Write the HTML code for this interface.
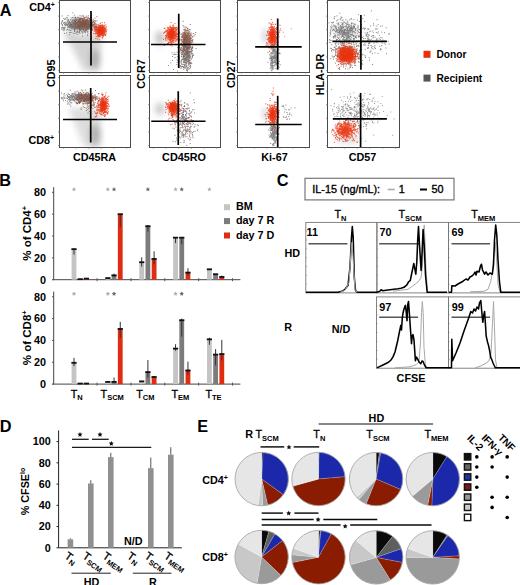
<!DOCTYPE html>
<html><head><meta charset="utf-8"><style>
html,body{margin:0;padding:0;background:#fff;width:520px;height:585px;overflow:hidden}
svg{display:block;font-family:"Liberation Sans", sans-serif}
</style></head><body>
<svg width="520" height="585" viewBox="0 0 520 585" font-family='"Liberation Sans", sans-serif'>
<defs>
<filter id="b1" x="-50%" y="-50%" width="200%" height="200%"><feGaussianBlur stdDeviation="1"/></filter>
<filter id="b2" x="-50%" y="-50%" width="200%" height="200%"><feGaussianBlur stdDeviation="2"/></filter>
<filter id="b3" x="-50%" y="-50%" width="200%" height="200%"><feGaussianBlur stdDeviation="3"/></filter>
<filter id="b4" x="-50%" y="-50%" width="200%" height="200%"><feGaussianBlur stdDeviation="4"/></filter>
<filter id="b5" x="-50%" y="-50%" width="200%" height="200%"><feGaussianBlur stdDeviation="5"/></filter>
</defs>
<rect width="520" height="585" fill="#fff"/>
<text x="-0.3" y="16.0" font-size="16.3" font-weight="bold" text-anchor="start" fill="#000">A</text>
<text x="-0.8" y="186.3" font-size="16.3" font-weight="bold" text-anchor="start" fill="#000">B</text>
<text x="276.7" y="185.7" font-size="16.3" font-weight="bold" text-anchor="start" fill="#000">C</text>
<text x="-0.2" y="431.6" font-size="16.3" font-weight="bold" text-anchor="start" fill="#000">D</text>
<text x="197.2" y="432.0" font-size="16.3" font-weight="bold" text-anchor="start" fill="#000">E</text>
<polygon points="65,34 102,34 99,71 84,71" fill="#a0a0a0" opacity="0.45" filter="url(#b3)"/>
<ellipse cx="95" cy="59" rx="4.5" ry="10" fill="#707070" opacity="0.4" filter="url(#b3)"/>
<ellipse cx="70" cy="34" rx="6" ry="6" fill="#b0b0b0" opacity="0.3" filter="url(#b3)"/>
<ellipse cx="80" cy="24" rx="12" ry="5.5" fill="#888" opacity="0.5" filter="url(#b2)"/>
<ellipse cx="85" cy="24" rx="7" ry="4.5" fill="#8a5040" opacity="0.6" filter="url(#b2)"/>
<path d="M73.2 26.2h1M73.4 23.4h1M68.5 23.8h1M82.8 25.9h1M82.3 25.3h1M77.8 25.1h1M63.3 27.4h1M78.5 26.2h1M63.2 18.6h1M68.8 22.9h1M77.1 24.3h1M78.6 22.3h1M77.2 25.8h1M70.4 30.3h1M78.9 28.6h1M70.7 22.0h1M72.6 24.1h1M79.4 25.3h1M71.9 21.2h1M71.4 28.7h1M69.3 25.3h1M78.0 19.4h1M75.3 28.9h1M60.9 23.4h1M74.3 21.7h1M78.5 24.3h1M64.7 27.3h1M79.7 27.7h1M85.1 25.7h1M75.8 20.1h1M79.3 22.4h1M71.8 20.2h1M68.2 22.7h1M84.0 17.6h1M64.8 25.3h1M85.1 26.5h1M61.7 15.9h1M77.5 22.0h1M67.2 27.8h1M82.7 25.0h1M76.7 26.0h1M86.2 26.6h1M78.6 26.4h1M64.0 28.9h1M81.7 26.3h1M61.2 22.3h1M80.9 18.3h1M73.7 28.0h1M65.8 30.0h1M78.9 24.0h1M77.3 26.7h1M75.8 28.4h1M70.4 23.1h1M82.3 24.6h1M68.8 27.7h1M85.3 23.0h1M65.3 24.0h1M74.0 23.5h1M84.8 21.0h1M83.8 20.2h1M69.5 26.6h1M82.9 27.4h1M77.4 25.0h1M76.1 26.5h1M73.8 25.4h1M79.0 24.5h1M80.3 26.4h1M89.1 25.6h1M72.0 23.2h1M74.9 27.6h1M72.6 25.8h1M87.9 15.8h1M67.1 25.3h1M77.8 25.3h1M72.0 26.7h1M77.0 22.7h1M92.0 25.7h1M71.1 24.2h1M73.4 24.3h1M82.1 20.5h1M74.5 27.7h1M81.0 29.6h1M63.1 23.3h1M72.6 26.6h1M82.6 15.4h1M82.6 19.6h1M79.8 19.4h1M76.2 28.6h1M74.0 25.1h1M80.6 25.0h1M74.4 29.7h1M82.3 23.5h1M94.2 20.6h1M81.4 23.6h1M75.9 26.9h1M76.6 26.7h1M64.3 19.4h1M79.3 21.2h1M67.8 19.5h1M83.9 27.0h1M85.3 21.3h1M75.0 20.6h1M80.4 29.9h1M68.8 29.8h1M81.9 23.9h1M61.2 29.3h1M74.3 22.5h1M77.8 25.9h1M85.5 21.0h1M83.0 29.6h1M85.2 23.9h1M69.8 28.0h1M75.8 24.9h1M85.0 23.6h1M62.0 27.3h1M77.2 22.4h1M74.9 27.3h1M75.6 29.0h1M74.6 28.0h1M85.4 30.0h1M70.3 27.5h1M61.9 20.8h1M61.3 28.1h1M66.4 24.5h1M73.7 24.4h1M70.9 25.3h1M87.5 24.7h1M78.7 27.9h1M73.6 20.2h1M71.1 28.2h1M63.5 22.5h1M82.1 27.2h1M75.1 27.2h1M76.2 20.5h1M64.1 22.3h1M81.5 22.6h1M68.7 21.9h1M64.3 24.1h1M66.7 25.7h1M70.5 17.9h1M80.1 23.6h1M77.0 22.9h1M80.5 27.0h1M79.7 25.6h1M84.3 26.7h1M78.2 17.4h1M81.3 29.0h1M72.9 22.9h1M88.6 18.5h1M78.3 32.7h1M68.5 26.8h1M88.2 24.1h1M78.9 27.6h1M68.7 24.2h1M77.0 27.3h1M74.8 23.8h1M67.9 23.3h1M81.2 24.8h1M69.0 21.6h1M93.7 28.4h1M79.5 15.7h1M79.4 26.1h1M86.8 26.0h1M74.5 26.3h1M61.4 28.0h1M77.3 22.1h1M84.3 30.7h1M65.2 22.2h1M77.0 25.1h1M72.2 21.2h1M89.8 28.0h1M66.6 19.9h1M86.9 27.9h1M87.7 27.3h1M68.9 25.4h1M74.6 26.3h1M69.9 24.1h1M78.2 25.8h1M79.5 25.2h1M72.7 27.2h1M75.3 21.7h1M70.6 24.5h1M74.2 25.0h1M75.0 25.1h1M74.1 20.2h1M77.9 28.1h1M78.0 23.9h1M78.1 21.2h1M61.7 24.7h1M68.5 27.0h1M67.4 15.6h1M67.7 29.9h1M72.3 19.8h1M69.7 26.3h1M78.5 25.1h1M85.4 26.9h1M74.9 26.5h1M86.6 27.8h1M82.2 20.8h1M74.0 27.0h1M72.9 28.1h1M79.2 27.6h1M73.5 33.2h1M83.7 23.8h1M75.6 33.3h1M72.6 27.5h1M81.9 24.5h1M66.8 25.1h1M77.5 28.3h1M80.5 24.6h1M81.0 26.3h1M76.4 24.7h1M73.3 26.8h1M67.6 22.4h1M75.0 19.5h1M71.9 17.7h1M70.2 26.4h1M79.0 24.3h1M73.4 19.7h1M87.8 26.3h1M82.7 21.5h1M73.7 18.3h1M80.5 27.7h1M61.7 24.3h1M79.4 18.5h1M62.2 20.9h1M70.6 19.7h1M75.2 25.3h1M79.4 26.9h1M85.5 28.5h1M65.8 22.8h1M67.6 20.8h1M74.4 24.5h1M78.4 19.1h1M66.3 24.4h1M73.6 23.4h1M74.6 21.9h1M79.9 25.7h1M74.4 22.2h1M73.8 15.2h1M68.1 24.6h1M64.5 25.2h1M76.0 19.8h1M73.2 23.4h1M78.2 26.6h1M74.7 21.6h1M74.0 24.3h1M80.1 25.5h1M69.9 19.9h1M72.4 22.0h1M67.2 24.1h1M71.6 24.9h1M78.7 23.1h1M91.3 23.4h1M82.7 24.9h1M82.8 16.4h1M69.7 25.3h1M79.2 32.4h1M77.3 28.9h1M80.4 27.7h1M78.6 24.0h1M78.6 20.8h1M83.3 21.0h1M76.7 31.7h1M73.4 24.6h1M83.1 24.6h1M69.3 25.4h1M79.1 26.9h1M69.6 30.5h1M86.7 24.6h1M76.9 23.0h1M84.9 22.1h1M79.7 22.9h1M70.1 26.9h1M84.3 24.5h1M70.3 27.3h1M74.7 25.6h1M85.7 28.3h1M71.4 32.3h1M75.0 27.2h1M70.5 24.3h1M62.8 30.6h1M84.6 20.4h1M64.5 19.0h1M83.2 22.9h1M74.6 23.4h1M74.2 20.8h1M75.2 19.6h1M74.5 25.5h1M78.3 23.7h1M68.7 25.0h1M71.6 29.8h1M80.4 24.1h1M71.7 22.1h1M68.4 23.3h1M77.1 26.3h1M79.0 31.6h1M70.1 24.5h1M94.6 18.2h1M71.3 25.1h1M76.1 25.9h1M73.3 25.7h1M75.4 27.1h1M61.8 21.5h1M75.0 21.0h1M67.7 26.6h1M70.5 26.7h1M80.2 25.5h1M78.6 24.1h1M65.1 24.4h1M78.2 22.7h1M74.3 27.0h1M68.9 26.7h1M88.0 22.6h1M76.0 24.0h1M85.8 25.6h1M81.3 22.2h1M74.9 24.5h1M62.6 29.4h1M81.3 18.6h1M80.2 24.1h1M78.1 25.7h1M64.5 23.8h1M85.4 22.5h1M67.8 19.9h1M66.5 25.6h1M86.8 26.0h1M76.7 32.1h1M71.4 22.2h1M78.7 26.4h1M67.9 20.5h1M77.0 25.3h1M65.9 23.8h1M71.2 26.1h1M74.2 24.2h1M72.5 28.1h1M84.7 23.3h1M80.9 21.9h1M75.5 27.0h1M85.6 23.2h1M74.5 25.2h1M64.5 24.6h1M70.3 25.8h1M67.1 17.8h1M75.3 25.4h1M71.2 27.5h1M73.1 22.4h1M78.3 19.2h1M70.3 24.4h1M80.9 23.9h1M77.2 22.3h1M77.1 30.2h1M70.2 32.5h1M70.5 24.6h1M76.2 28.0h1M66.3 17.4h1M79.2 27.2h1M79.4 33.4h1M76.4 25.4h1M81.5 25.8h1M86.6 20.3h1M72.4 12.8h1M80.7 23.2h1M81.5 31.8h1M75.0 23.6h1M71.5 21.7h1M70.6 26.7h1M75.3 24.7h1M73.8 27.6h1M78.5 24.0h1M79.7 24.0h1M66.9 29.4h1M78.3 21.2h1M82.6 25.7h1M64.0 30.0h1M77.3 27.5h1M76.4 24.0h1M64.2 27.8h1M75.2 23.5h1M77.5 24.8h1M79.7 23.2h1M74.7 17.2h1M72.0 26.8h1M84.4 23.3h1M74.2 29.9h1M72.7 27.0h1M86.7 24.6h1M83.6 22.1h1M76.5 24.2h1M75.8 28.3h1M91.7 22.2h1M71.0 26.2h1M67.6 26.2h1M79.0 23.6h1M78.7 19.2h1M80.3 19.2h1M70.1 22.6h1M72.2 27.4h1M75.6 23.1h1M78.8 29.9h1M75.0 25.7h1M83.7 25.4h1M66.0 33.0h1M90.5 17.8h1M74.7 25.9h1M81.8 26.8h1M73.1 20.9h1M75.7 28.0h1M67.4 21.0h1M74.8 17.9h1M73.2 23.0h1M78.2 22.1h1M68.8 23.2h1M74.7 22.2h1M75.1 27.1h1M83.3 30.3h1M69.5 23.1h1M69.9 24.4h1M78.7 19.9h1M78.2 24.4h1M62.2 25.5h1M83.4 18.1h1M80.7 25.2h1M78.3 26.0h1M84.1 23.7h1M81.1 23.1h1M80.1 21.7h1M74.2 30.4h1M78.1 24.0h1M67.0 21.8h1M76.4 27.7h1M78.0 26.3h1M74.7 29.1h1M72.3 22.6h1M81.2 24.7h1M73.1 22.5h1M73.2 26.6h1M77.5 20.4h1M78.0 25.1h1M68.0 27.1h1M73.0 23.4h1M80.6 29.0h1M70.2 26.0h1M68.9 32.4h1M71.5 28.6h1M70.5 27.3h1M90.5 15.9h1M72.0 26.2h1M74.3 22.2h1M90.1 24.8h1M63.5 27.4h1M62.9 28.4h1M71.0 25.0h1M83.8 24.9h1M65.3 18.7h1M83.3 27.0h1M69.3 27.4h1M78.5 26.7h1M81.3 27.0h1M81.2 16.1h1M76.2 26.2h1M92.9 21.3h1M72.7 24.6h1M81.2 23.0h1M83.0 21.8h1M76.9 22.7h1M76.1 22.2h1M63.8 28.2h1M77.1 22.6h1M76.4 27.9h1M68.2 24.1h1M78.8 26.3h1M72.7 17.3h1" stroke="#6e6e6e" stroke-width="1" opacity="0.85"/>
<path d="M91.8 25.5h1M85.1 23.7h1M86.4 23.2h1M79.4 22.3h1M81.7 22.7h1M78.6 26.4h1M77.8 26.5h1M79.4 25.6h1M92.6 25.1h1M81.0 24.6h1M85.8 19.3h1M81.7 25.0h1M82.4 24.7h1M89.0 26.8h1M90.0 26.3h1M83.4 24.4h1M83.5 23.6h1M84.0 19.3h1M83.2 24.4h1M79.6 24.4h1M87.8 24.0h1M96.4 16.7h1M83.9 19.0h1M90.4 32.5h1M71.2 24.9h1M87.9 23.6h1M88.0 17.8h1M89.7 25.6h1M85.1 22.7h1M88.5 23.0h1M86.2 23.0h1M72.6 24.4h1M86.1 26.8h1M80.2 24.4h1M88.4 24.9h1M91.8 30.5h1M80.0 18.7h1M89.7 29.1h1M90.1 26.9h1M81.6 22.4h1M89.9 21.8h1M75.0 21.5h1M98.7 30.3h1M81.2 22.3h1M86.3 22.3h1M92.2 24.3h1M79.0 28.4h1M81.8 25.2h1M84.9 23.6h1M86.8 22.4h1M74.9 17.9h1M78.0 22.2h1M84.9 24.7h1M88.1 24.9h1M80.6 22.4h1M73.3 24.0h1M87.7 26.1h1M84.3 24.0h1M90.1 24.5h1M89.1 26.2h1M86.2 28.4h1M81.9 23.4h1M80.6 22.1h1M93.6 29.8h1M85.1 26.2h1M91.5 26.9h1M91.6 20.7h1M81.5 25.9h1M92.9 24.8h1M80.3 23.4h1M81.4 21.9h1M93.3 22.6h1M85.1 31.0h1M91.5 25.5h1M81.6 25.7h1M93.9 26.4h1M91.9 24.8h1M87.8 23.9h1M87.3 28.4h1M77.1 24.3h1M86.3 22.8h1M83.3 26.9h1M96.0 26.4h1M86.8 19.8h1M95.6 24.7h1M84.8 21.1h1M84.7 21.2h1M85.4 25.9h1M85.2 25.3h1M80.3 28.8h1M81.4 19.0h1M84.0 22.2h1M79.4 23.4h1M86.6 21.0h1M84.2 28.8h1M88.8 24.0h1M85.7 24.1h1M84.7 26.7h1M84.5 17.3h1M84.9 21.8h1M88.6 22.7h1M85.8 31.0h1M79.2 21.1h1M77.2 17.3h1M74.7 25.6h1M81.5 18.9h1M76.8 26.4h1M80.7 23.4h1M86.8 28.6h1M95.7 27.6h1M85.8 25.1h1M94.9 28.8h1M83.3 25.9h1M86.6 24.7h1M82.2 20.5h1M82.1 19.9h1M91.7 26.1h1M78.4 28.7h1M89.9 18.8h1M95.1 26.9h1M96.4 20.8h1M87.9 25.8h1M86.1 25.0h1M90.8 20.0h1M78.2 20.3h1M81.9 22.7h1M87.0 25.3h1M85.2 22.5h1M82.6 27.4h1M89.2 24.8h1M83.2 29.2h1M81.7 26.4h1M91.3 23.7h1M89.5 21.2h1M90.6 25.1h1M76.3 26.5h1M80.1 28.3h1M81.3 24.0h1M86.6 23.5h1M86.4 22.8h1M88.7 24.5h1M86.2 16.2h1M91.4 24.6h1M75.2 24.8h1M87.6 27.7h1M79.0 29.1h1M84.1 31.7h1M84.2 26.5h1M83.0 21.2h1M91.0 27.2h1M93.5 27.1h1M81.8 19.5h1M81.4 22.5h1M80.5 26.2h1M86.8 23.7h1M85.9 24.1h1M86.2 26.8h1M90.3 22.4h1M76.7 28.8h1M85.6 27.8h1M76.0 23.5h1M85.1 20.2h1M82.2 26.7h1M90.9 29.3h1M80.3 20.3h1M87.9 27.3h1M86.1 20.6h1M89.3 26.9h1M88.0 23.0h1M86.7 26.9h1M81.9 19.0h1M86.8 25.9h1M85.1 27.2h1M81.8 24.3h1M83.3 26.2h1M93.8 23.7h1M96.3 29.1h1M89.3 26.3h1M94.7 24.0h1M84.4 21.3h1M87.6 28.5h1M87.9 25.8h1M83.9 25.0h1M77.2 27.6h1M82.7 21.2h1M80.9 22.0h1M89.7 27.7h1M77.5 27.3h1M89.9 22.8h1M76.8 22.3h1M81.5 25.5h1M83.0 18.4h1M86.3 19.9h1M90.0 20.9h1M81.2 21.9h1M82.0 28.4h1M89.7 26.3h1M86.8 19.9h1M82.1 22.8h1M79.6 26.0h1M80.9 22.4h1M79.3 18.3h1M88.3 28.5h1M86.0 21.6h1M70.1 25.0h1M91.7 25.4h1M90.1 28.9h1M91.2 23.2h1M90.8 26.8h1M76.5 23.3h1M77.2 24.2h1M88.2 21.3h1M73.7 28.4h1M87.1 28.9h1M77.7 27.7h1M96.4 30.5h1M83.8 25.3h1M84.2 27.5h1M90.7 24.8h1M77.5 26.7h1M82.4 26.4h1M86.4 29.4h1M91.3 23.1h1M86.9 29.8h1M82.0 25.8h1M91.5 28.3h1M87.9 20.5h1M78.1 25.2h1M87.1 32.1h1M80.3 27.9h1M89.2 19.5h1M80.5 25.0h1M82.3 24.0h1M87.6 22.1h1M87.6 22.6h1M82.0 26.1h1M81.8 25.4h1M93.8 24.6h1M84.2 26.7h1M83.0 27.7h1M77.9 26.4h1M82.2 22.1h1M94.7 21.9h1M94.7 26.5h1M93.0 21.6h1M91.6 28.9h1M84.4 24.1h1M98.5 25.0h1M82.7 22.6h1M87.5 25.5h1M86.0 29.7h1M83.2 25.9h1M93.0 21.5h1M90.7 30.0h1M77.5 21.2h1M79.3 19.0h1M87.5 18.9h1M87.7 28.9h1M76.1 23.6h1M74.5 26.8h1M80.9 23.7h1M85.3 26.1h1M83.1 24.5h1M82.0 24.8h1M78.6 24.7h1M74.4 23.0h1M95.5 24.7h1M78.1 25.3h1M79.7 19.5h1M80.9 26.7h1M87.1 24.2h1M79.9 21.3h1M92.4 25.2h1M79.8 18.2h1M77.5 31.9h1M78.7 24.3h1M86.2 24.0h1M83.5 20.4h1M79.2 29.6h1M80.8 27.0h1M75.7 23.7h1M86.4 27.6h1M78.8 26.3h1M87.1 22.3h1M87.6 21.8h1M80.6 24.4h1M70.1 24.2h1M79.5 20.1h1M82.7 26.8h1M82.8 28.3h1M78.6 20.6h1M93.5 25.7h1M90.2 22.0h1M89.4 25.3h1M88.6 24.6h1M91.6 22.6h1M79.7 20.1h1M91.4 22.3h1M79.3 21.7h1M82.6 20.7h1M83.4 22.6h1M82.0 21.6h1M85.2 23.1h1M85.6 25.2h1M86.9 17.9h1M82.1 22.1h1M89.3 19.8h1M81.1 23.6h1M83.2 27.5h1M82.6 27.4h1M76.9 19.1h1M91.7 25.8h1M87.7 24.9h1M87.7 20.9h1M90.2 22.9h1M90.4 24.8h1M74.1 20.6h1M91.2 24.1h1M82.8 25.2h1M82.7 22.9h1M85.6 24.9h1M93.3 24.6h1M95.3 29.9h1M94.4 27.7h1M85.7 24.9h1M84.2 22.3h1M84.6 22.6h1M94.0 26.1h1M82.5 18.8h1M84.7 23.3h1M79.0 21.1h1M72.6 26.2h1M84.6 32.2h1M84.8 24.1h1M92.9 24.9h1M85.9 23.4h1M81.7 29.0h1M90.5 29.6h1M83.1 24.6h1M80.2 27.4h1M77.3 26.2h1M91.0 28.7h1M79.8 27.8h1M81.1 22.2h1M77.7 28.0h1M94.1 22.7h1M80.8 23.5h1M98.8 27.5h1M82.0 19.1h1M81.3 28.1h1M95.3 23.7h1M81.2 23.0h1M74.6 27.2h1M79.0 27.7h1M75.6 20.7h1M86.6 22.2h1M89.3 24.5h1M78.5 26.4h1M89.6 18.8h1M95.0 26.0h1M89.2 18.9h1M81.0 23.5h1M90.9 20.1h1M80.1 18.4h1M83.7 25.5h1M75.7 22.7h1M87.8 29.3h1M88.7 23.6h1M78.5 21.7h1M81.3 24.9h1M84.7 29.5h1M86.6 21.3h1M93.5 27.3h1M85.6 22.3h1M74.7 21.4h1M90.0 22.1h1M77.7 25.1h1M86.3 26.3h1M88.6 28.7h1M80.4 27.4h1M79.6 26.6h1M86.0 25.2h1M90.3 24.4h1M91.1 27.1h1M85.7 22.8h1M80.9 22.9h1M83.9 24.4h1M101.4 26.4h1M89.2 21.9h1M81.1 23.5h1M86.1 21.4h1M93.9 22.8h1M90.9 17.5h1M85.0 25.3h1M86.1 26.3h1M86.5 25.0h1M74.6 22.4h1M72.1 26.4h1M86.7 23.9h1M80.5 22.8h1M95.2 29.7h1M84.7 28.4h1M76.3 18.7h1M82.3 21.9h1M81.9 25.1h1M101.6 22.5h1M85.3 25.3h1M84.8 27.3h1M94.8 20.8h1M85.9 23.7h1M87.0 19.9h1M75.3 17.6h1M87.9 25.1h1M85.4 17.4h1M82.9 22.2h1M77.2 21.8h1M88.8 26.1h1M84.9 26.0h1M81.7 24.7h1M85.2 26.2h1M84.6 24.1h1M84.3 22.6h1M97.3 26.0h1M87.4 31.4h1M92.7 19.8h1M88.8 27.0h1M95.4 28.4h1M89.2 21.0h1M80.2 25.3h1M87.8 21.4h1M82.9 23.3h1M85.3 25.5h1M83.4 20.8h1M91.8 29.3h1M84.4 27.6h1M87.4 26.5h1M87.6 22.2h1M88.2 27.5h1M80.1 30.4h1M96.5 30.0h1M95.9 26.7h1M83.1 22.7h1M80.5 24.8h1M84.8 26.5h1M73.9 31.4h1M97.5 24.4h1M88.7 25.9h1M86.5 23.9h1M84.3 22.0h1M86.0 24.4h1" stroke="#85503f" stroke-width="1" opacity="0.85"/>
<path d="M84.2 26.5h1M82.3 29.7h1M86.2 25.8h1M84.9 32.9h1M86.2 28.2h1M78.6 28.7h1M87.1 34.9h1M80.9 27.3h1M84.6 30.2h1M75.6 26.9h1M81.3 31.9h1M73.6 25.9h1M85.5 25.2h1M82.8 30.7h1M81.2 25.9h1M81.6 28.3h1M84.4 26.6h1M89.6 23.6h1M80.8 29.5h1M88.7 27.4h1M85.8 27.5h1M87.2 35.6h1M79.2 31.1h1M75.5 32.9h1M90.5 29.6h1M74.1 30.9h1M90.0 33.3h1M87.7 23.1h1M77.2 34.5h1M73.4 33.5h1M95.2 32.2h1M89.8 28.3h1M73.4 29.1h1M80.6 29.3h1M86.9 29.0h1M83.3 31.0h1M82.0 36.0h1M85.1 29.8h1M80.5 27.3h1M91.4 30.0h1M74.4 27.5h1M81.0 27.9h1M89.6 25.4h1M85.4 30.0h1M73.8 29.7h1M81.3 31.3h1M78.8 30.6h1M70.3 25.7h1M87.5 33.1h1M81.9 27.4h1M89.6 22.2h1M76.4 31.9h1M86.6 25.9h1M68.8 34.6h1M83.1 26.4h1M82.4 32.7h1M63.9 33.4h1M87.2 22.2h1M87.4 23.3h1M90.0 30.9h1M97.8 27.4h1M82.0 33.2h1M77.5 27.0h1M79.4 29.2h1M74.4 31.2h1M85.8 29.8h1M93.9 28.4h1M91.1 27.6h1M87.3 22.7h1M83.4 28.9h1" stroke="#6e6e6e" stroke-width="1" opacity="0.85"/>
<ellipse cx="100.5" cy="30.5" rx="4" ry="4.3" fill="#e8300c" opacity="0.85" filter="url(#b1)"/>
<path d="M99.2 29.2h1M99.6 28.8h1M94.6 29.2h1M99.0 29.4h1M97.6 30.6h1M102.6 30.2h1M99.2 35.1h1M103.1 33.8h1M103.6 30.0h1M100.2 34.3h1M99.0 30.6h1M101.5 32.1h1M99.8 34.0h1M100.0 33.2h1M103.4 33.0h1M102.5 27.5h1M97.0 29.1h1M101.8 35.5h1M97.2 31.9h1M98.2 28.8h1M99.8 33.1h1M101.1 34.5h1M97.8 33.7h1M103.0 31.2h1M101.8 29.3h1M97.6 29.8h1M98.8 39.7h1M99.2 36.0h1M101.0 31.9h1M102.5 28.7h1M103.0 32.1h1M96.4 32.8h1M102.0 32.4h1M104.8 29.8h1M101.9 33.2h1M98.1 34.6h1M96.6 27.1h1M101.9 27.7h1M100.2 26.1h1M100.7 27.6h1M101.4 26.4h1M101.7 30.2h1M100.7 30.8h1M100.9 27.0h1M93.6 31.1h1M98.0 29.6h1M101.7 25.0h1M98.4 29.2h1M97.6 32.0h1M100.1 28.5h1M97.8 33.4h1M98.7 32.8h1M101.7 25.3h1M97.6 31.0h1M101.4 33.3h1M102.7 34.1h1M99.5 30.4h1M102.6 29.7h1M103.4 26.2h1M102.3 30.5h1M95.2 33.9h1M101.3 31.1h1M97.6 29.6h1M104.6 28.5h1M91.1 28.4h1M97.3 30.6h1M99.4 28.3h1M98.2 34.1h1M96.6 36.9h1M99.0 27.7h1M102.6 32.7h1M97.7 33.2h1M95.5 28.2h1M103.5 30.2h1M97.0 32.5h1M103.0 30.9h1M95.6 30.0h1M101.6 33.3h1M105.5 30.2h1M99.2 30.9h1M103.8 28.2h1M104.0 22.8h1M102.7 29.0h1M101.7 33.1h1M97.3 30.7h1M101.1 32.8h1M98.0 28.0h1M95.3 38.6h1M100.0 30.3h1M96.5 33.8h1M99.1 35.3h1M102.8 31.1h1M102.5 27.7h1M99.6 29.3h1M97.1 31.1h1M100.1 35.3h1M91.4 29.0h1M98.0 29.6h1M101.6 32.2h1M100.6 29.6h1M101.8 32.1h1M95.5 30.2h1M96.8 27.5h1M100.9 31.2h1M100.8 28.4h1M100.0 28.3h1M101.5 33.1h1M105.2 34.8h1M98.3 29.6h1M98.0 31.9h1M105.8 33.1h1M94.6 27.2h1M97.0 32.5h1M100.5 31.9h1M105.3 28.5h1M98.2 36.9h1M101.4 28.7h1M95.0 26.4h1M93.9 31.2h1M100.6 34.0h1M100.1 28.9h1M98.5 36.7h1M95.7 31.5h1M100.6 32.9h1M99.4 32.5h1M102.7 30.6h1M99.3 30.4h1M97.9 30.4h1M99.7 31.6h1M104.1 34.9h1M99.3 32.8h1M101.3 33.3h1M100.6 31.8h1M99.2 28.6h1M102.9 34.9h1M102.3 32.3h1M101.2 29.6h1M95.7 33.0h1M101.0 29.3h1M97.9 34.8h1M95.6 36.3h1M102.2 38.1h1M98.6 30.9h1M99.1 31.5h1M99.9 28.8h1M103.4 28.6h1M99.1 32.7h1M99.0 29.7h1M101.5 29.9h1M97.1 30.7h1M99.9 36.1h1M97.5 33.9h1M98.4 29.9h1M99.6 31.8h1M102.8 36.2h1M98.8 35.0h1M103.2 33.4h1M98.4 33.7h1M100.2 32.1h1M99.8 33.0h1M103.5 34.4h1M99.9 34.0h1M104.4 28.2h1M104.5 27.0h1M102.0 32.8h1M104.5 31.8h1M99.2 28.6h1M97.1 33.3h1M99.9 28.8h1M101.9 28.7h1M99.3 29.6h1M105.0 35.4h1M100.1 26.3h1M101.2 31.2h1M101.4 32.7h1M99.6 33.8h1M102.8 31.6h1M99.4 29.6h1M102.4 27.7h1M100.1 28.8h1M96.7 32.8h1M100.4 31.1h1M102.9 26.5h1M100.3 31.9h1M102.7 27.7h1M102.4 31.7h1M104.2 34.4h1M102.0 37.4h1M100.5 29.7h1M99.6 28.2h1M100.4 25.4h1M100.3 32.3h1M103.2 30.0h1M104.2 29.0h1M100.1 25.4h1M98.4 28.6h1M104.4 32.6h1M97.6 32.6h1M101.8 30.3h1M100.6 30.1h1M99.1 25.8h1M100.3 34.8h1M104.3 30.2h1M98.5 30.4h1M102.9 32.0h1M99.0 32.1h1M100.0 32.5h1M99.4 26.7h1M100.7 33.2h1M97.6 30.7h1M102.8 29.9h1M98.8 36.9h1M102.7 34.0h1M98.0 35.8h1M96.1 29.5h1M102.4 34.9h1M98.1 29.1h1M101.0 25.4h1M102.2 32.6h1M99.3 32.6h1M102.5 31.9h1M101.9 35.4h1M99.2 31.5h1M99.1 34.0h1M99.4 32.4h1M100.9 31.2h1M105.0 30.8h1M104.2 33.4h1M104.0 30.5h1M102.9 33.2h1M98.9 31.8h1M100.2 30.9h1M103.9 28.9h1M96.1 26.0h1M99.3 29.1h1M100.5 32.6h1M105.1 31.9h1M101.7 28.9h1M102.0 34.9h1M104.0 25.3h1M102.8 35.6h1M102.7 26.7h1M99.7 32.7h1M101.6 28.7h1M98.2 33.8h1M97.0 35.1h1M100.6 31.9h1M97.0 29.3h1M102.3 26.8h1M105.9 26.9h1M97.3 31.1h1M101.8 33.1h1M99.5 30.4h1M99.9 29.3h1M93.8 33.8h1M101.2 31.5h1M98.9 31.7h1M100.5 30.8h1M103.4 26.0h1M101.2 27.9h1M99.7 35.3h1M97.7 30.7h1M99.0 33.7h1M98.0 26.2h1M101.8 30.0h1M99.7 34.1h1M98.2 29.9h1M100.9 32.2h1M99.2 34.0h1M106.3 29.8h1M105.3 24.9h1M104.1 30.0h1M100.9 30.0h1M98.8 27.3h1M99.5 34.7h1M103.5 30.0h1M99.1 29.0h1M97.4 36.2h1M102.2 31.3h1M99.2 28.1h1M103.9 33.2h1M98.0 33.8h1M97.6 32.8h1M98.0 29.8h1M101.8 32.2h1M103.1 28.6h1M104.6 34.9h1M100.5 32.3h1M98.5 30.6h1M97.1 31.3h1M101.0 34.9h1M103.0 33.3h1M99.6 30.4h1M99.6 31.6h1M95.5 33.2h1M96.4 29.5h1M100.6 29.5h1M104.8 30.7h1M104.6 34.4h1M99.2 32.2h1M103.9 30.0h1M100.7 29.4h1M100.7 30.0h1M100.7 33.9h1M104.1 31.4h1M101.0 33.5h1M99.7 28.0h1M103.4 28.3h1M102.9 28.2h1M105.2 28.0h1M102.7 35.3h1M98.0 35.3h1M98.4 25.9h1M102.4 33.0h1M100.0 23.7h1M100.4 30.1h1M99.5 30.2h1M95.9 29.4h1M105.2 35.5h1M99.6 28.9h1M101.5 34.1h1M102.4 27.6h1M100.9 31.4h1M104.2 34.4h1M101.9 34.5h1M99.5 35.4h1M99.4 32.1h1M102.9 28.4h1M98.7 25.9h1M100.9 30.8h1M99.7 32.4h1M95.0 30.9h1M100.7 30.2h1M102.6 36.0h1M99.3 28.3h1M98.9 31.3h1M102.0 28.5h1M103.1 28.0h1M102.6 32.2h1M101.7 37.2h1M99.8 30.5h1M101.7 33.5h1M97.0 31.8h1M98.6 32.8h1M104.0 31.1h1M100.2 31.5h1M92.8 33.2h1M102.0 31.5h1M99.5 28.9h1M100.0 34.5h1M100.2 34.9h1M93.8 29.7h1M101.2 31.0h1M96.2 29.1h1M103.7 27.3h1M97.9 27.8h1M99.1 32.9h1M102.0 25.2h1M104.3 29.3h1M99.0 35.8h1M100.3 27.4h1M98.8 28.9h1M97.9 30.0h1M102.8 32.0h1M96.9 39.0h1M97.9 31.3h1M100.6 33.2h1M99.6 32.3h1M106.0 31.3h1M97.7 31.9h1M98.4 29.9h1M101.0 32.0h1M99.8 33.4h1M100.0 27.2h1M102.8 30.0h1M103.6 29.1h1M102.0 31.9h1M93.5 26.7h1M97.6 35.1h1M95.6 33.6h1M103.3 32.4h1M102.2 29.6h1M100.5 31.6h1M101.6 33.0h1M100.0 29.0h1M99.0 32.2h1M96.2 27.4h1M99.4 29.4h1M99.8 23.3h1M99.6 30.3h1M102.5 25.3h1M99.7 32.4h1M101.8 34.4h1M103.2 28.0h1M102.2 30.0h1M98.4 35.4h1M98.9 28.5h1M99.4 28.5h1M103.1 32.1h1M104.1 32.2h1" stroke="#e8300c" stroke-width="1" opacity="0.85"/>
<line x1="91" y1="11" x2="91" y2="65.5" stroke="#000" stroke-width="1.7"/>
<line x1="63" y1="42" x2="117" y2="42" stroke="#000" stroke-width="1.7"/>
<rect x="59.5" y="0.5" width="71.0" height="72.0" fill="none" stroke="#4a4a4a" stroke-width="1"/>
<g stroke="#777" stroke-width="0.7"><line x1="58.0" y1="70.5" x2="59.5" y2="70.5"/><line x1="63.5" y1="72.5" x2="63.5" y2="73.7"/><line x1="58.0" y1="56.9" x2="59.5" y2="56.9"/><line x1="76.1" y1="72.5" x2="76.1" y2="73.7"/><line x1="58.0" y1="43.3" x2="59.5" y2="43.3"/><line x1="88.7" y1="72.5" x2="88.7" y2="73.7"/><line x1="58.0" y1="29.7" x2="59.5" y2="29.7"/><line x1="101.3" y1="72.5" x2="101.3" y2="73.7"/><line x1="58.0" y1="16.1" x2="59.5" y2="16.1"/><line x1="113.9" y1="72.5" x2="113.9" y2="73.7"/><line x1="58.0" y1="2.5" x2="59.5" y2="2.5"/><line x1="126.5" y1="72.5" x2="126.5" y2="73.7"/></g>
<polygon points="68,108 101,108 101,147 84,147" fill="#a8a8a8" opacity="0.38" filter="url(#b3)"/>
<ellipse cx="95" cy="135" rx="5" ry="11" fill="#707070" opacity="0.42" filter="url(#b3)"/>
<ellipse cx="82" cy="97" rx="10" ry="3.5" fill="#8a6a60" opacity="0.45" filter="url(#b2)"/>
<path d="M73.3 100.3h1M73.0 96.3h1M76.7 97.6h1M87.2 95.9h1M80.7 97.4h1M68.3 94.6h1M76.3 98.6h1M80.5 98.8h1M78.4 96.3h1M81.3 94.8h1M67.7 96.6h1M67.0 96.1h1M72.2 96.0h1M77.7 95.3h1M74.7 92.9h1M79.1 95.1h1M81.1 89.9h1M71.8 98.2h1M78.7 97.8h1M66.5 98.1h1M79.1 94.9h1M83.7 97.4h1M78.1 96.3h1M82.2 97.8h1M86.8 98.7h1M73.2 96.9h1M85.1 96.5h1M81.0 98.9h1M76.6 91.2h1M79.0 98.1h1M79.0 95.4h1M87.3 97.1h1M73.2 95.6h1M80.8 94.5h1M70.3 102.9h1M88.1 100.4h1M88.6 99.1h1M65.0 100.7h1M87.6 98.8h1M62.9 100.9h1M88.6 96.2h1M79.0 99.6h1M77.3 100.5h1M78.6 99.4h1M78.7 93.5h1M70.3 106.1h1M80.2 101.1h1M86.8 102.2h1M82.3 95.9h1M78.1 92.3h1M76.5 100.0h1M61.2 98.0h1M84.4 101.1h1M70.8 95.7h1M63.4 94.7h1M82.1 103.1h1M69.1 101.2h1M81.3 96.2h1M95.0 90.6h1M77.5 98.1h1M94.5 102.4h1M95.6 97.9h1M85.6 101.2h1M82.0 98.5h1M76.6 96.4h1M68.4 102.8h1M74.5 91.8h1M80.1 97.4h1M79.4 102.4h1M77.2 96.8h1M72.2 97.4h1M74.6 98.1h1M102.3 98.6h1M71.3 102.8h1M84.7 99.7h1M83.6 99.7h1M83.3 101.3h1M85.8 101.2h1M74.1 97.5h1M72.3 100.1h1M84.5 96.2h1M82.6 104.7h1M87.6 94.5h1M77.3 99.2h1M77.7 98.6h1M87.2 98.4h1M69.5 99.4h1M77.2 97.8h1M73.6 93.7h1M68.3 96.5h1M69.7 90.1h1M86.9 94.3h1M72.4 98.9h1M72.0 99.3h1M74.2 98.3h1M78.8 97.5h1M63.8 93.5h1M77.7 101.3h1M73.7 99.0h1M79.3 98.8h1M85.7 93.4h1M80.1 97.0h1M75.6 95.2h1M71.9 94.7h1M69.4 104.3h1M91.2 97.5h1M83.8 94.8h1M79.1 101.4h1M77.7 94.8h1M76.1 94.8h1M67.1 96.9h1M74.9 95.3h1M71.1 95.0h1M79.8 101.3h1M76.4 103.6h1M65.4 98.2h1M69.0 97.1h1M78.8 99.0h1M86.8 96.0h1M68.3 97.0h1M80.3 95.6h1M85.0 102.1h1M66.9 98.5h1M85.9 92.3h1M79.6 96.9h1M66.9 101.1h1M79.7 96.2h1M81.5 99.3h1M84.0 99.1h1M81.2 94.3h1M74.7 97.9h1M75.0 94.6h1M63.8 98.2h1M78.3 95.9h1M74.8 95.1h1M72.2 97.2h1M73.0 99.4h1M76.9 97.9h1M81.2 101.0h1M82.7 98.1h1M76.7 95.3h1M75.3 99.4h1M79.8 96.4h1M67.6 93.3h1M80.5 100.3h1M80.9 93.8h1M76.3 98.1h1M70.8 98.4h1M76.4 95.2h1M68.3 99.7h1M80.8 95.1h1M70.1 99.9h1M82.6 96.7h1M90.4 96.7h1M69.8 100.5h1M76.5 98.4h1M78.3 94.8h1M68.7 97.0h1M89.0 94.8h1M88.6 98.1h1M69.3 98.2h1M82.4 95.0h1M61.4 98.5h1M69.4 98.7h1M63.1 97.1h1M71.7 93.5h1M76.1 98.0h1M73.7 94.3h1M79.7 92.7h1M82.2 98.8h1M91.1 99.9h1M80.8 98.2h1M78.2 93.9h1M89.4 98.9h1M75.8 94.4h1M89.5 98.9h1M68.8 99.3h1M92.7 97.4h1M81.1 96.4h1M73.1 100.4h1M101.9 97.8h1M77.0 99.7h1M75.6 99.5h1M84.4 94.7h1M69.7 97.3h1M84.5 98.3h1M87.6 93.8h1M81.8 95.8h1M78.8 98.4h1M70.5 96.9h1M69.0 98.2h1M71.4 96.2h1M79.7 95.7h1M86.9 95.8h1M84.6 98.3h1M70.0 96.9h1M71.5 96.5h1M75.9 102.4h1M74.7 101.8h1M81.5 94.0h1M62.6 99.4h1M86.0 98.6h1M76.4 96.8h1M80.0 96.7h1M73.9 96.5h1M87.1 95.8h1M80.9 94.4h1M72.5 93.8h1M76.5 99.4h1M80.4 96.2h1M82.7 96.6h1M80.9 98.2h1M82.2 90.8h1M67.9 99.6h1M77.2 103.6h1M76.2 96.0h1M89.6 99.0h1M92.7 98.9h1M76.4 99.5h1M71.9 96.3h1M73.7 96.9h1M84.0 96.2h1M80.5 96.2h1M84.8 90.0h1M76.4 98.0h1M69.7 100.2h1M79.7 101.0h1M85.4 99.2h1M76.8 94.6h1M76.3 96.3h1M79.9 96.2h1M101.6 93.2h1M87.1 96.2h1M76.1 100.0h1M78.0 94.2h1M81.2 97.0h1M62.1 98.0h1M69.8 95.5h1M81.7 98.3h1M75.8 103.4h1M81.2 95.8h1M79.8 97.2h1M61.0 93.2h1M67.3 103.1h1M76.6 96.8h1M73.6 100.2h1M78.2 102.1h1M84.1 101.9h1M77.1 98.5h1M74.7 97.0h1M64.6 95.9h1M70.7 95.7h1M87.4 98.2h1M87.5 99.8h1M85.1 100.2h1M73.3 99.7h1M75.5 96.1h1M87.2 103.3h1M70.5 102.2h1M84.4 95.2h1M80.1 98.5h1M80.9 96.5h1M68.1 97.6h1M84.6 99.6h1M83.1 100.5h1M70.4 97.4h1M80.6 100.2h1M79.2 98.9h1M79.0 103.2h1M61.2 97.4h1M97.1 98.1h1M63.9 97.9h1M67.0 95.7h1M79.7 102.1h1M81.6 99.3h1M85.8 98.0h1M71.4 97.2h1M80.6 96.8h1M72.9 96.5h1M66.4 94.7h1M77.3 96.5h1M78.3 101.3h1M80.3 97.4h1M69.0 94.6h1M80.9 95.1h1M81.3 94.6h1M79.0 97.3h1M85.7 96.4h1M75.1 98.2h1M78.4 102.1h1M76.0 96.1h1M75.5 98.8h1M79.8 99.4h1M67.3 104.2h1M92.2 97.4h1" stroke="#6e6e6e" stroke-width="1" opacity="0.85"/>
<path d="M80.2 98.9h1M88.0 93.1h1M86.1 94.9h1M88.2 101.8h1M91.0 94.9h1M92.6 100.7h1M84.3 99.7h1M93.3 97.7h1M85.9 97.2h1M91.6 93.3h1M92.8 96.2h1M90.5 94.6h1M81.5 97.1h1M90.0 94.6h1M88.9 97.0h1M92.0 97.8h1M88.3 98.1h1M94.6 97.6h1M85.9 103.3h1M86.4 100.2h1M82.5 99.0h1M75.1 98.8h1M82.9 94.9h1M79.2 101.2h1M88.1 94.9h1M94.7 96.8h1M84.2 99.1h1M80.5 94.6h1M82.4 101.3h1M90.6 94.7h1M91.8 98.6h1M88.4 98.6h1M88.0 96.1h1M81.6 96.8h1M84.2 100.0h1M80.1 102.3h1M83.0 97.1h1M89.4 99.5h1M84.4 95.9h1M81.2 94.7h1M91.5 101.1h1M95.0 99.7h1M87.6 100.3h1M90.6 97.9h1M87.7 103.7h1M77.8 95.1h1M81.4 100.3h1M91.7 97.7h1M89.2 98.4h1M87.4 97.2h1M85.9 98.5h1M91.4 103.9h1M77.3 99.8h1M86.0 100.8h1M91.1 100.4h1M89.9 96.2h1M77.8 102.5h1M91.8 96.2h1M92.2 100.1h1M74.2 100.7h1M81.2 101.3h1M82.7 96.7h1M78.6 98.0h1M90.9 96.9h1M77.0 103.7h1M94.9 100.2h1M83.4 95.6h1M78.1 99.8h1M92.3 95.9h1M86.0 97.8h1M84.8 99.7h1M96.1 97.0h1M90.1 101.1h1M84.6 98.1h1M79.5 101.1h1M83.4 96.9h1M86.3 96.4h1M81.0 97.8h1M93.2 98.0h1M88.5 95.0h1M76.6 102.9h1M84.1 94.8h1M85.5 100.0h1M77.7 96.4h1M87.3 96.3h1M89.8 100.8h1M88.1 97.5h1M85.8 97.0h1M85.4 99.3h1M84.6 100.8h1M98.5 97.2h1M87.7 100.5h1M89.1 97.9h1M83.7 100.9h1M89.0 99.7h1M82.1 100.0h1M89.8 98.1h1M89.1 103.7h1M76.9 100.0h1M80.3 95.2h1M84.9 99.8h1M86.3 95.7h1M79.1 97.2h1M86.1 96.5h1M78.7 102.7h1M81.9 98.1h1M83.3 97.1h1M86.2 97.8h1M89.0 95.6h1M78.8 103.2h1M85.6 100.4h1M91.7 99.8h1M86.2 94.7h1M78.3 100.9h1M89.3 99.9h1M78.0 93.3h1M80.9 95.6h1M86.8 96.0h1M93.7 97.0h1M83.3 100.6h1M87.6 96.3h1M90.0 103.2h1M80.1 97.9h1M80.8 93.8h1M89.0 100.2h1M90.7 99.5h1M76.2 98.4h1M82.8 95.6h1M80.6 100.4h1M84.6 103.3h1M88.3 93.9h1M90.3 101.5h1M86.2 95.6h1M94.6 95.3h1M85.6 93.9h1M79.9 94.4h1M91.3 101.4h1M84.0 95.2h1M85.7 99.4h1M78.6 95.7h1M85.5 100.2h1M86.4 99.6h1M79.9 92.4h1M87.5 96.3h1M85.4 97.6h1M88.3 96.6h1M93.0 98.6h1M88.6 100.0h1M91.1 99.5h1M77.5 97.0h1M95.1 99.7h1M88.7 99.6h1M82.9 96.8h1M82.8 101.3h1M87.8 102.9h1M88.4 103.1h1M88.2 95.6h1M94.5 99.3h1M91.8 99.0h1M84.4 98.9h1M80.5 95.6h1M81.6 97.2h1M79.4 98.2h1M87.5 103.5h1M95.0 98.4h1M90.3 98.0h1M87.9 98.4h1M83.3 98.7h1M78.7 99.6h1M84.6 95.8h1M84.2 99.9h1M82.7 99.7h1M88.8 102.3h1M80.7 98.2h1M88.5 102.2h1M87.3 100.4h1M78.8 97.1h1M94.2 97.8h1M96.6 96.7h1M84.6 94.6h1M89.1 99.2h1M95.9 98.9h1M84.8 95.0h1M85.6 100.8h1M89.7 101.5h1M90.3 98.4h1M89.0 98.9h1M79.4 102.7h1M87.8 95.9h1M87.9 99.2h1M90.9 102.1h1M71.0 99.9h1M93.6 96.2h1M76.8 99.2h1M87.7 99.4h1M80.5 97.3h1M87.0 100.3h1M96.8 99.2h1M83.0 92.7h1M91.3 98.2h1M85.5 96.1h1M89.6 94.1h1M86.5 98.8h1M87.5 101.7h1M85.5 98.7h1M90.2 94.7h1M84.6 98.7h1M90.7 96.5h1M90.0 99.5h1M78.6 94.8h1M78.9 98.8h1M87.0 100.3h1M90.1 97.1h1M91.3 100.5h1M88.3 99.7h1M79.6 99.4h1M80.9 95.5h1M84.3 98.8h1M85.7 97.7h1M81.0 99.0h1M82.3 95.0h1M86.5 102.1h1M84.0 95.9h1M92.9 102.8h1M84.5 98.0h1M87.1 105.8h1M86.7 101.0h1M88.2 94.0h1M80.5 95.4h1M88.2 98.8h1M94.9 97.8h1M87.5 98.7h1M86.7 104.3h1M87.4 102.2h1M92.5 97.0h1M89.4 97.6h1M86.5 98.9h1M86.1 97.3h1M93.8 97.8h1M89.5 102.7h1M89.1 101.1h1M92.9 101.2h1M94.6 94.9h1M95.8 98.6h1M77.3 96.9h1M79.0 98.4h1M78.6 96.0h1M87.5 98.9h1M82.0 97.9h1M85.5 98.7h1M86.0 97.9h1M90.4 94.5h1M83.5 98.8h1M84.0 97.1h1M83.8 99.0h1M92.2 98.0h1M84.7 99.4h1M84.8 93.7h1M87.3 97.6h1M83.1 100.1h1" stroke="#85503f" stroke-width="1" opacity="0.85"/>
<path d="M90.2 102.2h1M79.1 97.6h1M90.1 104.0h1M92.2 105.4h1M87.6 99.4h1M84.5 103.9h1M84.3 107.5h1M83.4 97.3h1M89.0 97.4h1M98.1 100.5h1M89.7 103.5h1M85.9 97.4h1M80.7 108.0h1M95.1 113.2h1M82.7 106.7h1M89.9 107.9h1M87.4 107.4h1M94.5 106.9h1M97.2 103.8h1M97.7 101.7h1M98.3 93.5h1M90.1 101.3h1M90.0 108.6h1M93.6 104.9h1M98.5 98.6h1M85.9 110.5h1M91.6 96.2h1M91.7 99.8h1M97.4 109.1h1M87.3 109.7h1M85.8 108.2h1M92.9 104.0h1M82.9 103.4h1M78.6 102.2h1M80.7 109.4h1M85.2 94.8h1M92.9 106.0h1M87.5 113.0h1M93.9 104.8h1M86.8 92.7h1M92.4 108.3h1M87.0 98.8h1M89.8 97.8h1M90.0 107.6h1M97.5 105.6h1M91.0 107.5h1M97.0 103.2h1M83.9 101.3h1M83.7 100.9h1M89.4 105.9h1M90.8 104.8h1M88.2 106.2h1M94.4 107.5h1M97.5 103.3h1M88.7 111.3h1M91.0 106.2h1M88.3 108.4h1M88.0 100.5h1M89.7 102.7h1M94.2 103.0h1" stroke="#85503f" stroke-width="1" opacity="0.85"/>
<ellipse cx="103.2" cy="105" rx="2.8" ry="5.5" fill="#e8300c" opacity="0.85" filter="url(#b1)"/>
<path d="M103.5 104.5h1M103.9 102.7h1M105.6 99.2h1M102.4 102.4h1M104.6 105.7h1M104.3 104.0h1M101.6 100.6h1M102.5 103.1h1M103.8 107.1h1M105.3 105.0h1M101.6 100.8h1M103.3 107.1h1M107.5 106.3h1M107.1 113.7h1M100.9 110.8h1M105.7 111.4h1M103.2 109.7h1M102.1 105.2h1M103.2 113.3h1M102.7 109.7h1M103.3 102.4h1M103.7 108.4h1M101.6 108.3h1M101.6 101.6h1M103.7 104.5h1M101.0 98.3h1M103.3 106.6h1M102.2 106.3h1M99.8 107.2h1M104.1 106.7h1M101.9 105.8h1M103.5 110.2h1M103.8 106.6h1M101.6 109.3h1M105.8 103.3h1M104.6 106.9h1M103.1 99.8h1M107.1 97.3h1M103.9 103.8h1M105.7 103.6h1M103.3 108.2h1M104.2 103.2h1M104.7 107.2h1M105.4 103.3h1M103.1 103.8h1M101.4 106.6h1M104.1 111.7h1M102.5 107.2h1M105.7 105.0h1M103.3 106.1h1M101.7 101.2h1M105.7 106.3h1M103.0 100.0h1M103.5 110.6h1M100.7 101.6h1M105.6 111.8h1M106.6 103.1h1M104.5 102.2h1M104.3 103.9h1M103.6 111.4h1M103.9 104.4h1M103.3 106.7h1M102.1 106.4h1M104.5 112.3h1M98.7 100.3h1M100.5 109.3h1M108.5 106.3h1M103.5 110.5h1M97.9 104.7h1M96.4 106.2h1M102.1 103.4h1M103.9 102.9h1M105.6 105.5h1M104.0 116.6h1M102.2 109.5h1M101.4 111.0h1M105.3 106.1h1M105.4 112.5h1M106.2 105.5h1M103.1 110.3h1M100.0 102.9h1M104.3 108.0h1M107.3 113.2h1M103.9 107.4h1M100.3 104.7h1M103.8 104.5h1M103.3 108.2h1M101.1 103.0h1M99.3 110.5h1M100.9 98.1h1M104.9 104.6h1M105.3 103.9h1M107.8 108.6h1M103.5 106.0h1M102.8 109.0h1M107.6 103.7h1M100.8 108.1h1M105.5 99.0h1M101.7 101.2h1M104.4 107.7h1M101.6 100.6h1M104.7 96.6h1M104.6 104.8h1M107.4 109.8h1M101.9 104.3h1M102.6 102.3h1M103.4 109.7h1M99.9 104.5h1M106.4 108.7h1M101.4 102.0h1M101.3 98.5h1M105.7 105.8h1M101.7 99.3h1M102.4 103.3h1M106.9 103.5h1M103.5 110.1h1M104.6 104.7h1M98.5 111.6h1M104.5 103.6h1M103.0 101.4h1M101.3 99.1h1M104.3 107.7h1M103.6 108.9h1M104.4 106.0h1M101.3 108.1h1M105.8 108.2h1M105.9 103.5h1M101.1 110.9h1M101.9 106.6h1M102.8 105.6h1M102.6 103.2h1M99.3 113.7h1M103.6 97.2h1M101.2 100.6h1M101.6 94.5h1M104.4 112.6h1M102.7 108.7h1M104.5 100.1h1M105.8 98.2h1M102.0 104.0h1M105.9 106.0h1M102.9 102.0h1M103.4 105.7h1M104.8 111.5h1M104.8 105.6h1M102.9 112.4h1M103.6 105.4h1M107.1 112.3h1M104.4 105.0h1M101.8 110.1h1M102.2 109.6h1M101.5 106.0h1M104.1 106.1h1M103.7 107.1h1M100.8 100.7h1M102.9 113.3h1M102.9 101.5h1M101.8 105.6h1M105.7 103.1h1M104.4 106.3h1M102.4 101.4h1M102.9 102.4h1M104.4 97.9h1M105.6 108.8h1M104.4 111.9h1M104.5 98.2h1M103.3 107.4h1M101.7 100.6h1M104.1 107.7h1M102.3 104.5h1M102.1 103.1h1M103.1 110.1h1M99.7 104.0h1M106.7 106.9h1M103.5 109.1h1M101.0 100.3h1M99.6 99.2h1M103.7 109.1h1M102.3 102.6h1M104.1 108.1h1M103.8 97.3h1M102.0 94.6h1M103.7 101.9h1M101.8 111.9h1M106.0 107.6h1M103.8 106.2h1M101.9 105.3h1M107.3 101.7h1M101.8 106.2h1M105.1 109.1h1M101.1 104.9h1M102.6 100.2h1M103.4 103.4h1M105.2 107.4h1M101.5 105.8h1M102.4 102.8h1M102.2 110.1h1M102.3 98.2h1M101.5 109.0h1M107.8 101.0h1M102.4 104.1h1M100.2 107.2h1M103.1 106.7h1M108.0 104.4h1M104.9 109.1h1M101.8 103.0h1M106.5 108.6h1M103.5 100.8h1M105.1 107.8h1M107.9 111.8h1M104.9 106.6h1M103.3 103.1h1M103.9 106.5h1M104.6 110.1h1M103.9 103.2h1M104.9 112.1h1M101.4 107.3h1M104.4 107.8h1M104.3 105.1h1M103.0 112.7h1M106.9 99.5h1M97.8 107.4h1M101.8 103.3h1M99.8 107.0h1M103.1 103.2h1M105.1 115.9h1M106.4 110.5h1M102.3 108.3h1M103.1 110.4h1M104.4 105.4h1M104.4 102.4h1M104.9 111.9h1M102.4 107.9h1M99.6 109.5h1M105.1 101.1h1M106.9 106.0h1M99.5 99.6h1M105.1 104.3h1M105.6 98.9h1M103.0 109.7h1M101.8 108.4h1M102.4 107.0h1M103.9 115.0h1M100.6 108.8h1M106.0 100.7h1M103.4 115.4h1M105.4 92.8h1M102.7 98.2h1M103.8 102.4h1M102.0 101.9h1M103.8 103.5h1M101.3 104.5h1M104.1 101.8h1M105.6 98.4h1M104.1 103.8h1M106.6 102.8h1M101.8 99.8h1M107.4 108.1h1M100.9 104.1h1M101.2 112.0h1M104.1 96.8h1M103.6 109.4h1M103.2 107.5h1M103.0 106.4h1M103.7 102.5h1M103.9 106.2h1M103.1 102.6h1M101.0 106.6h1M105.0 95.2h1M102.1 111.3h1M105.2 102.5h1M106.1 101.3h1M101.5 113.8h1M102.3 104.6h1M99.7 101.2h1M100.7 104.9h1M99.3 110.0h1M102.4 102.9h1M101.8 108.7h1M106.5 103.8h1M106.7 112.4h1M106.1 106.8h1M100.0 108.4h1M102.3 106.3h1M99.2 104.3h1M103.7 101.5h1M103.8 112.7h1M103.7 102.6h1M108.3 96.3h1M101.2 107.2h1M101.9 95.7h1M103.8 109.1h1M101.5 111.8h1M104.3 110.6h1M99.9 105.5h1M106.6 114.1h1M106.0 105.5h1M103.6 102.8h1M105.6 102.5h1M103.5 96.7h1M100.0 113.1h1M103.3 106.4h1M98.5 105.4h1M107.6 99.1h1M98.1 104.8h1M102.1 104.6h1M100.5 99.7h1M100.5 108.3h1M103.1 109.0h1M100.9 108.0h1M102.3 105.9h1M105.2 105.6h1M102.4 98.3h1M103.3 108.9h1M101.8 105.2h1M99.4 99.8h1M104.1 111.1h1M102.5 98.3h1M102.4 98.8h1M102.6 113.8h1M103.8 104.8h1M105.4 103.9h1M103.9 106.4h1M104.2 99.2h1M104.7 109.3h1M98.3 93.8h1M101.3 111.9h1M103.2 108.4h1M104.4 109.3h1M101.8 103.0h1M104.0 108.1h1M104.4 107.0h1M102.2 110.3h1M104.2 110.1h1M97.7 109.9h1M97.9 106.4h1M101.8 106.0h1M102.2 104.2h1M103.6 107.0h1M101.5 94.5h1M101.5 107.8h1M101.4 107.4h1M102.4 101.4h1M105.7 112.7h1M103.0 105.3h1M105.3 99.7h1M101.3 110.4h1M105.2 103.4h1M101.5 107.0h1M100.1 103.3h1M102.7 94.8h1M104.5 108.8h1M105.5 99.2h1M100.4 102.0h1M100.4 114.4h1M101.1 104.1h1M103.6 107.5h1M106.4 100.8h1M105.1 106.2h1M100.6 106.2h1" stroke="#e8300c" stroke-width="1" opacity="0.85"/>
<path d="M94.8 116.5h1M96.8 113.5h1M102.9 105.4h1M96.3 109.1h1M95.9 113.0h1M99.5 104.7h1M97.0 112.1h1M94.7 116.9h1M96.7 107.5h1M96.2 116.6h1M101.5 115.0h1M100.9 108.9h1M104.1 111.8h1M100.3 111.4h1M101.2 109.9h1M98.5 100.6h1M105.1 102.0h1M92.6 105.0h1M104.8 114.6h1M97.2 109.8h1M98.9 98.6h1M98.0 110.0h1M102.5 102.5h1M92.3 100.6h1M100.0 108.9h1M99.4 109.2h1M97.9 101.7h1M100.4 110.4h1M100.7 114.7h1M95.3 96.8h1M93.7 119.2h1M96.3 110.5h1M99.0 112.1h1M108.6 105.9h1M98.5 105.5h1M99.7 111.1h1M96.1 115.1h1M102.4 110.7h1M98.7 107.3h1M94.1 111.8h1M96.1 106.0h1M102.0 103.9h1M97.4 112.8h1M104.6 105.0h1M102.3 105.2h1M100.2 110.9h1M95.6 113.6h1M104.4 108.8h1M99.8 102.6h1M104.4 108.8h1" stroke="#e8300c" stroke-width="1" opacity="0.85"/>
<line x1="90.7" y1="88" x2="90.7" y2="142.5" stroke="#000" stroke-width="1.7"/>
<line x1="63" y1="119.5" x2="117" y2="119.5" stroke="#000" stroke-width="1.7"/>
<rect x="59.5" y="75.5" width="71.0" height="72.0" fill="none" stroke="#4a4a4a" stroke-width="1"/>
<g stroke="#777" stroke-width="0.7"><line x1="58.0" y1="145.5" x2="59.5" y2="145.5"/><line x1="63.5" y1="147.5" x2="63.5" y2="148.7"/><line x1="58.0" y1="131.9" x2="59.5" y2="131.9"/><line x1="76.1" y1="147.5" x2="76.1" y2="148.7"/><line x1="58.0" y1="118.3" x2="59.5" y2="118.3"/><line x1="88.7" y1="147.5" x2="88.7" y2="148.7"/><line x1="58.0" y1="104.7" x2="59.5" y2="104.7"/><line x1="101.3" y1="147.5" x2="101.3" y2="148.7"/><line x1="58.0" y1="91.1" x2="59.5" y2="91.1"/><line x1="113.9" y1="147.5" x2="113.9" y2="148.7"/><line x1="58.0" y1="77.5" x2="59.5" y2="77.5"/><line x1="126.5" y1="147.5" x2="126.5" y2="148.7"/></g>
<ellipse cx="160" cy="38" rx="5" ry="7" fill="#8a8a8a" opacity="0.5" filter="url(#b3)"/>
<ellipse cx="186" cy="40" rx="3.5" ry="8" fill="#7a5a50" opacity="0.6" filter="url(#b2)"/>
<path d="M182.4 45.5h1M181.9 36.0h1M180.0 49.4h1M192.2 36.4h1M184.2 36.7h1M184.4 44.1h1M190.1 34.0h1M187.2 28.8h1M190.3 39.9h1M184.0 50.5h1M185.7 49.4h1M189.0 51.3h1M183.8 40.9h1M187.0 39.2h1M190.3 35.9h1M188.8 49.4h1M180.5 34.2h1M183.5 37.0h1M187.1 39.4h1M186.2 37.5h1M185.8 43.6h1M188.1 35.4h1M185.7 35.5h1M185.5 31.2h1M188.7 44.9h1M185.7 36.1h1M184.7 36.2h1M181.7 51.1h1M195.2 32.5h1M182.7 44.3h1M187.7 30.3h1M180.6 44.0h1M180.4 49.8h1M184.6 41.1h1M186.0 36.9h1M185.6 38.6h1M189.5 39.9h1M185.9 37.1h1M184.2 35.7h1M186.0 52.4h1M189.1 42.0h1M190.7 47.1h1M186.6 39.4h1M182.9 42.1h1M185.1 30.2h1M182.4 53.1h1M186.6 43.7h1M186.6 37.5h1M187.3 47.5h1M185.1 43.8h1M188.9 37.4h1M186.5 35.7h1M187.7 38.1h1M189.2 35.5h1M190.7 38.5h1M183.6 34.6h1M187.9 34.9h1M191.1 48.8h1M187.5 31.3h1M185.9 35.8h1M180.9 43.3h1M192.2 37.0h1M188.3 48.8h1M183.3 38.3h1M186.8 43.6h1M182.8 41.9h1M185.7 46.7h1M181.5 36.8h1M184.6 38.4h1M188.0 36.4h1M193.7 35.9h1M188.4 47.1h1M188.7 39.2h1M183.7 38.8h1M187.9 41.3h1M187.6 44.2h1M183.5 34.4h1M190.0 37.3h1M181.6 52.6h1M183.7 34.4h1M188.7 33.1h1M183.6 47.3h1M183.7 56.8h1M186.3 57.9h1M186.4 40.9h1M184.2 39.1h1M184.6 40.3h1M188.2 32.2h1M183.4 26.9h1M190.2 40.0h1M186.0 40.1h1M188.8 42.6h1M188.4 39.4h1M185.7 40.1h1M180.8 47.6h1M181.6 34.0h1M187.9 40.9h1M188.3 51.6h1M191.2 49.5h1M185.4 53.8h1M183.5 39.9h1M188.8 39.1h1M185.7 38.2h1M189.8 24.5h1M189.6 47.4h1M185.8 44.1h1M183.3 47.7h1M194.6 34.5h1M189.9 40.1h1M185.1 37.3h1M185.5 32.4h1M182.2 51.3h1M186.0 44.1h1M186.9 43.6h1M181.7 34.3h1M187.8 47.0h1M182.8 36.7h1M183.0 44.7h1M187.0 40.7h1M184.2 42.7h1M186.1 35.7h1M186.9 36.2h1M188.7 44.6h1M184.1 44.3h1M186.2 35.9h1M183.4 29.7h1M182.8 42.8h1M189.4 36.4h1M186.4 42.7h1M188.2 43.4h1M189.4 45.5h1M183.9 43.1h1M179.4 39.3h1M186.1 44.3h1M185.2 45.9h1M189.7 35.0h1M184.5 42.2h1M187.4 41.4h1M188.3 32.8h1M188.2 48.1h1M189.1 43.3h1M185.3 43.1h1M185.8 30.2h1M184.3 40.2h1M184.6 34.4h1M185.4 38.1h1M186.2 40.2h1M186.5 47.0h1M186.4 43.1h1M182.6 21.3h1M184.9 44.9h1M185.1 36.4h1M182.5 46.3h1M184.5 42.1h1M189.2 44.0h1M192.3 39.6h1M188.7 45.0h1M184.2 40.8h1M184.4 33.8h1M186.8 35.5h1M190.7 35.7h1M184.5 41.1h1M184.5 40.8h1M184.3 31.3h1M179.2 32.1h1M190.3 43.4h1M186.4 37.5h1M185.6 42.4h1M182.1 35.3h1M183.5 48.7h1M183.0 48.1h1M184.7 58.2h1M185.8 40.7h1M189.8 46.2h1M188.6 33.6h1M189.2 51.4h1M185.7 37.4h1M182.9 47.1h1M186.8 40.5h1M182.5 51.0h1M188.5 40.4h1M190.1 34.3h1M188.5 34.0h1M190.0 38.7h1M189.4 37.8h1M187.1 47.9h1M183.5 41.1h1M183.7 46.0h1M184.3 38.1h1M185.4 48.1h1M183.1 40.3h1M185.1 36.9h1M183.8 39.5h1M186.5 30.4h1M186.7 32.8h1M186.0 55.3h1M183.3 40.1h1M185.3 46.9h1M184.7 28.9h1M181.5 41.7h1M186.7 47.4h1M184.5 44.8h1M183.0 48.9h1M185.8 36.1h1M186.5 51.8h1M183.6 32.4h1M183.2 33.0h1M185.9 42.8h1M185.5 41.8h1M189.3 38.6h1M182.5 25.6h1M186.7 36.1h1M185.3 43.2h1M187.3 30.3h1M183.3 41.0h1M185.6 48.0h1M184.6 27.1h1M189.3 29.9h1M183.3 43.0h1M183.0 56.7h1M186.7 44.0h1M184.8 54.9h1M187.5 35.8h1M189.5 29.5h1M184.4 42.4h1M186.4 34.3h1M190.4 50.1h1M183.4 42.9h1M184.2 37.7h1M188.8 41.3h1M185.7 41.2h1M182.7 48.4h1M183.9 49.0h1M184.7 37.5h1M190.2 41.7h1M184.2 37.0h1M187.7 52.7h1M187.7 37.9h1M182.9 36.1h1M185.7 42.1h1M184.2 48.8h1M183.3 35.9h1M187.4 43.6h1M184.9 46.8h1M182.1 51.1h1M192.1 53.2h1M186.3 53.3h1M186.2 49.1h1M185.4 41.8h1M187.5 29.1h1M185.4 51.7h1M177.8 43.0h1M188.6 42.6h1M186.5 49.5h1M186.9 28.2h1M183.4 38.6h1M186.4 37.6h1M185.7 51.3h1M177.8 48.0h1M188.6 44.4h1M186.0 40.9h1M187.0 42.1h1M184.0 45.6h1M183.7 40.2h1M185.0 33.0h1M187.7 40.0h1M182.7 40.0h1M182.1 49.8h1M187.4 53.4h1M184.4 45.1h1M183.3 35.0h1M185.8 43.2h1M188.6 38.8h1M189.1 46.8h1M183.6 39.3h1M183.4 51.6h1M184.5 46.2h1M188.6 38.9h1M184.6 42.7h1M183.8 32.3h1M183.3 42.7h1M186.5 51.9h1M180.9 43.8h1M182.8 48.0h1M187.9 41.3h1M190.1 38.1h1M184.5 33.7h1M184.2 41.2h1M187.9 48.8h1M185.3 35.8h1M185.1 37.7h1M184.7 37.9h1M183.6 40.2h1M184.6 39.4h1M182.1 41.4h1M187.6 44.7h1M184.5 33.1h1M182.4 32.9h1M184.2 38.5h1M181.1 44.8h1M181.7 36.1h1M184.0 45.8h1M191.1 38.2h1M185.2 38.0h1M185.4 39.4h1M192.9 33.5h1M185.7 35.4h1M187.0 37.2h1M187.6 33.5h1M191.9 41.9h1M181.1 45.0h1M184.7 33.1h1M187.2 37.2h1M188.0 37.0h1M188.5 41.5h1M187.0 41.5h1M185.0 38.2h1M187.3 45.1h1M184.9 54.9h1M190.7 33.1h1M189.0 40.1h1M186.6 35.4h1M190.6 35.2h1M185.8 35.9h1M191.3 48.5h1M182.4 37.6h1M187.0 37.7h1M185.0 33.6h1M186.7 33.5h1M188.3 55.9h1M185.1 51.0h1M187.0 36.2h1M185.0 34.4h1M186.3 45.0h1M188.6 38.7h1M182.7 40.0h1M190.6 42.3h1M185.8 27.2h1M184.8 44.0h1M183.4 49.1h1M184.4 34.9h1M184.4 39.9h1M188.8 36.9h1M181.1 40.0h1M187.4 50.4h1M182.9 50.0h1M187.9 43.4h1M183.9 34.9h1M183.4 46.5h1M186.6 47.3h1M191.0 40.6h1M185.9 52.7h1M182.4 37.7h1M185.0 38.1h1M186.4 35.2h1M189.2 31.8h1M183.8 29.8h1M182.1 44.3h1M187.7 39.3h1M188.3 44.5h1M184.4 40.3h1M187.0 53.3h1M184.8 42.9h1M187.5 48.3h1M187.2 47.4h1M183.1 38.9h1M180.7 40.2h1M192.4 42.1h1M186.2 42.2h1M186.4 32.1h1M184.1 39.4h1M186.5 35.0h1M185.7 35.9h1M182.4 36.3h1M183.8 45.9h1M189.7 44.2h1M185.4 37.0h1M181.7 37.2h1M190.3 47.9h1M186.6 39.0h1M186.0 43.2h1M186.0 43.3h1M183.9 40.8h1M185.0 47.4h1M182.6 48.8h1M185.8 37.3h1M186.1 41.3h1M185.4 43.2h1M184.4 29.8h1M187.9 40.4h1M190.6 43.0h1M180.5 48.4h1M184.1 44.0h1M192.1 47.5h1M183.0 40.0h1M181.6 44.8h1M187.5 34.0h1M187.2 46.5h1M188.2 36.3h1M184.1 33.4h1M182.4 42.5h1M186.1 48.8h1M186.8 38.5h1M182.1 50.3h1M186.5 40.4h1M183.2 33.9h1M187.7 34.4h1M187.6 44.5h1M185.0 30.3h1M187.1 49.4h1M183.7 32.6h1M189.0 41.5h1M184.3 48.3h1M185.2 43.4h1M184.9 35.8h1M186.6 35.1h1M181.1 37.1h1M189.4 47.5h1M192.0 46.8h1M190.4 42.1h1" stroke="#85503f" stroke-width="1" opacity="0.85"/>
<path d="M184.7 60.0h1M183.2 61.9h1M184.7 58.5h1M183.5 55.6h1M188.9 55.0h1M184.0 58.6h1M188.6 55.2h1M182.6 45.2h1M182.1 64.3h1M185.7 60.1h1M189.2 58.6h1M187.4 52.9h1M181.3 61.1h1M185.7 60.8h1M182.9 55.5h1M191.9 50.5h1M186.3 66.1h1M185.3 57.5h1M179.7 62.2h1M184.7 65.9h1M185.7 53.9h1M187.3 54.8h1M184.5 67.8h1M188.9 57.4h1M188.4 62.6h1M187.7 56.9h1M186.2 59.5h1M187.7 59.2h1M184.4 56.0h1M187.3 49.5h1M186.0 62.1h1M186.5 54.5h1M185.9 53.1h1M188.9 53.9h1M181.1 47.9h1M186.9 58.1h1M184.6 47.1h1M185.6 50.5h1M184.1 56.6h1M183.7 58.8h1M183.8 53.3h1M185.3 67.1h1M190.6 63.4h1M183.8 56.6h1M188.7 62.4h1M181.2 56.2h1M183.8 62.0h1M187.9 52.8h1M192.3 54.6h1M193.2 55.4h1M185.8 70.2h1M184.5 53.2h1M190.3 56.3h1M187.4 47.6h1M191.3 63.7h1M187.0 61.7h1M184.5 53.2h1M181.4 59.3h1M189.6 62.8h1M188.7 61.7h1M183.3 47.3h1M187.9 57.8h1M188.9 54.6h1M183.4 59.8h1M184.4 44.9h1M184.2 50.3h1M182.7 52.7h1M191.1 53.7h1M189.4 56.1h1M187.2 51.8h1M185.8 44.6h1M191.3 51.2h1M187.7 52.4h1M186.8 48.2h1M184.9 63.1h1M187.7 42.7h1M188.5 47.3h1M186.8 60.3h1M184.1 54.4h1M185.3 59.5h1M188.7 66.3h1M187.0 70.9h1M183.2 69.3h1M185.2 62.1h1M185.6 57.2h1M183.3 59.4h1M191.9 57.7h1M185.9 56.7h1M188.1 55.2h1M186.0 58.2h1M189.8 63.4h1M182.9 52.1h1M186.1 62.7h1M188.8 55.1h1M192.2 55.5h1M190.1 66.8h1M190.7 58.1h1M187.7 45.7h1M180.8 52.3h1M188.1 64.2h1M185.7 64.0h1M187.7 67.5h1M181.3 50.7h1M183.2 49.2h1M190.8 50.0h1M183.6 53.8h1M188.6 53.3h1M188.2 60.5h1M184.1 39.8h1M183.3 47.7h1M190.8 51.5h1M182.9 59.3h1M186.2 50.0h1M189.2 63.1h1M186.8 51.2h1M183.4 42.0h1M187.1 59.4h1M183.3 56.8h1M195.6 48.6h1M181.0 61.0h1M184.7 53.1h1M187.8 55.7h1M188.9 60.3h1M189.4 57.5h1M179.7 66.3h1M181.0 64.0h1M186.7 46.7h1M186.2 62.9h1M183.0 56.9h1M183.8 49.4h1M184.2 65.7h1M188.0 56.4h1M185.8 57.5h1M186.8 57.9h1M180.9 63.1h1M183.5 38.0h1M188.1 48.0h1M185.6 55.9h1M184.3 60.4h1M185.2 54.6h1M183.2 54.6h1M182.9 56.9h1M189.9 63.8h1M187.3 46.9h1M189.0 63.2h1M192.1 40.5h1M186.0 54.2h1M189.2 48.8h1M188.9 42.4h1M186.1 66.3h1M184.2 60.8h1M186.3 46.1h1M184.2 64.7h1M189.5 52.3h1M189.3 51.5h1M186.7 56.4h1M182.3 58.9h1M184.9 37.0h1M183.6 50.5h1M183.5 49.6h1M184.0 39.0h1M188.6 57.1h1M186.8 54.7h1M186.2 54.7h1M182.8 45.7h1M186.2 63.8h1M186.7 68.1h1M182.0 54.7h1M184.2 65.4h1M191.0 52.8h1M188.2 54.8h1M183.1 55.8h1M182.9 67.6h1M187.7 65.0h1M187.1 39.1h1M188.4 57.2h1M179.0 57.3h1M189.0 68.8h1M183.0 62.2h1M187.0 55.3h1M185.2 60.3h1M187.7 61.3h1M184.8 47.1h1M189.9 65.8h1M184.3 56.3h1M188.4 43.9h1M186.8 51.5h1M192.0 56.6h1M186.6 53.5h1M186.5 43.7h1M182.2 45.9h1M188.7 55.9h1M189.4 41.9h1M184.2 67.0h1M183.7 43.1h1M183.8 54.0h1M186.0 65.9h1M189.9 67.7h1M187.7 52.9h1M184.5 45.9h1M189.8 65.5h1M186.3 50.1h1M188.0 60.0h1M186.5 48.2h1M186.7 52.4h1M188.2 60.8h1M187.3 53.4h1M190.5 62.1h1M189.7 62.5h1M188.0 59.3h1M182.8 43.4h1M183.2 60.9h1M188.7 57.8h1M186.3 69.7h1M184.8 43.7h1M181.4 54.2h1M188.1 61.8h1M185.3 62.4h1M185.9 51.3h1M184.9 61.9h1M188.8 48.4h1M183.1 57.4h1M192.3 48.1h1M182.3 59.5h1M187.5 52.1h1M185.9 60.0h1M180.9 56.3h1M187.8 63.1h1M189.4 56.0h1M181.8 66.2h1M188.3 51.9h1M189.0 64.0h1M185.6 39.5h1M184.6 51.1h1M183.5 55.9h1M182.8 59.3h1M191.6 48.0h1M189.1 52.7h1M187.6 55.6h1M189.8 51.4h1M188.2 50.9h1M186.7 56.4h1M189.2 45.2h1M182.0 66.5h1M187.1 68.7h1M183.0 58.0h1M187.8 69.2h1M185.8 53.3h1M188.1 55.8h1M183.8 62.0h1M180.4 49.2h1M190.0 52.9h1M185.1 59.2h1M189.3 60.3h1M183.2 52.4h1M189.1 55.6h1M184.1 62.8h1M182.8 51.4h1M184.0 59.1h1M184.6 64.5h1M178.1 63.4h1M184.1 54.5h1M187.7 58.0h1M183.0 67.3h1M187.7 53.0h1M186.6 48.5h1M182.4 54.3h1M187.1 57.2h1M183.7 46.5h1M181.1 68.0h1M187.1 50.7h1M189.5 60.4h1M184.8 52.1h1M189.3 58.9h1M190.8 59.1h1M184.3 52.2h1M183.9 58.3h1M186.7 60.9h1M187.3 48.9h1M185.4 49.7h1M187.4 47.0h1M184.3 50.3h1M184.2 54.7h1M190.4 54.7h1M181.8 54.3h1M188.2 60.5h1M186.7 70.8h1M189.2 57.2h1M189.6 46.9h1M185.5 50.3h1M186.5 68.1h1M184.6 68.0h1M183.0 66.8h1M181.1 50.4h1M188.9 55.8h1M186.4 56.4h1" stroke="#6a5a56" stroke-width="1" opacity="0.85"/>
<path d="M178.7 55.3h1M174.2 54.6h1M178.4 50.5h1M179.8 68.3h1M171.6 52.8h1M176.9 56.6h1M178.4 51.6h1M177.9 56.5h1M177.7 66.8h1M178.5 46.6h1M171.9 60.5h1M176.7 52.3h1M172.7 54.4h1M177.6 51.9h1M176.6 62.5h1M181.1 60.2h1M177.3 47.4h1M181.0 66.5h1M183.0 64.3h1M179.1 59.0h1M177.9 64.9h1M177.0 70.9h1M181.0 54.3h1M178.0 45.7h1M175.2 54.5h1M187.5 51.0h1M181.6 57.0h1M176.9 60.7h1M170.3 62.8h1M185.5 58.5h1M177.8 57.6h1M180.6 53.2h1M178.5 59.9h1M176.6 59.1h1M179.3 61.3h1M174.2 52.9h1M176.3 64.5h1M179.0 45.4h1M173.0 69.5h1M179.3 47.8h1M174.5 57.5h1M183.5 67.4h1M176.6 54.5h1M185.5 49.9h1M184.1 58.8h1M178.4 65.1h1M179.9 50.9h1M172.1 56.6h1M180.0 65.7h1M167.9 65.5h1" stroke="#6e6e6e" stroke-width="1" opacity="0.85"/>
<ellipse cx="171.5" cy="34" rx="4" ry="5.5" fill="#e8300c" opacity="0.85" filter="url(#b1)"/>
<path d="M173.3 40.6h1M173.8 35.4h1M172.8 36.1h1M169.7 34.0h1M171.9 32.7h1M167.2 28.7h1M173.0 36.6h1M171.8 29.8h1M174.0 32.9h1M165.5 40.8h1M167.2 43.6h1M173.1 32.7h1M164.7 31.7h1M175.8 40.0h1M172.3 27.6h1M170.4 33.4h1M172.8 34.0h1M172.5 27.9h1M169.6 40.3h1M167.3 38.2h1M178.2 37.1h1M167.5 39.5h1M166.1 35.9h1M170.3 39.5h1M174.9 35.3h1M176.7 38.5h1M170.1 30.5h1M178.7 32.9h1M172.7 34.0h1M170.1 28.0h1M171.1 34.0h1M174.4 32.4h1M166.9 30.2h1M171.4 35.5h1M173.6 33.0h1M173.1 35.1h1M176.4 34.3h1M171.9 36.8h1M175.1 30.8h1M170.1 33.4h1M165.3 39.8h1M174.6 34.6h1M181.3 39.6h1M177.4 40.8h1M174.1 28.8h1M176.0 36.2h1M168.0 34.7h1M173.7 38.5h1M172.0 32.4h1M173.7 31.4h1M171.3 37.6h1M167.3 36.0h1M165.8 30.7h1M167.9 34.1h1M173.6 34.3h1M174.2 34.9h1M170.9 36.5h1M170.8 35.0h1M174.5 32.2h1M174.9 30.0h1M170.9 27.5h1M170.0 40.9h1M172.5 39.6h1M167.2 30.4h1M172.9 37.9h1M173.9 27.7h1M173.0 34.2h1M171.9 36.4h1M170.7 27.6h1M168.4 28.6h1M167.7 34.0h1M175.3 31.6h1M169.3 29.8h1M166.5 34.8h1M170.1 33.5h1M168.7 36.5h1M168.0 36.7h1M169.6 37.7h1M168.9 36.3h1M172.8 34.2h1M176.3 35.2h1M168.9 37.3h1M169.1 32.3h1M171.5 35.2h1M176.5 27.4h1M170.7 39.1h1M171.0 35.8h1M176.0 29.5h1M171.6 37.7h1M169.8 27.4h1M168.6 35.3h1M172.1 42.0h1M175.4 28.2h1M174.5 38.2h1M176.2 33.9h1M169.9 35.1h1M176.0 37.0h1M176.5 37.7h1M169.8 30.4h1M176.9 28.4h1M170.5 33.2h1M168.8 32.2h1M171.5 44.2h1M171.3 32.4h1M171.9 38.3h1M169.1 32.9h1M166.4 37.4h1M173.5 40.6h1M168.0 43.3h1M174.1 33.4h1M170.4 33.2h1M168.0 37.6h1M169.7 31.6h1M173.0 35.0h1M169.8 33.5h1M170.1 40.0h1M174.4 31.5h1M171.4 40.1h1M170.7 41.7h1M172.8 37.2h1M165.4 38.0h1M172.5 36.9h1M172.9 36.6h1M170.0 38.2h1M171.7 30.2h1M168.5 35.2h1M172.5 25.5h1M165.5 38.8h1M171.5 46.1h1M167.0 33.5h1M169.7 36.8h1M175.6 41.1h1M168.5 39.5h1M167.9 35.8h1M172.0 37.0h1M169.2 39.9h1M171.3 34.4h1M170.7 30.2h1M173.6 35.9h1M172.8 42.1h1M169.0 33.3h1M171.5 38.0h1M171.0 38.3h1M172.8 27.3h1M169.5 26.2h1M170.7 32.8h1M173.2 35.2h1M171.3 39.6h1M173.2 29.5h1M169.5 35.8h1M176.5 33.7h1M171.0 35.6h1M173.8 34.1h1M172.4 32.8h1M169.9 31.3h1M173.4 32.2h1M173.1 36.2h1M174.4 23.6h1M168.7 29.5h1M171.0 37.8h1M178.9 40.8h1M175.5 36.1h1M170.4 36.7h1M165.1 38.3h1M171.5 37.0h1M168.5 30.0h1M169.6 34.3h1M172.5 33.1h1M172.5 37.3h1M168.1 34.1h1M166.9 32.3h1M174.2 31.6h1M177.0 36.6h1M174.1 34.9h1M174.0 39.0h1M171.8 32.3h1M169.9 42.4h1M171.0 32.6h1M169.4 27.6h1M170.0 35.8h1M170.1 31.4h1M172.7 36.4h1M170.2 35.8h1M168.6 38.0h1M168.6 33.1h1M171.9 32.8h1M168.1 43.1h1M175.9 27.4h1M171.9 29.3h1M172.4 29.2h1M173.2 36.7h1M176.5 39.4h1M170.2 38.4h1M170.2 34.0h1M170.0 27.3h1M173.3 26.2h1M170.8 36.6h1M171.8 28.1h1M169.6 37.3h1M174.7 41.0h1M166.2 36.4h1M170.1 37.6h1M166.6 33.9h1M173.6 31.9h1M170.4 30.5h1M174.8 29.1h1M168.8 33.1h1M170.6 43.1h1M172.3 31.1h1M173.2 35.9h1M172.3 34.2h1M172.9 29.7h1M168.0 32.8h1M168.3 37.4h1M177.2 39.6h1M172.8 35.9h1M169.5 29.2h1M173.1 28.5h1M172.4 33.9h1M173.7 34.7h1M171.8 32.1h1M166.5 33.1h1M173.5 38.8h1M175.5 30.4h1M168.8 37.4h1M170.2 45.0h1M172.4 28.3h1M169.9 40.9h1M166.2 35.1h1M167.4 41.0h1M170.2 30.3h1M166.5 31.6h1M164.0 32.6h1M177.9 34.9h1M170.7 29.8h1M172.5 32.6h1M169.0 40.2h1M172.8 30.9h1M175.8 34.3h1M173.0 35.1h1M175.0 37.0h1M170.5 37.4h1M170.4 35.0h1M176.3 30.2h1M168.5 32.9h1M170.0 39.8h1M166.8 43.9h1M176.1 32.7h1M172.0 33.0h1M173.5 37.2h1M173.7 37.6h1M177.2 33.8h1M173.6 33.7h1M171.6 35.4h1M171.3 35.9h1M169.0 33.9h1M169.7 29.7h1M169.4 32.5h1M171.1 28.1h1M170.7 29.9h1M169.1 35.3h1M174.8 35.7h1M170.1 32.7h1M175.4 27.8h1M174.8 28.4h1M169.6 34.7h1M170.9 41.3h1M173.0 34.3h1M174.3 34.7h1M169.1 39.1h1M175.9 39.7h1M168.1 42.3h1M170.3 37.6h1M175.0 44.2h1M166.8 30.3h1M175.0 36.5h1M170.6 22.5h1M172.8 33.7h1M163.8 45.5h1M164.2 32.2h1M171.5 35.5h1M173.7 33.4h1M168.9 33.0h1M165.3 29.9h1M177.3 31.7h1M171.3 42.3h1M174.6 35.0h1M173.7 33.4h1M168.8 38.6h1M171.9 41.1h1M170.7 33.0h1M172.5 33.7h1M170.6 30.8h1M172.2 35.8h1M176.9 34.4h1M166.3 36.4h1M178.2 32.7h1M169.1 33.8h1M163.1 33.1h1M170.9 28.3h1M173.2 30.9h1M166.1 31.5h1M173.4 42.4h1M175.2 35.3h1M170.0 33.4h1M174.3 32.4h1M172.7 38.5h1M168.8 32.1h1M172.8 34.5h1M171.1 32.3h1M171.3 42.1h1M175.5 27.9h1M171.6 34.9h1M171.6 28.8h1M171.1 35.1h1M169.5 35.8h1M164.3 28.3h1M171.8 36.1h1M171.0 32.6h1M172.0 39.0h1M174.1 34.2h1M170.1 38.9h1M173.1 38.1h1M170.7 31.0h1M172.1 31.9h1M174.9 38.0h1M165.1 37.2h1M175.4 38.8h1M170.1 31.0h1M174.4 38.7h1M171.7 29.8h1M167.0 35.6h1M169.1 31.7h1M172.8 38.8h1M165.4 31.7h1M175.3 34.3h1M170.5 37.1h1M168.1 29.5h1M171.6 40.9h1M174.5 34.5h1M174.5 32.8h1M168.0 27.6h1M172.3 38.2h1M172.6 34.3h1M170.3 39.0h1M171.4 28.6h1M175.5 31.8h1M172.7 34.5h1M174.6 35.5h1M175.1 35.4h1M170.1 32.4h1M173.4 31.1h1M174.2 33.5h1M168.8 30.9h1M171.1 41.8h1M173.8 34.6h1M168.8 42.3h1M170.7 34.5h1M170.3 40.0h1M172.0 32.6h1M172.0 30.4h1M168.4 33.8h1M163.0 39.3h1M177.4 29.9h1M171.1 28.0h1M172.0 35.4h1M173.7 29.0h1M169.7 31.8h1M170.8 43.9h1M170.9 34.3h1M170.0 37.8h1M179.1 39.3h1M176.0 30.1h1M174.6 34.6h1M175.2 38.9h1M173.4 27.6h1M171.9 32.4h1M172.8 34.7h1M174.6 27.9h1M169.3 34.2h1M172.4 32.8h1M171.4 34.7h1M174.6 34.0h1M172.2 27.0h1M163.8 28.5h1M172.6 25.0h1M172.7 34.1h1M171.5 31.5h1M170.3 37.9h1M172.6 34.4h1M170.1 35.4h1M175.0 34.4h1M170.4 29.6h1M171.8 30.7h1M167.3 38.1h1M169.7 26.1h1M169.4 42.1h1M171.2 29.0h1M168.2 37.5h1M172.7 35.4h1M170.9 36.5h1M176.0 36.5h1M171.0 28.7h1M172.8 41.0h1M173.4 29.3h1M172.0 39.9h1M169.6 36.5h1M175.1 41.3h1M166.8 27.3h1M172.6 37.4h1M170.5 34.4h1M170.3 39.5h1M165.0 35.6h1M167.7 31.7h1M167.0 30.7h1M171.4 34.6h1M176.8 33.6h1M172.5 36.0h1M172.3 40.6h1M171.9 35.1h1" stroke="#e8300c" stroke-width="1" opacity="0.85"/>
<line x1="178.75" y1="13.75" x2="178.75" y2="68" stroke="#000" stroke-width="1.7"/>
<line x1="151" y1="44.5" x2="205.5" y2="44.5" stroke="#000" stroke-width="1.7"/>
<rect x="149.5" y="0.5" width="71.0" height="72.0" fill="none" stroke="#4a4a4a" stroke-width="1"/>
<g stroke="#777" stroke-width="0.7"><line x1="148.0" y1="70.5" x2="149.5" y2="70.5"/><line x1="153.5" y1="72.5" x2="153.5" y2="73.7"/><line x1="148.0" y1="56.9" x2="149.5" y2="56.9"/><line x1="166.1" y1="72.5" x2="166.1" y2="73.7"/><line x1="148.0" y1="43.3" x2="149.5" y2="43.3"/><line x1="178.7" y1="72.5" x2="178.7" y2="73.7"/><line x1="148.0" y1="29.7" x2="149.5" y2="29.7"/><line x1="191.3" y1="72.5" x2="191.3" y2="73.7"/><line x1="148.0" y1="16.1" x2="149.5" y2="16.1"/><line x1="203.9" y1="72.5" x2="203.9" y2="73.7"/><line x1="148.0" y1="2.5" x2="149.5" y2="2.5"/><line x1="216.5" y1="72.5" x2="216.5" y2="73.7"/></g>
<ellipse cx="160" cy="109" rx="5" ry="6.5" fill="#8a8a8a" opacity="0.45" filter="url(#b3)"/>
<ellipse cx="173" cy="107" rx="4" ry="4.8" fill="#e8300c" opacity="0.85" filter="url(#b1)"/>
<path d="M172.7 107.5h1M172.8 111.0h1M173.1 107.7h1M172.9 110.2h1M171.6 110.8h1M171.3 110.0h1M178.7 108.3h1M172.7 103.3h1M175.2 107.5h1M175.7 105.2h1M174.5 113.9h1M174.2 106.3h1M169.1 107.5h1M174.9 109.6h1M169.7 103.9h1M170.1 103.9h1M172.2 108.4h1M178.7 108.2h1M177.3 101.6h1M177.6 110.3h1M174.3 110.4h1M174.8 114.3h1M175.4 101.3h1M167.8 113.2h1M172.8 112.2h1M172.0 105.2h1M172.0 108.6h1M173.6 105.3h1M174.6 109.7h1M170.3 103.5h1M167.2 106.4h1M173.0 105.0h1M171.2 107.0h1M173.1 109.5h1M175.5 109.1h1M176.3 104.1h1M174.8 108.8h1M169.9 105.1h1M174.3 107.8h1M169.3 105.5h1M177.5 110.5h1M173.2 112.3h1M170.3 106.9h1M175.8 106.3h1M169.7 109.6h1M177.7 98.5h1M173.5 103.1h1M172.1 102.5h1M180.7 105.1h1M173.1 105.0h1M170.1 105.9h1M173.6 113.7h1M173.9 113.1h1M169.8 107.8h1M171.7 101.9h1M184.1 106.6h1M173.7 104.8h1M171.3 103.8h1M176.0 106.1h1M172.6 108.1h1M169.4 108.3h1M172.5 109.1h1M171.9 107.6h1M174.5 110.9h1M171.0 111.0h1M170.1 106.8h1M173.4 108.0h1M165.6 104.0h1M172.5 110.8h1M170.9 112.9h1M167.7 107.8h1M174.6 107.6h1M173.8 110.8h1M170.6 109.6h1M176.2 106.7h1M166.1 103.3h1M170.5 103.7h1M174.3 104.6h1M180.4 109.5h1M169.1 106.5h1M177.5 109.9h1M170.0 111.2h1M171.6 115.4h1M171.4 109.6h1M174.7 105.9h1M172.5 111.6h1M174.5 107.3h1M174.3 113.7h1M175.8 109.2h1M174.0 101.9h1M173.4 105.8h1M175.2 105.3h1M174.3 103.8h1M175.7 104.9h1M172.9 109.6h1M172.0 107.5h1M176.1 113.8h1M167.6 104.3h1M175.0 110.8h1M171.6 107.8h1M172.4 115.6h1M172.4 103.3h1M168.4 103.0h1M176.9 106.1h1M178.8 109.8h1M174.1 109.8h1M175.3 110.8h1M170.1 105.5h1M171.4 107.9h1M172.3 103.1h1M170.9 113.9h1M179.3 104.5h1M174.1 107.4h1M170.5 110.0h1M172.8 113.4h1M174.4 106.4h1M165.2 107.1h1M175.5 105.0h1M175.6 109.9h1M167.8 106.8h1M174.0 110.2h1M173.5 107.4h1M172.0 106.5h1M173.0 103.7h1M174.9 106.3h1M174.5 105.7h1M174.2 108.0h1M175.6 109.1h1M175.8 106.9h1M172.8 106.6h1M169.3 107.1h1M176.2 110.2h1M170.5 108.6h1M175.2 102.7h1M174.0 108.7h1M175.2 108.4h1M167.8 100.3h1M178.9 106.1h1M176.8 112.0h1M173.3 103.4h1M177.1 107.4h1M174.5 109.2h1M175.8 111.1h1M168.8 102.5h1M173.4 107.5h1M175.3 107.0h1M172.5 114.7h1M177.1 111.6h1M176.1 104.7h1M172.7 107.3h1M169.8 104.4h1M173.5 103.2h1M174.6 109.2h1M172.3 106.3h1M174.8 109.2h1M174.1 103.2h1M168.2 114.8h1M171.1 106.2h1M167.6 104.7h1M170.8 110.3h1M165.2 102.5h1M171.8 105.8h1M170.7 105.9h1M168.3 108.4h1M176.5 108.0h1M171.4 112.0h1M174.4 103.9h1M171.3 105.3h1M172.9 111.8h1M170.9 107.0h1M173.3 103.3h1M171.6 109.7h1M176.4 100.9h1M175.1 106.5h1M176.8 109.7h1M178.8 108.6h1M171.8 104.6h1M168.8 109.5h1M174.5 110.4h1M174.0 102.2h1M171.8 106.6h1M173.5 110.2h1M177.2 108.5h1M166.9 103.9h1M166.7 104.8h1M169.4 108.3h1M172.3 111.4h1M176.2 105.9h1M175.8 107.5h1M174.4 112.3h1M169.6 107.3h1M177.6 104.8h1M173.6 108.0h1M171.8 102.9h1M171.0 104.0h1M176.2 108.4h1M175.1 103.3h1M174.5 108.0h1M176.1 105.0h1M175.4 112.3h1M178.3 104.2h1M169.7 102.3h1M175.9 109.6h1M174.0 104.4h1M176.7 113.2h1M172.9 107.1h1M176.5 109.3h1M177.0 106.1h1M174.0 106.3h1M171.3 106.5h1M172.2 109.3h1M172.1 107.7h1M170.6 103.2h1M177.2 104.0h1M178.4 110.8h1M166.2 105.2h1M171.8 107.6h1M172.5 105.4h1M176.7 107.1h1M175.9 105.1h1M171.0 112.2h1M172.2 103.6h1M172.5 111.2h1M172.5 105.0h1M174.9 111.0h1M172.4 106.4h1M171.9 117.0h1M172.4 113.7h1M172.6 108.9h1M167.0 108.1h1M173.2 106.4h1M171.8 102.7h1M168.6 108.1h1M171.1 107.2h1M172.5 105.7h1M170.8 114.0h1M169.7 105.7h1M172.1 103.4h1M170.2 110.5h1M175.8 108.0h1M182.6 110.4h1M176.7 104.6h1M176.2 113.4h1M171.9 113.9h1M170.6 103.5h1M172.9 104.7h1M174.9 103.6h1M173.3 100.6h1M172.9 111.2h1M172.2 108.6h1M176.2 103.6h1M169.2 107.8h1M173.8 106.6h1M170.1 111.8h1M169.6 106.6h1M172.9 110.1h1M171.7 104.6h1M179.0 104.5h1M175.4 107.0h1M171.6 107.3h1M172.3 108.6h1M165.5 107.4h1M173.2 104.1h1M171.9 115.7h1M178.5 109.8h1M173.7 106.4h1M177.1 105.9h1M170.6 109.9h1M170.1 104.7h1M177.3 101.9h1M172.8 107.9h1M173.8 102.4h1M172.3 106.3h1M178.7 111.0h1M170.8 110.6h1M174.9 107.1h1M172.3 106.5h1M168.4 105.3h1M175.8 112.6h1M178.5 106.2h1M174.8 99.0h1M172.2 103.1h1M175.4 101.7h1M169.9 103.6h1M174.2 110.4h1M170.3 113.8h1M173.5 104.6h1M174.0 107.5h1M175.5 108.7h1M179.5 111.6h1M171.1 110.3h1M175.3 104.0h1M170.8 104.7h1M165.7 109.7h1M172.4 111.8h1M171.4 107.8h1M175.2 110.9h1M174.0 103.8h1M179.5 110.6h1M177.0 113.2h1M177.2 109.0h1M174.4 109.7h1M168.6 110.4h1M170.1 109.0h1M170.0 110.0h1M171.6 116.2h1M173.6 109.3h1M170.3 106.5h1M172.8 106.5h1M171.7 104.4h1M175.3 106.2h1M170.6 108.8h1M170.6 106.9h1M171.5 104.3h1M172.4 104.6h1M169.3 108.7h1M172.1 102.4h1M171.9 108.2h1M174.3 108.8h1M173.8 109.6h1M171.6 104.7h1M174.8 106.1h1M173.1 109.8h1M175.8 111.8h1M171.0 106.2h1M174.7 102.5h1M169.3 109.6h1M171.2 104.3h1M175.4 109.4h1M175.7 106.3h1M172.2 106.3h1M173.9 100.4h1M171.0 110.0h1M170.7 107.3h1M173.4 109.3h1M171.6 103.5h1M180.4 105.0h1M178.1 101.3h1M173.4 106.8h1M178.6 114.6h1M175.9 104.0h1M170.7 104.9h1M171.5 108.4h1M170.7 106.6h1M177.4 112.5h1M167.5 104.2h1M171.9 112.0h1M172.1 114.2h1M174.1 112.5h1M170.5 106.4h1M176.0 109.5h1M167.5 106.5h1M173.6 109.7h1M171.2 113.6h1M173.5 112.6h1M174.2 107.8h1M172.1 103.4h1M175.6 110.2h1M175.8 106.2h1M170.1 106.2h1" stroke="#e8300c" stroke-width="1" opacity="0.85"/>
<path d="M171.1 115.5h1M174.9 112.0h1M170.6 118.2h1M174.7 124.1h1M173.6 112.2h1M169.0 112.4h1M172.2 116.5h1M171.8 113.1h1M171.5 115.2h1M173.8 115.8h1M169.6 111.0h1M176.4 115.2h1M171.5 115.4h1M175.4 114.3h1M172.6 114.6h1M173.7 111.6h1M172.6 119.5h1M175.5 117.9h1M172.9 121.6h1M174.1 120.9h1M168.5 111.3h1M174.4 114.5h1M170.8 111.8h1M176.4 110.9h1M172.3 110.1h1M171.5 124.2h1M179.2 113.6h1M169.1 121.8h1M169.5 108.6h1M173.1 111.3h1M167.8 119.9h1M169.9 111.4h1M172.5 114.8h1M175.3 115.9h1M176.7 119.9h1M177.3 119.9h1M172.3 117.6h1M172.1 109.5h1M168.6 118.4h1M165.1 112.3h1" stroke="#e8300c" stroke-width="1" opacity="0.85"/>
<path d="M177.2 122.9h1M178.5 125.9h1M183.0 119.0h1M179.5 102.0h1M184.5 111.0h1M182.5 127.1h1M189.7 130.3h1M192.0 109.8h1M187.7 138.7h1M186.2 112.8h1M186.2 118.5h1M180.6 133.8h1M183.1 112.7h1M180.4 142.5h1M179.5 130.1h1M185.0 134.8h1M182.6 114.4h1M180.6 113.6h1M198.0 125.4h1M182.4 135.7h1M187.6 121.8h1M187.4 126.2h1M190.1 139.5h1M182.4 123.2h1M183.1 135.4h1M186.2 131.1h1M188.9 117.4h1M184.8 136.9h1M189.1 131.4h1M182.6 120.0h1M179.5 120.9h1M183.7 109.7h1M190.3 116.1h1M185.4 129.3h1M181.1 106.0h1M189.3 127.5h1M182.7 134.5h1M188.9 114.3h1M183.7 106.5h1M182.7 137.2h1M179.6 131.5h1M176.0 120.7h1M189.2 140.1h1M186.5 130.8h1M193.3 99.9h1M174.9 141.8h1M197.3 129.3h1M184.4 126.0h1M184.2 117.6h1M184.0 122.3h1M187.7 130.1h1M189.4 129.2h1M178.9 137.0h1M169.8 124.7h1M185.9 118.4h1M194.1 113.0h1M177.8 118.6h1M186.3 131.2h1M184.7 130.0h1M180.3 117.7h1M184.8 110.5h1M185.1 119.7h1M187.8 113.7h1M181.3 118.1h1M182.1 113.9h1M182.7 110.5h1M187.0 130.0h1M184.0 121.7h1M179.3 114.2h1M182.9 114.8h1M177.8 125.1h1M184.0 119.6h1M179.7 123.0h1M180.4 119.4h1M185.1 130.5h1M188.1 117.7h1M190.5 112.3h1M183.2 136.1h1M196.8 124.8h1M182.2 119.9h1M177.6 122.1h1M181.8 116.2h1M190.5 116.0h1M193.1 131.6h1M187.5 117.8h1M181.4 104.2h1M185.5 120.9h1M186.2 117.0h1M186.7 109.1h1M172.4 128.1h1M189.8 93.1h1M190.9 120.2h1M183.2 108.7h1M178.8 130.4h1M180.2 123.2h1M183.3 142.7h1M188.8 110.8h1M181.5 112.4h1M176.7 116.9h1M189.9 124.0h1M187.7 122.2h1M181.8 124.3h1M183.7 142.1h1M193.6 127.2h1M187.3 104.3h1M179.8 131.4h1M190.6 119.7h1M182.9 119.1h1M188.3 123.7h1M192.1 135.0h1M182.4 117.6h1M182.8 115.0h1M181.8 122.8h1M188.8 108.2h1M176.6 116.0h1M182.5 127.9h1M179.9 138.1h1M181.3 121.4h1M184.4 134.8h1M185.7 123.8h1M181.2 125.2h1M186.2 120.1h1M184.0 105.7h1M181.3 135.0h1M191.6 122.8h1M172.6 141.3h1M181.9 133.2h1M180.8 136.8h1M190.2 113.2h1M182.9 111.8h1M185.5 119.6h1M176.1 113.4h1M185.4 108.8h1M189.8 127.9h1M183.1 137.1h1M179.2 130.2h1M176.9 120.4h1M187.5 118.3h1M183.5 129.8h1M192.1 136.1h1M186.5 121.0h1M176.4 140.2h1M194.0 102.6h1M188.7 123.1h1M187.8 126.6h1M183.0 123.5h1M183.9 134.8h1M182.7 118.2h1M187.5 129.8h1M186.4 126.3h1M191.9 134.3h1M185.2 121.5h1M187.6 105.4h1M181.3 116.6h1M185.0 119.8h1M197.1 130.7h1M186.2 145.4h1M184.0 120.4h1M190.6 131.6h1M189.0 135.3h1M182.1 117.1h1M180.2 124.5h1M189.4 113.3h1M181.2 110.5h1M194.6 131.3h1M185.2 111.7h1M178.6 117.2h1M184.2 111.2h1M182.9 135.4h1M184.1 124.5h1M173.0 120.9h1M183.3 116.8h1M176.7 122.8h1M178.6 118.2h1M175.6 122.6h1M188.9 115.3h1M185.8 108.7h1M187.1 128.8h1M182.0 132.1h1M179.4 124.0h1M193.0 123.3h1M178.1 134.7h1M186.9 120.8h1M174.4 105.2h1M176.0 138.0h1M185.6 115.2h1M190.1 137.8h1M179.6 128.2h1M175.4 127.1h1M193.6 109.7h1M184.4 117.3h1M183.6 124.4h1M185.5 132.2h1M186.8 133.7h1M189.4 134.2h1M180.5 127.5h1M182.1 115.3h1M194.4 126.4h1M184.3 103.0h1M182.8 131.0h1M183.0 118.2h1M191.8 120.5h1M182.3 122.5h1M182.8 133.8h1M187.1 122.8h1M182.1 121.3h1M193.0 120.5h1M187.5 108.1h1M185.7 130.2h1M190.8 126.6h1M187.1 126.7h1M189.7 143.5h1M185.1 115.5h1M187.2 122.4h1M187.4 131.1h1M184.9 119.2h1" stroke="#6a5a58" stroke-width="1" opacity="0.75"/>
<path d="M185.7 111.3h1M185.5 114.9h1M186.4 124.7h1M182.9 111.8h1M184.3 116.9h1M183.3 130.3h1M189.1 110.9h1M189.0 136.8h1M190.0 126.2h1M183.6 140.5h1M182.4 108.6h1M184.5 126.3h1M178.6 111.6h1M194.5 124.6h1M188.2 117.8h1M176.1 121.8h1M191.1 117.0h1M174.6 121.8h1M182.6 123.7h1M178.6 120.5h1M181.2 132.1h1M184.9 132.0h1M183.8 102.7h1M173.8 128.7h1M188.7 132.0h1M183.7 106.1h1M181.5 127.4h1M191.3 120.2h1M181.1 115.9h1M189.4 132.0h1M174.5 135.3h1M179.2 109.1h1M175.7 116.4h1M177.5 116.9h1M184.9 127.6h1M181.5 108.0h1M181.9 116.9h1M174.6 124.9h1M176.3 106.6h1M192.0 132.7h1M191.7 124.7h1M181.9 122.7h1M176.9 130.7h1M185.5 120.5h1M174.2 122.4h1M192.6 137.7h1M188.7 120.1h1M184.8 128.9h1M185.1 133.7h1M180.6 100.8h1M171.3 114.6h1M176.8 130.0h1M189.7 123.5h1M186.9 124.3h1M185.0 118.9h1M181.9 135.1h1M182.6 123.1h1M190.4 133.1h1M182.0 126.0h1M178.7 124.8h1M185.7 123.5h1M184.9 127.1h1M170.7 115.5h1M184.5 118.7h1M179.0 121.2h1M192.5 121.3h1M180.6 118.8h1M177.8 128.2h1M178.9 132.4h1M188.9 129.1h1M189.5 122.7h1M174.8 122.9h1M187.4 108.4h1M177.6 134.2h1M186.4 136.7h1M187.6 124.2h1M186.3 131.8h1M183.9 121.5h1M185.7 120.4h1" stroke="#85503f" stroke-width="1" opacity="0.8"/>
<path d="M191.3 111.8h1M176.2 109.2h1M186.1 113.5h1M182.7 114.5h1M183.1 108.4h1M182.4 112.7h1M186.2 118.5h1M177.2 110.8h1M184.2 121.3h1M185.0 114.8h1M186.3 104.0h1M180.0 110.7h1M178.1 118.3h1M183.1 116.9h1M181.5 118.5h1" stroke="#3050a0" stroke-width="1" opacity="0.7"/>
<line x1="178.25" y1="91.25" x2="178.25" y2="145" stroke="#000" stroke-width="1.7"/>
<line x1="151.25" y1="121.25" x2="205.5" y2="121.25" stroke="#000" stroke-width="1.7"/>
<rect x="149.5" y="75.5" width="71.0" height="72.0" fill="none" stroke="#4a4a4a" stroke-width="1"/>
<g stroke="#777" stroke-width="0.7"><line x1="148.0" y1="145.5" x2="149.5" y2="145.5"/><line x1="153.5" y1="147.5" x2="153.5" y2="148.7"/><line x1="148.0" y1="131.9" x2="149.5" y2="131.9"/><line x1="166.1" y1="147.5" x2="166.1" y2="148.7"/><line x1="148.0" y1="118.3" x2="149.5" y2="118.3"/><line x1="178.7" y1="147.5" x2="178.7" y2="148.7"/><line x1="148.0" y1="104.7" x2="149.5" y2="104.7"/><line x1="191.3" y1="147.5" x2="191.3" y2="148.7"/><line x1="148.0" y1="91.1" x2="149.5" y2="91.1"/><line x1="203.9" y1="147.5" x2="203.9" y2="148.7"/><line x1="148.0" y1="77.5" x2="149.5" y2="77.5"/><line x1="216.5" y1="147.5" x2="216.5" y2="148.7"/></g>
<ellipse cx="265" cy="36" rx="4" ry="8" fill="#b8c4cc" opacity="0.45" filter="url(#b2)"/>
<ellipse cx="273.5" cy="56" rx="2.5" ry="6" fill="#888" opacity="0.35" filter="url(#b2)"/>
<path d="M275.2 53.9h1M275.5 51.6h1M277.3 49.2h1M272.9 50.6h1M273.6 65.9h1M271.9 68.8h1M276.5 60.0h1M272.3 63.3h1M267.5 52.6h1M275.6 57.3h1M278.8 53.2h1M270.7 56.1h1M274.8 68.4h1M269.8 58.5h1M276.2 53.2h1M272.6 49.8h1M275.2 62.8h1M274.8 59.1h1M275.6 56.7h1M275.1 62.7h1M276.3 60.8h1M273.7 62.0h1M270.2 46.3h1M277.0 58.4h1M271.3 53.8h1M273.2 58.0h1M271.9 63.8h1M271.2 68.1h1M275.0 46.8h1M270.9 57.9h1M274.1 54.8h1M273.6 58.5h1M271.1 57.9h1M278.4 53.4h1M271.4 61.7h1M276.4 64.2h1M272.2 57.0h1M274.0 56.2h1M274.4 64.4h1M274.7 57.4h1M273.1 68.9h1M270.9 70.3h1M275.1 58.1h1M271.9 69.2h1M276.1 63.3h1M278.0 46.0h1M273.7 55.5h1M272.0 58.0h1M274.7 60.9h1M273.2 49.0h1M274.7 61.4h1M278.1 63.5h1M273.6 50.2h1M279.4 53.2h1M274.0 62.3h1M274.6 66.0h1M271.3 53.1h1M273.9 49.6h1M272.2 66.4h1M274.2 56.8h1M272.3 57.8h1M273.5 50.6h1M275.2 49.3h1M276.3 55.3h1M268.6 47.5h1M274.2 51.9h1M277.5 66.4h1M278.1 63.2h1M276.5 53.6h1M276.4 54.7h1M273.4 48.8h1M273.7 60.1h1M273.4 50.4h1M275.5 63.4h1M273.3 62.5h1M275.7 51.2h1M273.5 45.5h1M271.3 60.3h1M271.6 60.0h1M274.3 44.2h1M272.5 67.3h1M273.6 58.3h1M272.0 47.2h1M273.1 51.9h1M273.8 45.0h1M276.6 68.6h1M271.9 59.6h1M271.6 63.0h1M271.7 56.6h1M276.4 60.9h1M272.8 47.7h1M270.0 65.3h1M274.7 57.9h1M276.3 58.4h1M271.9 56.8h1M273.3 57.4h1M279.0 61.3h1M274.1 55.9h1M272.0 51.1h1M269.4 54.5h1M270.2 45.5h1M271.5 44.4h1M276.5 65.6h1M271.4 70.8h1M275.0 41.1h1M273.6 51.0h1M269.7 55.8h1M276.1 60.4h1M270.3 53.2h1M271.9 64.9h1M273.3 51.2h1M271.5 44.7h1M271.7 63.3h1M269.3 58.8h1M273.3 62.8h1M271.0 63.4h1M269.9 57.3h1M273.1 58.3h1M271.3 63.1h1M278.7 67.3h1M271.4 53.8h1M275.1 58.4h1M271.8 65.5h1M274.7 64.2h1M273.1 65.8h1M272.5 50.2h1M273.5 48.4h1M276.3 62.3h1M269.8 58.6h1M275.4 55.2h1M274.4 53.7h1M273.4 56.9h1M274.6 51.2h1M271.0 59.6h1M272.4 60.9h1M272.4 49.0h1M275.1 59.2h1M275.1 55.3h1M272.7 65.7h1M269.8 68.8h1M274.6 57.1h1M273.7 61.4h1M271.8 59.3h1M271.4 45.5h1M274.0 58.1h1M274.9 61.1h1M275.1 62.7h1M271.2 65.4h1M279.4 53.8h1M270.7 62.0h1M275.5 64.1h1M276.9 48.5h1M274.3 60.5h1M276.3 51.7h1M273.6 55.1h1M273.2 56.6h1M273.2 46.0h1M273.4 57.9h1M272.7 34.4h1M272.0 53.2h1M271.6 67.9h1M275.6 56.3h1M271.4 60.6h1M272.2 67.2h1M276.0 56.7h1M274.9 52.3h1M270.0 63.0h1M277.1 55.5h1M272.3 45.8h1M278.3 49.7h1M271.4 56.2h1M276.2 57.9h1M273.5 57.6h1M275.4 57.3h1M273.9 57.0h1M271.0 66.3h1M272.0 48.9h1M272.5 57.7h1M275.3 47.9h1M270.7 58.7h1M274.4 50.3h1M271.0 58.6h1M273.2 46.9h1M271.6 67.2h1M271.2 64.4h1M270.1 67.2h1M277.0 53.4h1M272.0 61.6h1M270.8 61.1h1M276.2 59.2h1M274.2 56.5h1M275.7 52.2h1M277.0 57.3h1M272.8 46.8h1M272.5 59.0h1M276.3 47.0h1M273.2 53.0h1M270.9 57.5h1M271.8 63.2h1M267.5 62.3h1M269.3 44.8h1M274.7 55.3h1M273.8 51.2h1M271.2 52.7h1M273.4 52.0h1M272.6 51.9h1M274.0 50.1h1M268.9 40.4h1M273.5 58.1h1M275.6 52.7h1M271.0 47.8h1M275.2 53.4h1M275.7 57.0h1M272.9 45.4h1M272.0 62.7h1M272.2 61.9h1M269.9 64.1h1M279.7 64.8h1M274.2 49.4h1M272.3 53.2h1M273.9 44.3h1M271.6 62.7h1M273.8 62.3h1M275.4 50.0h1M270.5 60.5h1M273.6 58.0h1" stroke="#6e6e6e" stroke-width="1" opacity="0.85"/>
<ellipse cx="272.3" cy="36" rx="3" ry="6" fill="#e8300c" opacity="0.85" filter="url(#b1)"/>
<path d="M270.3 41.6h1M273.5 42.3h1M271.4 39.8h1M272.2 30.8h1M272.1 26.9h1M271.9 37.0h1M274.0 30.2h1M269.1 32.0h1M267.3 32.4h1M278.6 36.8h1M270.5 32.2h1M276.6 29.6h1M272.0 35.6h1M270.5 32.0h1M268.3 31.4h1M275.4 43.8h1M271.6 39.9h1M273.4 36.6h1M272.0 42.7h1M273.7 34.8h1M271.7 41.2h1M270.9 32.0h1M271.6 33.3h1M275.3 38.0h1M272.1 33.1h1M275.7 38.4h1M277.3 41.0h1M271.8 33.0h1M271.6 37.0h1M274.2 38.7h1M276.1 27.6h1M272.4 28.2h1M269.8 32.7h1M270.7 30.6h1M268.6 42.3h1M271.5 41.3h1M269.6 23.2h1M270.9 40.9h1M271.0 38.2h1M269.7 43.7h1M273.3 41.8h1M271.6 43.1h1M272.5 33.3h1M270.8 36.3h1M270.1 29.4h1M272.6 39.9h1M271.6 40.6h1M276.1 29.0h1M272.9 30.7h1M270.7 37.0h1M266.6 39.3h1M274.3 39.0h1M273.9 46.0h1M271.4 42.0h1M275.8 38.7h1M268.0 35.1h1M271.6 27.1h1M272.2 40.2h1M271.7 35.0h1M275.8 32.6h1M270.0 36.2h1M275.0 39.3h1M272.5 33.3h1M275.3 40.9h1M268.1 37.8h1M266.5 44.2h1M273.8 32.5h1M269.2 34.3h1M268.1 39.1h1M271.1 26.2h1M272.2 42.5h1M269.2 34.0h1M276.7 37.0h1M271.0 37.0h1M274.2 30.5h1M272.1 27.0h1M268.5 27.5h1M274.3 37.7h1M274.1 42.7h1M272.4 37.3h1M273.3 38.6h1M269.7 34.5h1M271.9 36.2h1M270.5 35.3h1M273.0 37.0h1M273.7 40.5h1M273.6 41.3h1M274.3 43.7h1M273.8 32.6h1M277.9 42.2h1M275.3 40.0h1M272.4 29.7h1M273.3 34.0h1M271.3 24.2h1M276.0 29.6h1M269.7 38.6h1M273.7 31.6h1M272.3 37.4h1M272.7 38.9h1M274.2 34.0h1M268.4 47.9h1M271.4 30.5h1M274.1 39.2h1M270.8 49.0h1M266.6 43.1h1M272.2 37.7h1M273.1 34.7h1M273.1 28.8h1M271.3 46.2h1M266.1 42.8h1M266.9 31.3h1M274.4 33.7h1M270.9 27.7h1M272.0 35.0h1M270.8 27.4h1M272.7 38.3h1M275.0 38.8h1M276.0 42.6h1M265.5 45.2h1M272.0 30.2h1M273.3 41.3h1M268.6 29.2h1M274.0 32.9h1M275.8 37.2h1M271.0 28.7h1M273.7 26.5h1M269.2 28.8h1M276.4 45.4h1M271.8 33.9h1M274.0 42.9h1M270.4 48.1h1M271.8 42.2h1M266.6 35.7h1M270.6 46.9h1M271.8 29.0h1M277.0 32.2h1M272.3 29.1h1M273.9 37.1h1M271.6 33.8h1M270.9 32.0h1M268.9 42.6h1M274.4 28.3h1M269.5 38.2h1M277.8 34.9h1M271.5 34.6h1M272.9 35.0h1M274.9 41.4h1M273.6 44.7h1M271.7 33.0h1M279.5 25.3h1M268.5 23.0h1M273.2 30.1h1M274.9 24.4h1M272.0 33.8h1M269.7 42.2h1M271.3 38.5h1M271.0 36.8h1M271.2 36.4h1M272.1 32.2h1M273.4 35.0h1M270.0 30.2h1M273.4 43.3h1M269.1 33.7h1M273.4 41.7h1M274.0 29.5h1M272.4 41.0h1M272.9 34.7h1M269.4 36.9h1M272.1 36.2h1M275.9 42.5h1M270.4 37.3h1M271.5 36.5h1M276.2 41.0h1M272.4 32.4h1M271.9 38.0h1M271.1 42.1h1M272.3 29.5h1M277.2 20.0h1M271.6 35.3h1M274.7 42.1h1M275.8 44.6h1M273.1 36.6h1M274.8 35.9h1M269.3 33.5h1M273.9 39.4h1M269.6 42.6h1M273.0 27.7h1M273.4 41.5h1M273.6 34.3h1M270.4 42.2h1M272.8 36.0h1M271.3 30.3h1M267.8 34.1h1M275.0 40.2h1M270.7 44.4h1M271.7 30.4h1M274.7 43.6h1M271.4 29.3h1M272.1 22.6h1M272.4 44.4h1M273.0 31.9h1M274.0 33.3h1M275.4 34.0h1M277.2 34.1h1M272.8 30.8h1M269.2 37.9h1M273.1 30.6h1M273.7 33.7h1M271.0 35.6h1M273.2 40.0h1M275.3 38.1h1M270.5 32.2h1M273.2 29.4h1M271.9 33.9h1M272.1 37.0h1M274.8 45.0h1M274.4 41.6h1M269.7 41.7h1M275.4 28.5h1M278.4 32.9h1M266.6 45.7h1M272.5 31.6h1M270.9 41.9h1M272.9 33.9h1M275.1 30.8h1M270.3 32.9h1M270.5 39.8h1M271.7 30.2h1M271.2 25.0h1M272.7 36.6h1M273.8 34.7h1M273.3 30.8h1M272.4 36.9h1M269.4 39.2h1M272.6 36.3h1M271.1 47.0h1M272.3 31.8h1M270.3 39.3h1M271.8 31.6h1M270.6 41.1h1M272.5 41.8h1M272.3 29.5h1M274.4 37.8h1M270.7 34.3h1M270.0 40.6h1M271.3 38.6h1M272.9 34.6h1M273.2 34.6h1M269.5 33.7h1M269.5 40.2h1M273.9 32.8h1M273.8 37.4h1M274.6 30.9h1M272.4 30.5h1M270.7 43.5h1M267.5 31.0h1M273.5 40.3h1M270.4 24.8h1M268.2 38.0h1M274.9 41.0h1M270.5 43.4h1M271.8 39.4h1M271.8 44.8h1M271.1 24.2h1M271.5 37.0h1M273.0 32.1h1M271.7 29.8h1M271.7 36.5h1M272.9 45.0h1M267.5 38.8h1M273.3 29.6h1M272.5 36.0h1M269.9 40.0h1M276.9 39.7h1M274.2 41.9h1M272.0 41.3h1M270.4 37.0h1M274.0 43.2h1M271.6 34.4h1M273.4 35.6h1M272.6 40.4h1M270.5 40.8h1M273.2 34.5h1M269.3 32.5h1M272.2 41.1h1M267.6 39.9h1M272.8 29.8h1M274.3 38.2h1M273.3 30.6h1M269.7 41.0h1M275.7 38.0h1M271.8 33.5h1M268.2 41.4h1M272.1 42.7h1M270.6 41.8h1M270.6 39.2h1M275.6 32.1h1M274.5 36.0h1M270.1 37.1h1M273.8 32.1h1M271.7 32.9h1M270.5 34.9h1M274.3 33.3h1M275.3 33.9h1M270.7 41.9h1M275.6 32.4h1M273.7 29.6h1M271.3 34.0h1M274.0 29.2h1M271.1 32.2h1M272.5 29.3h1M269.1 51.4h1M272.8 27.8h1M274.3 28.8h1M267.8 45.1h1M275.3 31.4h1M269.7 38.6h1M277.1 39.3h1M273.9 29.5h1M268.1 38.1h1M274.7 36.7h1M272.3 43.5h1M270.3 42.0h1M274.3 32.6h1M272.6 36.6h1M273.7 30.7h1M271.7 36.5h1M272.4 36.1h1M272.9 35.0h1M271.1 41.6h1M270.8 34.3h1M270.2 29.8h1M273.4 35.8h1M272.0 38.5h1M271.9 39.7h1M276.6 37.9h1M271.7 45.0h1M274.0 27.0h1M275.5 37.1h1M274.3 29.7h1M270.3 32.5h1M273.6 29.9h1M270.6 41.2h1M270.8 36.6h1M270.2 26.8h1M272.1 35.3h1M268.9 41.3h1M274.2 40.8h1M271.1 29.8h1M272.1 36.9h1M271.9 32.8h1M269.9 32.0h1M272.1 33.4h1M276.2 34.5h1M273.4 33.5h1M271.9 30.7h1M271.2 27.9h1M267.4 43.2h1M269.8 38.3h1M272.0 32.9h1M274.0 33.0h1M273.3 34.0h1M274.6 41.2h1M272.5 41.9h1M273.5 44.4h1M272.0 27.7h1M272.8 37.3h1M271.4 34.9h1M271.7 29.2h1M276.3 31.8h1M269.8 27.5h1M270.3 35.8h1M275.8 39.2h1M270.6 29.3h1M269.7 35.5h1M274.3 33.4h1M276.1 46.4h1M272.7 24.3h1M274.9 35.5h1M273.9 41.3h1M269.9 36.3h1M272.7 31.9h1M273.9 35.3h1M271.3 46.1h1M272.7 44.8h1M271.9 41.6h1M270.5 36.8h1M274.8 24.3h1M273.6 34.5h1M274.9 37.0h1M272.1 29.1h1M279.2 32.0h1M271.5 32.1h1M271.6 37.2h1M269.2 41.7h1M271.7 39.2h1M267.3 33.2h1M271.6 33.9h1M270.7 37.7h1M273.2 30.7h1M267.7 39.9h1M271.5 41.7h1M274.3 35.4h1M268.9 34.0h1M270.6 42.7h1M268.3 40.9h1M268.7 32.9h1M269.0 32.2h1M271.3 38.0h1M270.9 39.7h1M276.4 36.8h1M269.6 35.0h1M272.0 34.0h1M275.0 42.2h1M277.0 38.8h1M266.0 35.3h1M273.9 31.6h1M270.9 40.9h1M272.6 29.9h1M270.9 19.4h1" stroke="#e8300c" stroke-width="1" opacity="0.85"/>
<path d="M280.0 28.7h1M279.8 28.8h1M276.4 31.5h1M290.8 28.8h1M275.3 31.4h1M284.1 36.6h1M282.7 32.2h1M280.5 30.5h1M279.3 30.3h1M274.3 29.6h1" stroke="#e07070" stroke-width="1" opacity="0.85"/>
<line x1="277.7" y1="18.5" x2="277.7" y2="69.7" stroke="#000" stroke-width="1.7"/>
<line x1="255.2" y1="46.9" x2="301.7" y2="46.9" stroke="#000" stroke-width="1.7"/>
<rect x="237.5" y="0.5" width="72.0" height="72.0" fill="none" stroke="#4a4a4a" stroke-width="1"/>
<g stroke="#777" stroke-width="0.7"><line x1="236.0" y1="70.5" x2="237.5" y2="70.5"/><line x1="241.5" y1="72.5" x2="241.5" y2="73.7"/><line x1="236.0" y1="56.9" x2="237.5" y2="56.9"/><line x1="254.3" y1="72.5" x2="254.3" y2="73.7"/><line x1="236.0" y1="43.3" x2="237.5" y2="43.3"/><line x1="267.1" y1="72.5" x2="267.1" y2="73.7"/><line x1="236.0" y1="29.7" x2="237.5" y2="29.7"/><line x1="279.9" y1="72.5" x2="279.9" y2="73.7"/><line x1="236.0" y1="16.1" x2="237.5" y2="16.1"/><line x1="292.7" y1="72.5" x2="292.7" y2="73.7"/><line x1="236.0" y1="2.5" x2="237.5" y2="2.5"/><line x1="305.5" y1="72.5" x2="305.5" y2="73.7"/></g>
<ellipse cx="265" cy="114" rx="4" ry="7" fill="#b8c4cc" opacity="0.4" filter="url(#b2)"/>
<ellipse cx="273.5" cy="131" rx="2.5" ry="6" fill="#888" opacity="0.35" filter="url(#b2)"/>
<path d="M277.6 133.8h1M271.9 130.8h1M272.5 138.6h1M273.4 127.7h1M274.9 133.4h1M272.0 126.9h1M273.8 121.9h1M271.5 137.4h1M275.3 138.0h1M272.5 128.0h1M272.9 128.7h1M276.2 130.2h1M276.4 127.3h1M274.3 141.0h1M271.9 127.6h1M272.2 122.0h1M272.8 127.7h1M278.2 128.7h1M268.9 137.0h1M275.5 131.3h1M274.1 135.7h1M272.3 131.7h1M273.8 141.2h1M276.5 132.5h1M270.6 136.7h1M273.4 138.3h1M273.6 132.5h1M274.9 127.2h1M272.1 144.9h1M271.6 137.0h1M274.9 136.3h1M276.4 123.6h1M275.5 119.4h1M273.6 133.5h1M275.7 137.8h1M271.5 129.9h1M273.1 127.4h1M271.7 127.6h1M275.9 139.5h1M275.1 141.4h1M273.7 125.1h1M272.1 132.7h1M275.7 138.6h1M271.6 137.1h1M272.3 135.0h1M275.4 140.2h1M272.3 132.9h1M274.4 129.0h1M273.7 135.0h1M269.9 127.7h1M278.4 134.1h1M272.3 120.7h1M271.4 134.5h1M274.9 134.1h1M274.7 127.9h1M276.9 124.9h1M274.6 129.9h1M269.8 136.8h1M272.9 135.7h1M276.2 132.5h1M272.1 130.2h1M273.3 140.0h1M275.3 140.8h1M275.1 127.0h1M275.5 137.2h1M273.2 134.2h1M272.8 124.1h1M273.3 136.0h1M272.7 118.3h1M271.8 137.9h1M274.0 138.1h1M271.9 129.0h1M271.3 126.9h1M274.6 132.3h1M272.4 133.2h1M270.7 129.2h1M270.3 122.7h1M270.6 125.0h1M276.8 139.6h1M276.2 128.1h1M274.8 124.8h1M272.3 132.9h1M270.0 132.7h1M274.8 119.3h1M268.2 129.9h1M273.2 132.3h1M271.0 134.8h1M273.7 127.2h1M277.0 133.0h1M275.1 142.4h1M272.4 130.2h1M269.7 130.1h1M274.7 132.7h1M270.8 126.5h1M269.5 123.4h1M273.7 133.3h1M271.5 130.2h1M271.7 135.2h1M274.8 128.2h1M272.5 124.2h1M272.5 144.4h1M273.4 136.6h1M274.7 140.2h1M272.8 126.1h1M275.7 136.9h1M272.0 138.0h1M273.4 131.2h1M277.4 134.6h1M274.1 129.6h1M273.9 137.7h1M274.4 127.0h1M274.4 130.8h1M274.1 130.3h1M268.8 121.9h1M272.6 118.4h1M270.2 143.5h1M274.9 128.8h1M274.2 118.2h1M274.0 137.3h1M273.9 123.7h1M275.5 128.3h1M272.2 132.7h1M272.8 143.6h1M273.2 144.2h1M274.4 124.1h1M273.5 131.8h1M276.5 139.1h1M278.9 127.5h1M272.5 145.3h1M271.5 133.6h1M276.9 125.5h1M272.7 127.1h1M274.6 133.9h1M273.4 135.4h1M271.8 129.3h1M274.5 143.5h1M273.4 131.8h1M276.3 131.9h1M276.3 132.9h1M275.9 132.6h1M271.5 126.4h1M274.4 142.7h1M277.5 129.6h1M278.8 124.9h1M271.6 137.0h1M270.2 136.9h1M274.3 135.2h1M270.9 133.8h1M275.5 131.2h1M275.7 131.6h1M274.2 129.6h1M270.5 130.6h1M274.5 127.0h1M269.3 122.3h1M276.3 130.2h1M271.8 138.9h1M273.1 122.5h1M272.5 126.2h1M273.1 126.0h1M273.6 134.2h1M272.2 130.3h1M273.1 136.4h1M271.9 136.0h1M276.2 130.3h1M271.4 129.7h1M269.6 128.3h1M270.9 130.5h1M272.7 134.6h1M273.7 134.0h1M273.4 133.2h1M271.0 135.5h1M276.3 138.1h1M270.6 134.0h1M270.0 136.0h1M273.0 128.7h1M271.9 130.1h1M273.5 125.7h1M273.6 133.1h1M274.6 131.2h1M273.5 145.4h1M275.6 133.4h1M270.5 135.2h1M274.7 115.6h1M273.1 133.8h1M273.5 132.1h1M273.1 139.8h1M274.3 129.8h1M273.0 144.0h1M271.6 128.3h1M274.2 132.4h1M274.1 139.6h1M275.9 134.0h1M273.6 131.1h1M273.0 137.5h1M270.7 125.3h1M272.5 125.7h1M271.9 138.7h1M268.6 135.0h1M270.6 130.0h1" stroke="#6e6e6e" stroke-width="1" opacity="0.85"/>
<ellipse cx="272.5" cy="114" rx="3" ry="5.5" fill="#e8300c" opacity="0.85" filter="url(#b1)"/>
<path d="M271.1 109.5h1M268.8 114.9h1M265.2 103.9h1M271.5 120.0h1M277.0 113.0h1M270.5 113.1h1M273.6 119.2h1M270.1 116.9h1M272.4 120.2h1M271.5 113.5h1M270.4 107.9h1M273.1 118.1h1M275.2 115.8h1M271.3 109.9h1M269.6 110.9h1M273.3 115.0h1M266.8 114.0h1M271.8 109.3h1M272.4 117.2h1M269.9 107.7h1M271.7 115.8h1M271.8 122.2h1M272.8 109.5h1M274.4 111.3h1M274.2 115.0h1M275.5 109.5h1M274.3 116.6h1M270.2 118.0h1M278.1 116.3h1M270.6 113.7h1M275.7 115.8h1M276.1 111.2h1M275.7 106.6h1M272.1 113.0h1M271.3 120.6h1M271.0 116.3h1M277.1 118.6h1M271.5 110.8h1M267.5 116.4h1M274.7 120.0h1M273.1 125.3h1M274.4 102.9h1M270.3 118.5h1M271.5 118.7h1M278.8 110.7h1M278.0 114.1h1M268.8 115.0h1M274.7 111.6h1M276.4 110.1h1M272.0 119.1h1M272.0 111.7h1M272.4 117.8h1M276.8 121.3h1M277.1 114.4h1M268.4 114.3h1M271.5 109.5h1M271.2 114.2h1M272.6 119.1h1M270.2 120.2h1M272.6 118.2h1M275.6 108.3h1M276.5 110.9h1M273.5 119.9h1M274.8 106.7h1M272.9 120.2h1M272.2 114.1h1M272.7 122.7h1M271.1 109.8h1M269.7 111.9h1M271.9 116.2h1M272.3 105.9h1M268.6 117.9h1M274.3 107.7h1M274.8 102.3h1M278.3 117.5h1M268.4 117.1h1M272.4 112.2h1M271.6 113.4h1M272.2 110.0h1M271.1 117.3h1M273.8 107.8h1M271.3 122.3h1M274.3 122.8h1M269.1 109.3h1M267.1 104.8h1M271.6 109.2h1M269.8 111.0h1M272.0 118.7h1M273.9 105.7h1M276.2 112.8h1M270.0 114.3h1M271.5 107.5h1M276.4 111.6h1M271.0 117.2h1M276.7 116.9h1M270.2 116.7h1M275.3 116.4h1M274.1 112.1h1M272.3 106.1h1M270.7 108.8h1M272.5 122.0h1M266.9 107.9h1M270.2 114.1h1M275.4 110.6h1M270.5 120.6h1M273.4 117.1h1M274.6 110.8h1M273.1 111.2h1M270.7 115.2h1M273.6 108.1h1M270.6 117.6h1M272.9 117.8h1M271.7 110.5h1M274.5 117.5h1M265.4 118.8h1M270.6 117.9h1M276.4 113.1h1M270.1 115.8h1M272.7 117.3h1M269.0 115.7h1M274.7 118.0h1M274.1 120.5h1M270.4 120.6h1M273.0 109.5h1M271.8 115.9h1M273.3 121.3h1M273.0 111.9h1M278.0 112.8h1M270.4 119.2h1M271.5 110.6h1M269.8 120.5h1M269.8 115.0h1M271.4 113.5h1M270.4 115.3h1M274.0 119.8h1M271.6 108.7h1M268.8 114.5h1M266.3 121.2h1M272.6 115.1h1M269.0 111.3h1M270.6 117.9h1M271.5 117.6h1M273.8 104.9h1M271.9 120.8h1M271.2 115.2h1M272.2 108.4h1M278.0 113.9h1M274.1 112.3h1M276.0 120.3h1M275.5 119.3h1M274.3 121.5h1M273.5 115.2h1M274.5 110.1h1M266.1 118.6h1M272.9 111.0h1M271.8 109.8h1M270.4 115.5h1M272.8 118.7h1M272.3 117.7h1M274.2 111.0h1M268.3 111.1h1M271.9 111.9h1M278.0 111.1h1M273.7 110.7h1M274.2 108.2h1M274.9 115.4h1M271.5 108.6h1M276.7 111.7h1M276.1 102.5h1M269.5 123.6h1M277.0 114.6h1M275.0 117.6h1M271.6 115.2h1M269.6 107.8h1M272.8 118.2h1M272.9 108.4h1M274.6 115.0h1M274.4 113.1h1M271.8 119.8h1M275.9 108.5h1M269.7 119.4h1M273.4 114.8h1M270.0 119.6h1M273.0 115.6h1M273.5 111.9h1M273.5 115.2h1M274.3 116.5h1M269.3 111.0h1M271.8 120.4h1M270.9 120.2h1M275.2 118.9h1M278.2 114.5h1M273.3 120.7h1M273.5 119.5h1M272.2 121.6h1M273.4 105.0h1M275.2 113.6h1M270.3 113.1h1M271.8 120.3h1M273.3 114.2h1M272.5 110.1h1M270.9 112.2h1M271.9 108.8h1M271.5 119.6h1M273.6 114.6h1M273.4 113.4h1M269.5 119.0h1M278.1 117.1h1M274.2 126.8h1M269.5 117.2h1M271.6 113.2h1M268.3 114.2h1M273.5 106.6h1M271.9 112.1h1M270.0 117.7h1M276.6 116.7h1M275.1 118.4h1M272.3 117.5h1M275.8 112.5h1M272.1 107.7h1M267.8 110.5h1M274.7 116.4h1M273.2 121.1h1M268.1 121.4h1M272.7 118.4h1M276.0 110.5h1M270.3 116.6h1M272.4 111.7h1M272.2 111.0h1M272.8 112.7h1M276.8 109.4h1M274.0 115.0h1M276.5 109.8h1M271.3 123.2h1M270.8 112.7h1M271.5 109.7h1M275.6 122.1h1M272.1 110.8h1M269.1 117.9h1M271.2 117.3h1M266.5 112.5h1M274.1 116.6h1M265.3 116.0h1M272.8 114.5h1M271.6 112.4h1M272.9 117.1h1M264.6 114.5h1M274.8 113.5h1M275.6 109.9h1M277.3 119.3h1M271.5 128.2h1M276.1 122.4h1M269.5 114.0h1M273.7 119.8h1M272.7 108.1h1M275.6 113.7h1M273.6 113.0h1M272.2 107.8h1M274.2 111.5h1M268.0 116.6h1M272.4 119.3h1M274.6 108.6h1M272.1 114.6h1M272.7 109.3h1M272.7 119.4h1M275.6 121.8h1M274.4 102.1h1M271.8 111.9h1M265.2 122.2h1M274.8 114.5h1M273.4 117.0h1M272.0 121.4h1M277.1 118.6h1M271.1 115.8h1M275.0 118.1h1M270.8 119.3h1M274.3 117.4h1M271.5 114.4h1M267.7 114.4h1M271.4 113.1h1M271.8 113.0h1M272.7 115.0h1M271.0 113.9h1M272.3 117.0h1M273.6 112.8h1M270.4 106.4h1M269.4 116.6h1M270.2 122.5h1M272.1 112.6h1M272.1 111.9h1M270.9 114.9h1M268.9 115.2h1M272.3 110.1h1M275.1 116.3h1M275.2 111.3h1M269.4 108.7h1M268.6 105.2h1M276.4 112.2h1M273.0 111.9h1M272.1 122.3h1M268.1 109.7h1M272.8 110.1h1M274.2 120.9h1M274.7 118.3h1M272.1 119.5h1M270.5 108.7h1M271.8 113.3h1M275.6 109.7h1M275.4 110.7h1M269.3 106.2h1M272.4 107.4h1M273.0 114.8h1M271.5 105.0h1M271.2 116.7h1M268.0 118.0h1M272.5 111.9h1M273.0 117.8h1M272.4 110.7h1M274.5 111.2h1M273.4 119.4h1M275.8 122.4h1M275.1 115.3h1M272.0 115.5h1M273.8 129.3h1M274.2 110.5h1M276.3 106.7h1M275.0 108.2h1M269.8 112.1h1M271.8 107.9h1M274.1 114.0h1M275.9 109.5h1M268.0 117.9h1M271.9 119.4h1M266.6 108.4h1M272.7 124.2h1M269.4 105.1h1M271.4 121.5h1M276.5 107.8h1M271.0 105.4h1M270.4 109.8h1M273.6 120.2h1M278.5 112.8h1M274.6 115.6h1M272.8 124.1h1M274.3 122.3h1M273.3 118.8h1M273.8 114.1h1M270.8 112.5h1M272.5 112.6h1M271.6 111.0h1M274.7 113.3h1M272.2 113.4h1M275.8 111.9h1M276.0 110.3h1M276.3 117.5h1M271.3 116.8h1M275.4 109.8h1M271.9 116.1h1M272.0 113.1h1M272.6 116.1h1M274.4 121.8h1M271.7 129.0h1M271.7 123.3h1M272.2 107.3h1M271.4 112.8h1M275.2 104.5h1M270.9 113.9h1M274.1 116.5h1M274.7 113.7h1M271.9 120.5h1M276.8 116.4h1M272.9 110.3h1M277.8 116.5h1M274.1 106.6h1M274.0 126.5h1M272.1 113.5h1M276.3 113.6h1M274.6 124.1h1M269.6 110.4h1M274.2 115.1h1" stroke="#e8300c" stroke-width="1" opacity="0.85"/>
<path d="M272.1 94.0h1M272.3 95.6h1M271.1 93.7h1M272.5 91.3h1M272.9 88.0h1M273.3 94.2h1M269.7 98.5h1M269.7 100.6h1" stroke="#e8300c" stroke-width="1" opacity="0.85"/>
<path d="M283.4 117.3h1M286.7 118.9h1M285.9 116.6h1M285.4 105.1h1M289.0 114.4h1M289.0 119.1h1M283.3 106.9h1M288.3 109.8h1M286.5 112.5h1M282.9 116.8h1M286.4 119.6h1M288.3 116.7h1M285.6 109.9h1M284.4 109.0h1M289.3 113.1h1M281.6 106.4h1M282.7 105.3h1M282.6 106.5h1M290.5 107.9h1M284.1 112.0h1M287.2 114.2h1M290.8 115.1h1M285.3 117.5h1M288.9 109.7h1M294.5 107.8h1" stroke="#6e6e6e" stroke-width="1" opacity="0.85"/>
<line x1="277.7" y1="95.8" x2="277.7" y2="147" stroke="#000" stroke-width="1.7"/>
<line x1="255.2" y1="124.5" x2="301.7" y2="124.5" stroke="#000" stroke-width="1.7"/>
<rect x="237.5" y="75.5" width="72.0" height="72.0" fill="none" stroke="#4a4a4a" stroke-width="1"/>
<g stroke="#777" stroke-width="0.7"><line x1="236.0" y1="145.5" x2="237.5" y2="145.5"/><line x1="241.5" y1="147.5" x2="241.5" y2="148.7"/><line x1="236.0" y1="131.9" x2="237.5" y2="131.9"/><line x1="254.3" y1="147.5" x2="254.3" y2="148.7"/><line x1="236.0" y1="118.3" x2="237.5" y2="118.3"/><line x1="267.1" y1="147.5" x2="267.1" y2="148.7"/><line x1="236.0" y1="104.7" x2="237.5" y2="104.7"/><line x1="279.9" y1="147.5" x2="279.9" y2="148.7"/><line x1="236.0" y1="91.1" x2="237.5" y2="91.1"/><line x1="292.7" y1="147.5" x2="292.7" y2="148.7"/><line x1="236.0" y1="77.5" x2="237.5" y2="77.5"/><line x1="305.5" y1="147.5" x2="305.5" y2="148.7"/></g>
<ellipse cx="346" cy="32" rx="12" ry="8" fill="#909090" opacity="0.3" filter="url(#b3)"/>
<path d="M348.8 38.0h1M345.9 32.6h1M346.0 34.5h1M346.8 30.6h1M350.6 19.3h1M347.0 28.7h1M360.6 32.2h1M339.8 34.4h1M342.0 23.5h1M342.8 33.5h1M354.5 36.8h1M346.9 29.6h1M346.6 37.7h1M344.0 37.4h1M338.7 30.4h1M351.2 34.7h1M346.6 27.5h1M330.8 27.9h1M338.3 28.1h1M357.6 25.9h1M351.8 30.4h1M336.3 31.2h1M351.0 23.5h1M335.9 28.3h1M350.8 27.0h1M348.4 33.2h1M345.1 33.2h1M355.1 29.4h1M347.6 24.2h1M339.3 29.9h1M351.5 26.5h1M334.1 36.0h1M363.8 15.2h1M336.7 31.2h1M348.9 24.9h1M347.7 37.0h1M342.9 34.8h1M346.0 25.0h1M340.2 26.9h1M355.5 37.4h1M346.9 21.2h1M341.2 28.1h1M329.9 30.4h1M347.3 22.7h1M341.7 27.8h1M359.6 34.4h1M351.1 31.0h1M335.0 36.0h1M339.7 19.1h1M350.8 28.5h1M345.0 33.6h1M343.2 32.9h1M355.2 28.6h1M342.3 30.6h1M350.1 28.1h1M345.7 26.5h1M344.4 33.7h1M338.6 29.4h1M333.6 26.4h1M345.6 33.7h1M337.0 29.9h1M337.8 32.4h1M347.1 33.1h1M343.4 22.1h1M340.6 22.6h1M339.7 30.2h1M353.5 26.7h1M339.0 31.7h1M328.9 42.3h1M333.0 36.5h1M352.7 36.2h1M344.2 34.8h1M342.3 36.2h1M339.9 25.7h1M348.0 27.8h1M350.3 25.4h1M347.1 24.7h1M344.2 43.2h1M336.6 23.2h1M332.5 29.2h1M357.7 27.8h1M352.3 29.4h1M340.1 42.4h1M353.4 19.6h1M337.4 32.9h1M350.1 29.2h1M347.5 33.7h1M342.3 36.4h1M338.4 35.0h1M352.1 31.7h1M342.3 30.4h1M334.0 18.6h1M351.0 25.1h1M347.8 30.8h1M331.3 25.2h1M342.9 33.3h1M345.6 23.0h1M340.9 31.1h1M335.1 27.9h1M340.8 18.0h1M358.4 35.7h1M341.4 36.1h1M336.9 39.5h1M342.1 31.3h1M340.5 31.1h1M347.6 30.7h1M338.6 35.0h1M349.3 30.5h1M353.2 26.2h1M354.9 29.6h1M356.8 27.9h1M343.1 31.8h1M353.5 39.0h1M341.5 26.2h1M350.9 37.8h1M350.5 28.6h1M354.9 30.4h1M346.3 34.2h1M340.6 17.1h1M346.7 34.7h1M348.4 33.7h1M346.3 36.7h1M345.9 39.3h1M345.4 35.2h1M340.7 32.3h1M348.3 31.3h1M357.0 30.8h1M353.7 32.6h1M353.5 25.2h1M342.2 36.2h1M338.7 32.8h1M349.4 31.7h1M348.4 33.7h1M343.2 32.9h1M341.0 27.8h1M332.7 29.9h1M331.9 30.7h1M346.6 24.1h1M345.6 32.2h1M342.3 25.1h1M344.2 32.9h1M352.2 41.9h1M329.7 32.5h1M348.4 26.7h1M347.5 42.9h1M345.9 38.6h1M353.3 27.9h1M356.9 20.1h1M343.5 26.4h1M346.6 30.9h1M353.9 27.0h1M359.9 20.4h1M346.7 46.4h1M344.3 34.2h1M341.4 50.0h1M351.9 28.4h1M330.2 31.8h1M350.7 18.4h1M341.2 33.8h1M332.7 22.6h1M348.2 37.2h1M354.0 26.6h1M348.9 20.0h1M333.6 33.7h1M341.9 24.5h1M330.5 29.1h1M362.3 18.6h1M336.9 37.2h1M330.2 26.8h1M345.5 37.2h1M344.4 41.3h1M344.8 29.8h1M348.4 32.6h1M333.4 24.9h1M343.2 32.5h1M335.5 26.3h1M339.2 32.5h1M341.7 34.1h1M348.0 25.1h1M342.7 23.1h1M345.8 35.3h1M337.4 20.0h1M349.0 28.8h1M344.8 33.2h1M347.9 36.0h1M341.5 17.4h1M341.2 28.7h1M341.8 32.8h1M343.1 38.2h1M340.1 30.5h1M342.2 43.1h1M337.6 24.6h1M342.0 35.0h1M345.1 29.5h1M333.6 18.1h1M343.3 29.1h1M358.7 32.7h1M348.3 36.3h1M338.0 23.2h1M342.1 39.3h1M352.7 27.0h1M335.3 36.0h1M353.5 24.0h1M357.5 25.9h1M350.8 29.3h1M342.4 26.9h1M350.4 34.2h1M351.3 28.8h1M338.4 43.3h1M358.4 29.4h1M336.1 39.4h1M346.0 30.8h1M351.7 32.6h1M345.9 42.4h1M330.2 34.3h1M337.3 30.9h1M343.7 32.1h1M363.2 28.0h1M352.1 34.2h1M347.3 27.5h1M350.0 32.1h1M356.3 35.5h1M339.4 13.1h1M356.8 33.4h1M346.4 26.9h1M364.7 38.5h1M345.8 28.3h1M349.5 38.6h1M349.1 36.1h1M347.1 32.6h1M335.0 31.2h1M345.4 30.1h1M343.1 32.3h1M340.5 29.3h1M334.7 44.3h1M338.0 23.3h1M340.8 28.0h1M336.5 15.9h1M357.9 36.6h1M342.0 33.8h1M336.2 20.8h1M347.6 33.9h1M339.6 30.5h1M353.3 31.5h1M346.4 34.0h1M328.5 22.8h1M335.0 31.9h1M340.0 19.2h1M352.0 29.4h1M352.9 42.5h1M331.9 22.9h1M353.5 38.9h1M348.1 32.7h1M350.5 34.4h1M334.9 35.0h1M352.8 28.1h1M337.8 27.6h1M340.3 33.7h1M351.1 30.6h1M342.6 19.9h1M341.6 24.5h1M340.6 32.6h1M346.3 51.4h1M338.1 27.3h1M335.9 29.0h1M342.7 36.5h1M329.5 35.9h1M350.1 27.4h1M339.6 31.7h1M349.1 29.6h1M343.8 30.6h1M336.4 32.1h1M349.6 30.8h1M335.9 30.5h1M344.1 32.4h1M341.7 35.5h1M353.6 35.4h1M346.8 37.8h1M344.7 29.5h1M333.6 30.6h1M354.6 24.8h1M351.2 23.0h1M347.4 41.4h1M345.3 23.6h1M347.3 29.6h1M351.3 27.4h1M331.2 27.7h1M349.7 36.6h1M347.2 30.7h1M350.4 29.3h1M341.4 31.8h1M353.7 27.5h1M348.9 26.7h1M339.1 31.5h1M334.4 25.5h1M335.5 27.0h1M337.7 44.3h1M349.8 30.9h1M334.3 16.5h1M348.5 26.8h1M353.3 28.2h1M334.6 26.8h1M332.8 22.2h1M350.6 27.4h1M350.4 27.2h1M343.1 27.3h1M340.6 26.6h1M356.8 30.2h1M329.5 40.5h1M354.9 37.1h1M344.1 29.6h1M341.1 31.2h1M348.7 30.5h1M338.4 24.8h1M358.2 40.4h1M335.1 26.8h1M344.6 34.0h1M344.0 31.9h1M347.8 37.2h1M334.6 36.9h1M348.4 33.7h1M332.9 29.2h1M342.9 34.3h1M350.4 34.5h1M334.6 37.9h1M345.5 36.0h1M344.8 26.4h1M365.8 34.4h1M351.0 27.8h1M343.2 37.0h1M348.5 40.7h1M354.5 24.2h1M332.6 37.3h1M349.7 29.0h1M342.6 27.3h1M359.2 29.6h1M333.9 35.8h1M344.2 32.6h1M341.8 30.3h1M329.9 33.6h1M339.4 28.3h1M347.4 38.0h1M349.2 36.4h1M337.6 32.4h1M348.1 35.9h1M339.9 29.5h1M340.8 37.1h1M353.5 28.0h1M343.8 31.8h1M337.7 29.9h1M351.8 35.0h1M339.5 26.8h1M343.9 22.1h1M347.3 31.2h1M334.2 29.2h1M339.6 29.0h1M337.9 38.4h1M337.2 34.9h1M346.5 38.9h1M344.4 30.6h1M345.4 19.7h1M364.0 29.3h1M342.3 24.1h1M343.8 39.8h1M338.8 33.1h1M353.1 36.0h1M341.6 20.5h1M348.1 33.8h1M342.3 28.1h1M358.8 21.5h1M340.8 27.1h1M332.4 26.6h1M338.5 37.7h1M330.9 22.7h1" stroke="#666" stroke-width="1" opacity="0.8"/>
<path d="M348.2 37.8h1M335.0 43.3h1M344.4 56.9h1M340.0 50.0h1M352.2 51.2h1M352.4 47.0h1M350.2 64.8h1M342.9 49.4h1M344.4 57.0h1M335.0 53.0h1M340.6 66.2h1M330.3 58.8h1M343.0 45.5h1M347.1 50.4h1M346.2 54.9h1M356.6 48.8h1M360.8 27.0h1M362.2 64.2h1M359.9 54.5h1M348.4 43.0h1M357.8 41.6h1M338.7 52.6h1M347.9 55.9h1M335.4 49.4h1M350.2 63.9h1M352.7 56.6h1M343.5 47.5h1M341.2 51.7h1M350.6 47.8h1M364.3 43.2h1M353.2 50.7h1M344.6 49.0h1M359.6 49.8h1M350.8 53.8h1M352.6 58.2h1M360.7 45.7h1M338.5 68.7h1M357.3 53.3h1M343.3 55.0h1M357.5 45.4h1M358.9 52.1h1M342.6 48.9h1M334.0 47.4h1M337.8 54.9h1M352.3 53.0h1M347.5 56.5h1M360.2 58.1h1M359.9 52.1h1M349.0 46.5h1M351.2 44.6h1M350.1 46.7h1M342.7 64.2h1M347.1 60.1h1M343.7 35.0h1M359.0 50.9h1M340.0 61.6h1M335.7 45.6h1M356.1 46.1h1M356.0 49.8h1M343.9 53.3h1M341.4 62.8h1M355.7 53.3h1M351.3 57.8h1M360.9 37.7h1M355.0 61.3h1M343.0 52.8h1M342.7 64.3h1M335.6 58.4h1M357.3 58.1h1M341.5 48.3h1M355.7 43.7h1M331.1 50.3h1M332.5 57.0h1M338.0 61.6h1M344.8 39.3h1M338.9 46.6h1M338.3 64.3h1M336.8 56.1h1M340.6 58.2h1M333.0 37.9h1M350.4 66.1h1M333.4 49.7h1M341.3 43.9h1M354.5 53.1h1M333.4 50.6h1M357.8 46.0h1M341.2 44.9h1M347.3 47.4h1M353.8 44.8h1M332.8 56.9h1M348.4 55.0h1M340.7 48.5h1M338.6 51.0h1M341.8 57.9h1M345.9 57.9h1M360.5 50.1h1M343.3 56.2h1M364.7 49.3h1M361.0 63.8h1M337.0 56.4h1M357.8 53.2h1M337.8 68.2h1M341.3 29.8h1M338.4 48.2h1M345.5 59.8h1M352.0 57.6h1M339.1 69.5h1M356.6 53.0h1M340.7 52.2h1M343.9 46.1h1M345.8 46.4h1M351.6 46.5h1M350.3 55.7h1M347.4 57.6h1M339.6 59.6h1M346.1 48.6h1M361.5 63.1h1M343.4 58.0h1M352.0 67.6h1M355.0 51.1h1M343.6 41.7h1M348.2 60.8h1M342.4 58.9h1M347.1 48.3h1M334.9 63.2h1M368.7 57.8h1M336.2 42.9h1M348.2 58.8h1M359.5 29.8h1M362.5 54.2h1M347.1 56.3h1M342.7 49.9h1M355.4 36.3h1M344.9 57.9h1M331.1 51.1h1M359.7 56.2h1M352.3 59.3h1M347.9 56.0h1M338.6 50.7h1M362.5 41.0h1M344.4 40.7h1M341.1 45.3h1M334.9 54.9h1M337.4 57.7h1M362.2 28.4h1M344.4 32.8h1M344.8 56.2h1M347.8 64.1h1M347.3 36.3h1M359.5 43.7h1M345.1 55.7h1M338.0 53.5h1M359.4 36.6h1M330.9 48.4h1M344.4 40.5h1M349.4 40.1h1M351.1 52.0h1M347.4 40.0h1M344.0 57.2h1M330.2 42.7h1M351.9 52.0h1M336.2 48.8h1M343.7 56.8h1M357.9 31.7h1M335.4 52.6h1M354.8 56.5h1M358.1 58.3h1M369.0 60.2h1M350.1 67.2h1M341.9 47.4h1M336.8 55.0h1M349.9 61.6h1M359.0 58.6h1M357.1 50.2h1M337.3 59.6h1M355.1 65.4h1M344.5 48.1h1M342.7 56.1h1M345.5 50.9h1M348.3 49.8h1M349.0 46.9h1M332.0 49.6h1M363.0 44.9h1M354.2 65.5h1M341.1 55.1h1M359.8 54.4h1M339.3 53.7h1M348.6 48.6h1M343.2 44.8h1M351.1 54.5h1M349.1 47.8h1M350.4 49.7h1M348.7 51.1h1M340.0 42.1h1M329.2 39.5h1M331.2 44.8h1M344.1 41.4h1M357.2 41.4h1M345.0 46.5h1M352.9 38.6h1M348.8 54.7h1M351.1 56.7h1M347.4 35.5h1M343.1 43.5h1M350.8 50.3h1M347.4 63.2h1M345.0 68.8h1M353.5 38.3h1M340.7 64.3h1M341.5 64.1h1M340.9 51.4h1M355.3 37.4h1M346.7 48.2h1M347.5 69.0h1M350.4 39.5h1M354.7 48.2h1M347.5 63.7h1M343.2 61.8h1M347.6 43.8h1M343.2 39.5h1M356.7 54.1h1M354.7 41.8h1M353.6 41.0h1M348.5 52.4h1M340.7 55.5h1M346.3 44.2h1M339.3 39.9h1M358.4 54.0h1M342.7 59.2h1M338.2 41.3h1M349.2 67.8h1M348.7 54.0h1M361.7 37.6h1M373.6 41.9h1M345.3 39.5h1M335.1 50.2h1M368.0 43.4h1M340.4 55.1h1M336.8 50.0h1M353.4 31.4h1M343.3 49.7h1M341.4 51.4h1M329.8 48.3h1M341.3 42.6h1M353.2 44.1h1M358.8 57.3h1M338.6 58.4h1M340.8 58.1h1M354.3 63.7h1M336.5 51.3h1M346.0 40.7h1M349.7 59.2h1M333.6 47.2h1M336.0 40.2h1M336.4 65.8h1M340.0 48.7h1M354.9 62.4h1M358.7 32.4h1M352.8 35.5h1M340.3 48.5h1M344.5 63.9h1M344.4 51.9h1M350.6 56.8h1M350.5 35.7h1M350.6 55.6h1M351.4 52.0h1M349.7 39.9h1M356.2 40.7h1M358.6 62.3h1M345.4 49.6h1M353.0 49.5h1M335.3 55.2h1M335.0 48.1h1M362.2 60.4h1M341.9 51.8h1M340.2 52.4h1M333.0 59.1h1M346.1 46.6h1M342.0 47.9h1M340.8 47.7h1M357.8 59.1h1M349.8 56.1h1M335.8 29.0h1M359.6 59.5h1M348.0 55.2h1M347.8 52.7h1M343.6 30.8h1M351.1 53.0h1M354.8 55.5h1M343.4 58.4h1M347.7 48.2h1M342.6 48.4h1M343.3 48.2h1M345.0 63.4h1M341.7 51.0h1M339.3 39.3h1M338.3 47.5h1M347.4 49.2h1M335.2 48.9h1M359.6 43.9h1M346.6 62.3h1M338.8 47.0h1M372.1 64.5h1M341.3 54.1h1M346.9 53.9h1M350.2 49.6h1M347.4 39.2h1M343.1 67.1h1M348.1 46.1h1M347.2 62.7h1M330.6 40.3h1M340.0 48.2h1M345.2 46.9h1M347.0 53.4h1M335.5 46.4h1M334.8 55.3h1M348.4 58.9h1M338.1 47.3h1M331.5 55.9h1M355.7 56.8h1M351.6 54.7h1M349.3 61.6h1M343.6 60.6h1M353.8 56.6h1M348.4 40.2h1M355.8 43.9h1M340.1 44.2h1M351.0 43.1h1M350.1 58.0h1M346.9 49.2h1M351.4 65.2h1M341.8 42.3h1" stroke="#666" stroke-width="1" opacity="0.8"/>
<path d="M364.6 32.8h1M367.9 39.1h1M349.3 53.3h1M362.7 36.8h1M352.4 23.3h1M360.9 42.5h1M377.6 24.7h1M372.0 53.7h1M367.5 48.5h1M372.8 32.4h1M378.9 35.2h1M373.2 37.0h1M368.1 41.8h1M381.9 25.8h1M360.0 41.4h1M378.7 38.9h1M368.3 45.1h1M384.1 32.6h1M355.7 38.0h1M376.9 29.0h1M380.1 48.7h1M377.1 33.1h1M358.4 46.2h1M372.3 46.5h1M357.9 14.7h1M380.1 49.2h1M367.5 40.4h1M374.1 47.0h1M368.3 36.0h1M361.2 49.4h1M370.9 10.8h1M373.1 35.5h1M358.6 36.0h1M358.5 36.6h1M365.1 45.0h1M360.9 24.6h1M364.6 28.5h1M376.6 38.7h1M355.0 32.9h1M369.7 40.1h1M353.5 39.4h1M372.6 49.1h1M379.8 39.4h1M358.3 37.2h1M375.8 32.5h1M381.3 32.1h1M359.9 47.7h1M369.1 43.3h1M367.3 40.8h1M364.7 57.0h1M375.9 39.4h1M374.2 47.8h1M365.3 42.0h1M371.8 35.6h1M363.0 38.7h1M367.3 36.9h1M352.5 41.2h1M375.9 41.1h1M385.4 48.0h1M366.8 34.6h1M374.5 37.2h1M355.5 41.5h1M367.3 38.5h1M375.5 42.2h1M388.2 34.0h1M369.1 43.2h1M366.0 36.0h1M385.7 27.8h1M373.1 25.2h1M373.0 23.8h1M359.5 50.4h1M383.8 41.6h1M345.6 49.3h1M372.2 30.9h1M366.8 29.0h1M369.2 39.7h1M371.1 47.4h1M364.2 21.3h1M359.5 29.5h1M366.7 36.7h1M369.6 52.4h1M370.2 31.1h1M367.2 32.9h1M367.8 45.5h1M359.8 46.6h1M386.0 53.7h1M384.6 41.3h1M357.9 57.9h1M369.5 42.5h1M366.8 32.3h1M375.5 28.4h1M357.7 45.3h1M366.6 33.2h1M374.4 52.8h1M367.4 39.3h1M375.0 48.6h1M379.3 46.4h1M364.0 45.1h1M370.1 25.8h1M381.1 45.5h1M382.3 39.9h1M376.5 39.9h1M371.5 48.4h1M370.5 45.8h1M369.7 51.1h1M375.8 26.2h1M384.9 44.3h1M365.4 35.1h1M387.8 41.3h1M374.6 45.7h1M364.6 55.6h1M388.8 33.8h1M380.2 26.4h1M367.0 41.0h1M370.5 45.4h1M373.6 43.7h1M368.8 43.1h1M365.0 57.5h1M370.6 51.2h1M370.9 39.2h1M368.4 29.4h1M388.6 44.1h1M371.2 36.5h1M381.5 37.7h1M365.9 35.8h1M383.8 43.2h1M368.7 35.0h1M381.5 43.0h1M367.1 48.2h1M377.9 31.9h1M380.3 49.9h1M367.9 29.0h1M379.8 37.6h1M368.2 38.0h1M367.6 47.7h1M360.3 45.1h1M380.4 49.6h1M376.5 42.8h1M368.3 39.5h1M362.2 54.9h1M369.0 31.8h1M377.5 53.5h1M372.5 37.8h1M360.1 46.1h1M367.9 34.8h1M375.4 29.4h1M376.6 19.6h1M364.6 28.2h1M367.9 47.4h1M358.5 52.2h1" stroke="#666" stroke-width="1" opacity="0.75"/>
<rect x="338.5" y="47" width="16" height="15" rx="4" fill="#e8300c" opacity="0.8" filter="url(#b1)"/>
<path d="M343.3 52.9h1M351.2 51.8h1M353.4 54.1h1M346.1 50.8h1M352.0 54.7h1M344.2 50.9h1M343.5 54.6h1M343.1 58.5h1M346.4 52.3h1M348.7 61.3h1M336.7 56.6h1M351.7 55.6h1M350.4 48.3h1M343.0 59.4h1M346.1 55.3h1M349.5 56.6h1M348.7 52.8h1M345.1 60.7h1M344.2 48.7h1M344.9 58.9h1M355.0 55.7h1M343.6 57.7h1M348.0 60.2h1M349.0 58.3h1M349.0 56.8h1M342.3 54.3h1M354.1 60.8h1M351.1 56.7h1M346.1 56.5h1M345.0 59.8h1M345.1 51.7h1M339.0 61.8h1M343.0 51.3h1M348.5 62.8h1M349.7 53.6h1M349.2 51.4h1M345.4 55.1h1M346.7 58.4h1M349.1 63.2h1M350.5 53.8h1M347.8 51.3h1M343.7 53.5h1M351.4 52.0h1M339.3 50.6h1M341.0 54.2h1M345.2 49.9h1M342.9 53.2h1M348.5 57.7h1M352.8 53.9h1M349.6 55.3h1M341.5 52.3h1M356.9 54.3h1M354.3 58.6h1M354.4 54.2h1M351.0 53.7h1M341.5 49.9h1M348.7 48.0h1M348.4 51.2h1M348.3 49.0h1M350.6 54.0h1M339.5 48.8h1M347.0 47.9h1M348.2 57.1h1M343.6 61.1h1M353.4 56.4h1M348.8 57.1h1M345.5 60.7h1M344.2 44.1h1M346.8 56.9h1M350.5 50.2h1M353.1 51.4h1M349.6 58.2h1M347.5 59.9h1M344.4 63.9h1M349.0 53.2h1M358.8 55.0h1M339.2 61.2h1M353.9 52.5h1M342.1 59.9h1M347.0 50.8h1M344.5 55.3h1M351.3 61.8h1M343.8 61.7h1M339.7 58.1h1M346.0 56.9h1M344.7 51.9h1M348.0 59.9h1M336.4 55.2h1M344.8 50.4h1M340.4 57.3h1M349.3 57.8h1M337.5 48.4h1M343.8 53.1h1M354.9 53.3h1M347.3 59.3h1M354.5 56.6h1M348.3 63.4h1M344.8 47.2h1M343.2 53.6h1M352.8 56.4h1M352.3 55.5h1M346.9 52.5h1M341.0 57.2h1M348.4 57.5h1M344.2 53.2h1M348.5 57.7h1M355.9 51.2h1M351.3 58.9h1M345.5 55.6h1M346.4 61.7h1M358.5 56.4h1M345.5 59.1h1M349.0 54.2h1M350.2 58.8h1M344.9 58.7h1M336.3 49.4h1M345.3 55.7h1M339.9 61.4h1M344.9 55.7h1M346.5 58.3h1M344.0 58.2h1M342.9 48.6h1M349.1 55.7h1M350.8 46.6h1M347.2 52.2h1M345.8 53.3h1M345.0 52.1h1M351.4 47.5h1M338.9 56.5h1M356.0 51.7h1M342.5 49.9h1M342.0 60.5h1M349.9 58.9h1M348.3 56.0h1M344.0 50.8h1M349.6 65.8h1M345.0 60.5h1M343.4 55.2h1M354.6 54.7h1M349.7 52.6h1M355.4 49.6h1M349.3 54.0h1M347.6 56.6h1M352.8 58.8h1M351.6 56.6h1M341.7 60.9h1M353.8 57.1h1M350.4 54.0h1M340.0 59.3h1M343.3 63.4h1M349.9 54.9h1M343.8 55.5h1M342.0 53.4h1M354.1 53.7h1M355.2 54.6h1M348.6 51.0h1M345.3 53.1h1M340.2 63.5h1M349.4 54.6h1M341.6 55.2h1M341.8 50.8h1M345.8 64.4h1M338.6 57.5h1M344.2 42.3h1M340.1 54.4h1M347.0 51.7h1M354.9 57.4h1M343.8 47.8h1M347.5 52.1h1M351.4 50.4h1M352.2 53.0h1M347.6 53.8h1M349.6 60.0h1M344.2 51.1h1M355.5 59.2h1M355.6 59.2h1M347.3 62.2h1M343.6 53.1h1M344.8 58.0h1M342.7 54.2h1M342.7 54.0h1M351.9 59.9h1M345.6 66.2h1M343.4 57.0h1M344.4 45.3h1M341.1 60.4h1M339.0 67.8h1M346.1 56.2h1M352.5 55.1h1M343.7 52.3h1M342.3 57.4h1M344.5 57.3h1M339.7 53.1h1M356.3 56.6h1M346.2 60.2h1M347.9 61.7h1M341.2 58.4h1M341.7 58.0h1M358.1 61.7h1M342.7 56.9h1M348.8 51.8h1M347.8 50.3h1M351.2 59.0h1M345.9 58.0h1M357.8 54.3h1M337.9 56.5h1M344.5 51.6h1M350.9 59.4h1M349.4 62.2h1M343.7 53.2h1M348.6 43.1h1M333.9 56.5h1M345.6 55.3h1M342.2 56.0h1M351.6 52.2h1M349.3 54.3h1M345.9 55.5h1M353.7 57.3h1M349.8 55.7h1M336.6 59.2h1M346.5 55.4h1M344.3 48.2h1M353.6 63.1h1M354.0 46.9h1M349.2 49.8h1M345.8 52.7h1M343.7 51.6h1M344.4 58.4h1M354.1 59.1h1M346.6 54.4h1M345.5 54.9h1M343.7 54.2h1M350.6 54.0h1M342.8 54.5h1M347.0 54.7h1M345.4 58.1h1M346.4 50.6h1M349.3 51.9h1M350.2 58.6h1M348.9 56.4h1M340.3 54.1h1M347.2 57.8h1M341.3 54.3h1M339.4 55.8h1M347.0 55.5h1M354.3 58.2h1M345.7 52.5h1M344.5 58.5h1M350.9 52.8h1M346.0 53.1h1M349.8 55.8h1M343.2 51.1h1M352.7 48.8h1M338.1 41.5h1M356.1 52.6h1M350.6 57.5h1M350.5 60.0h1M344.4 54.9h1M351.2 57.5h1M343.0 51.7h1M339.8 56.2h1M344.1 48.2h1M344.0 56.4h1M347.4 54.0h1M347.4 57.9h1M340.9 51.4h1M351.2 58.2h1M340.0 51.8h1M353.4 58.3h1M345.9 59.5h1M353.0 61.2h1M340.0 49.3h1M344.2 54.8h1M344.9 56.1h1M353.6 59.8h1M351.3 55.0h1M354.4 57.0h1M347.7 54.9h1M337.9 64.5h1M346.5 59.0h1M357.3 54.2h1M341.1 59.5h1M347.7 50.9h1M351.1 55.1h1M342.1 43.9h1M341.9 56.7h1M341.7 59.3h1M357.0 56.4h1M347.7 54.7h1M350.7 55.2h1M351.5 61.3h1M350.6 50.8h1M349.7 53.9h1M348.1 59.3h1M343.5 55.9h1M353.5 51.4h1M345.7 58.2h1M345.5 59.5h1M341.8 48.4h1M348.4 54.4h1M348.1 59.2h1M351.6 53.5h1M344.8 46.5h1M342.0 56.1h1M347.6 48.5h1M350.3 54.8h1M351.8 53.5h1M351.2 50.2h1M337.8 51.5h1M349.9 56.8h1M337.6 55.7h1M349.8 62.4h1M350.3 57.2h1M339.1 56.6h1M337.3 53.7h1M344.8 50.8h1M341.8 54.4h1M349.3 52.2h1M348.0 58.1h1M346.5 63.4h1M345.1 51.8h1M337.6 59.7h1M349.8 54.2h1M348.1 54.4h1M350.7 55.0h1M347.7 54.7h1M342.4 45.3h1M349.2 49.6h1M348.5 57.8h1M355.5 51.8h1M347.3 59.2h1M343.4 52.4h1M348.7 64.0h1M351.7 59.2h1M342.0 57.9h1M352.0 49.5h1M346.6 54.2h1M349.6 47.4h1M349.9 55.0h1M345.3 45.8h1M336.7 52.6h1M349.7 56.9h1M350.1 47.6h1M347.5 60.9h1M339.2 57.9h1M343.1 57.4h1M347.1 47.9h1M341.6 60.6h1M346.1 60.4h1M348.2 58.9h1M344.7 56.0h1M344.8 59.0h1M343.8 59.8h1M354.0 49.7h1M345.8 57.4h1M355.0 60.0h1M347.0 47.5h1M350.6 52.5h1M347.5 56.8h1M339.9 59.6h1M350.9 57.5h1M349.4 56.6h1M339.9 52.8h1M350.4 53.6h1M346.7 56.6h1M347.0 56.1h1M348.9 55.0h1M341.3 53.8h1M351.1 52.1h1M348.8 56.3h1M342.4 42.7h1M346.5 51.6h1M343.6 59.1h1M342.9 56.5h1M347.1 55.9h1M356.0 46.4h1M351.1 54.4h1M345.2 52.1h1M346.8 55.2h1M342.2 62.1h1M343.0 54.4h1M340.6 55.7h1M348.3 59.7h1M351.2 52.8h1M354.2 54.5h1M353.9 62.4h1M344.7 50.3h1M349.1 61.3h1M348.5 59.8h1M349.4 58.9h1M352.8 53.7h1M339.9 54.5h1M342.8 49.8h1M345.8 58.1h1M337.8 48.4h1M350.4 51.2h1M344.7 60.9h1M351.9 56.6h1M349.1 43.2h1M349.2 56.7h1M340.0 55.8h1M348.7 54.5h1M350.3 58.8h1M346.8 53.9h1M341.0 59.9h1M343.9 56.4h1M353.8 58.4h1M340.5 54.6h1M343.2 47.9h1M342.8 57.5h1M348.2 54.1h1M347.4 50.0h1M342.9 54.3h1M350.3 53.6h1M345.8 56.5h1M353.5 49.5h1M349.1 55.8h1M346.2 56.1h1M337.2 55.1h1M345.4 49.7h1M350.6 54.5h1M344.9 58.3h1M342.2 51.9h1M350.5 58.8h1M356.1 53.0h1M339.7 48.6h1M340.9 55.5h1M345.4 52.1h1M341.8 52.0h1M344.8 60.2h1M349.5 60.9h1M350.4 58.3h1M352.1 57.0h1M353.8 59.9h1M355.1 55.9h1M342.9 65.9h1M345.2 57.3h1M344.8 52.0h1M348.6 50.2h1M345.8 61.1h1M347.1 58.6h1M349.6 56.7h1M347.1 57.7h1M342.0 57.5h1M341.5 51.7h1M343.8 49.2h1M337.2 56.7h1M348.9 57.9h1M357.0 55.8h1M350.1 51.8h1M349.9 50.1h1M355.9 50.8h1M344.6 58.2h1M336.1 60.8h1M342.0 55.9h1M351.2 55.7h1M351.0 52.8h1M349.3 45.6h1M353.7 52.1h1M342.4 55.1h1M354.6 52.0h1M346.4 53.4h1M342.1 49.3h1M349.3 58.1h1M343.0 56.0h1M348.7 56.6h1M345.7 55.2h1M347.8 50.4h1M345.8 58.4h1M343.9 60.7h1M345.4 50.2h1M345.1 49.1h1M349.4 48.1h1M346.6 54.0h1M345.1 56.8h1M347.9 52.6h1M350.4 53.1h1M350.8 60.8h1M348.3 59.0h1M340.2 57.4h1M339.5 54.2h1M349.8 43.4h1M342.8 51.7h1M342.1 55.1h1M349.5 50.0h1M343.6 47.0h1M343.2 45.9h1M339.4 57.0h1M350.7 51.5h1M348.2 51.6h1M351.6 62.6h1M334.9 51.3h1M343.5 52.9h1M353.9 61.8h1M346.4 57.8h1M339.0 53.7h1M345.2 54.4h1M347.9 48.2h1M341.6 64.3h1M338.3 55.3h1M350.0 57.1h1M346.8 48.0h1M344.3 48.3h1M355.8 56.6h1M350.0 55.9h1M344.7 60.1h1M350.7 57.8h1M349.3 58.2h1M345.2 56.9h1M346.9 53.9h1M349.6 64.3h1M336.9 61.2h1M344.4 60.2h1M341.7 54.2h1M351.4 54.7h1M348.2 49.8h1M341.1 62.2h1M347.3 54.6h1M340.0 50.5h1M341.6 54.8h1" stroke="#e8300c" stroke-width="1" opacity="0.85"/>
<line x1="360.9" y1="14.9" x2="360.9" y2="69.7" stroke="#000" stroke-width="1.7"/>
<line x1="332.4" y1="41.3" x2="386.9" y2="41.3" stroke="#000" stroke-width="1.7"/>
<rect x="327.5" y="0.5" width="72.0" height="72.0" fill="none" stroke="#4a4a4a" stroke-width="1"/>
<g stroke="#777" stroke-width="0.7"><line x1="326.0" y1="70.5" x2="327.5" y2="70.5"/><line x1="331.5" y1="72.5" x2="331.5" y2="73.7"/><line x1="326.0" y1="56.9" x2="327.5" y2="56.9"/><line x1="344.3" y1="72.5" x2="344.3" y2="73.7"/><line x1="326.0" y1="43.3" x2="327.5" y2="43.3"/><line x1="357.1" y1="72.5" x2="357.1" y2="73.7"/><line x1="326.0" y1="29.7" x2="327.5" y2="29.7"/><line x1="369.9" y1="72.5" x2="369.9" y2="73.7"/><line x1="326.0" y1="16.1" x2="327.5" y2="16.1"/><line x1="382.7" y1="72.5" x2="382.7" y2="73.7"/><line x1="326.0" y1="2.5" x2="327.5" y2="2.5"/><line x1="395.5" y1="72.5" x2="395.5" y2="73.7"/></g>
<ellipse cx="348" cy="139" rx="13" ry="5" fill="#aaa" opacity="0.35" filter="url(#b3)"/>
<path d="M355.5 106.9h0.9M348.4 112.3h0.9M372.0 100.9h0.9M338.8 120.0h0.9M338.7 108.4h0.9M358.5 125.2h0.9M330.9 89.6h0.9M356.0 119.5h0.9M358.8 105.4h0.9M359.4 95.9h0.9M367.6 122.6h0.9M354.4 117.6h0.9M343.5 122.6h0.9M348.7 105.4h0.9M347.2 98.1h0.9M365.6 126.5h0.9M338.7 110.0h0.9M362.8 107.2h0.9M337.0 114.0h0.9M369.9 112.2h0.9M343.3 109.2h0.9M332.3 111.0h0.9M372.6 119.8h0.9M355.9 114.7h0.9M350.4 112.4h0.9M349.4 112.7h0.9M350.4 112.9h0.9M365.9 111.3h0.9M340.4 115.2h0.9M353.9 107.7h0.9M364.2 105.1h0.9M369.0 115.7h0.9M348.1 106.2h0.9M355.5 104.6h0.9M369.2 94.4h0.9M358.9 108.8h0.9M343.0 116.2h0.9M350.8 114.9h0.9M351.4 109.3h0.9M363.7 118.7h0.9M369.8 111.3h0.9M376.0 108.9h0.9M339.6 97.3h0.9M338.5 104.9h0.9M334.2 113.9h0.9M357.4 111.2h0.9M360.0 110.6h0.9M353.8 109.1h0.9M357.5 102.9h0.9M373.4 123.1h0.9M357.4 128.7h0.9M344.6 118.3h0.9M336.3 116.0h0.9M347.5 119.1h0.9M358.5 118.6h0.9M364.8 115.4h0.9M353.5 123.5h0.9M361.6 115.1h0.9M375.4 109.5h0.9M379.3 119.7h0.9M358.0 100.5h0.9M372.6 109.1h0.9M358.3 112.4h0.9M369.2 116.2h0.9M333.7 106.5h0.9M361.5 112.8h0.9M367.2 115.7h0.9M377.8 106.0h0.9M373.7 114.4h0.9M360.9 116.6h0.9M352.7 116.9h0.9M354.4 116.9h0.9M347.3 120.3h0.9M337.6 106.5h0.9M356.4 113.3h0.9M346.9 108.4h0.9M360.3 119.4h0.9M373.6 107.9h0.9M356.2 109.1h0.9M337.6 108.1h0.9M371.5 101.3h0.9M393.6 118.9h0.9M379.2 112.9h0.9M377.4 107.1h0.9M373.3 117.2h0.9M367.1 117.1h0.9M364.5 116.4h0.9M372.3 114.7h0.9M365.1 114.7h0.9M358.9 104.9h0.9M334.1 103.8h0.9M341.2 100.3h0.9M365.9 109.0h0.9M373.3 135.1h0.9M367.0 108.0h0.9M361.9 109.9h0.9M360.7 127.3h0.9M377.5 121.1h0.9M360.8 125.0h0.9M367.7 118.2h0.9M342.2 106.8h0.9M359.3 109.8h0.9M350.4 96.3h0.9M347.6 110.7h0.9M361.0 103.3h0.9M355.4 125.2h0.9M359.1 96.6h0.9M354.7 111.5h0.9M373.3 113.0h0.9M374.6 114.0h0.9M372.1 121.7h0.9M376.7 113.0h0.9M365.3 141.2h0.9M341.5 113.0h0.9M363.2 106.1h0.9M367.7 110.3h0.9M367.2 112.9h0.9M345.2 119.4h0.9M382.8 118.5h0.9M360.7 98.4h0.9M361.3 111.3h0.9M347.0 96.9h0.9M362.8 118.9h0.9M366.2 128.8h0.9M332.9 114.2h0.9M356.8 122.3h0.9M356.7 104.1h0.9M356.4 114.8h0.9M347.8 105.5h0.9M360.5 118.1h0.9M354.2 115.2h0.9M350.7 108.9h0.9M359.6 118.9h0.9M377.4 110.5h0.9M362.9 126.5h0.9M367.8 108.8h0.9M362.4 100.7h0.9M330.4 105.7h0.9M348.0 101.3h0.9M370.2 108.0h0.9M358.3 112.0h0.9M354.5 102.6h0.9M381.8 96.4h0.9M356.7 116.8h0.9M354.6 110.7h0.9M361.1 113.3h0.9M352.9 119.7h0.9M363.6 123.0h0.9M358.4 96.3h0.9M336.1 107.6h0.9M363.0 99.1h0.9M350.0 121.0h0.9M361.4 106.1h0.9M355.8 112.4h0.9M351.8 109.1h0.9M349.1 113.2h0.9M377.3 122.6h0.9M341.4 129.2h0.9M355.7 100.8h0.9M338.3 112.6h0.9M360.1 106.6h0.9M347.0 109.9h0.9M360.5 116.6h0.9M364.3 93.4h0.9M349.7 113.5h0.9M361.9 117.6h0.9M338.3 123.4h0.9M342.1 110.0h0.9M351.3 107.9h0.9M347.4 117.7h0.9M367.2 114.2h0.9M341.1 106.7h0.9M356.5 114.5h0.9M350.2 109.5h0.9M390.4 112.0h0.9M353.4 92.8h0.9M347.7 123.9h0.9M367.9 102.4h0.9M367.2 112.8h0.9M347.2 117.6h0.9M349.5 109.2h0.9M357.5 113.1h0.9M351.7 113.8h0.9M357.3 113.0h0.9M362.1 106.6h0.9M339.9 110.9h0.9M372.8 114.0h0.9M360.1 105.9h0.9M342.8 102.0h0.9M345.6 108.7h0.9M337.8 110.6h0.9M337.4 116.5h0.9M356.9 98.1h0.9M350.3 113.3h0.9M362.0 117.4h0.9M352.8 110.4h0.9M354.3 115.6h0.9M348.5 110.3h0.9M359.1 108.9h0.9M343.6 121.8h0.9M363.5 104.6h0.9M382.0 105.7h0.9M346.2 108.7h0.9M364.0 122.9h0.9M374.5 115.7h0.9M358.1 116.6h0.9M347.3 106.2h0.9M363.9 113.0h0.9M360.2 103.8h0.9M360.4 100.5h0.9M368.9 111.6h0.9M349.1 107.9h0.9M392.2 135.3h0.9M348.4 121.9h0.9M357.5 113.5h0.9M345.2 101.5h0.9M360.2 108.1h0.9M363.6 119.6h0.9M355.8 115.6h0.9M359.4 113.3h0.9M350.7 113.3h0.9M362.7 112.1h0.9M351.5 100.4h0.9M343.8 123.4h0.9M370.0 113.8h0.9M360.9 110.4h0.9M365.8 118.8h0.9M354.1 113.9h0.9M369.3 99.5h0.9M345.4 107.2h0.9M342.7 108.2h0.9M346.6 108.5h0.9M363.3 102.6h0.9M358.5 122.0h0.9M359.7 102.2h0.9M349.7 120.4h0.9M354.0 106.7h0.9M367.1 106.1h0.9M343.3 116.2h0.9M357.5 106.6h0.9M363.1 119.9h0.9M370.8 112.3h0.9M363.0 115.3h0.9M338.7 124.2h0.9M349.0 107.3h0.9M346.9 104.2h0.9M371.0 111.6h0.9M350.0 97.6h0.9M359.3 111.1h0.9M344.3 110.8h0.9M334.4 116.5h0.9M342.0 115.3h0.9M358.5 95.3h0.9M343.2 106.5h0.9M367.2 116.1h0.9M365.2 124.3h0.9M353.7 107.6h0.9M333.8 103.7h0.9M364.3 105.1h0.9M346.3 118.8h0.9M373.4 97.9h0.9M363.1 111.4h0.9M368.6 108.9h0.9M355.8 122.3h0.9M349.8 114.7h0.9M365.2 110.7h0.9M368.2 115.5h0.9M367.6 98.6h0.9M344.3 113.8h0.9M371.9 122.4h0.9M357.4 105.8h0.9M343.6 96.7h0.9M351.0 115.9h0.9M356.4 100.3h0.9M356.0 111.9h0.9M347.9 122.6h0.9M362.7 119.9h0.9M358.5 104.1h0.9M370.8 120.0h0.9M350.0 101.4h0.9M367.5 107.2h0.9M342.8 110.9h0.9M364.2 105.8h0.9M357.7 119.1h0.9M366.6 99.7h0.9M366.2 125.1h0.9M368.7 110.9h0.9M361.9 99.5h0.9M350.0 107.6h0.9M383.2 111.5h0.9M345.1 124.4h0.9M372.6 98.9h0.9M354.8 98.6h0.9M370.2 94.2h0.9M380.4 103.5h0.9M344.3 127.7h0.9M364.0 114.2h0.9M368.0 104.0h0.9M368.2 109.4h0.9M363.8 113.3h0.9M374.5 101.7h0.9M339.9 116.5h0.9M386.8 115.7h0.9M355.2 116.7h0.9M342.2 112.2h0.9M336.4 112.4h0.9M366.3 124.5h0.9M351.0 118.6h0.9M374.0 103.5h0.9M353.9 97.4h0.9M346.4 114.9h0.9M332.0 109.3h0.9M366.3 122.5h0.9M349.6 93.9h0.9M344.6 116.1h0.9M357.0 116.9h0.9M353.5 116.6h0.9M345.1 104.1h0.9M355.3 98.2h0.9M372.6 109.6h0.9M345.1 104.9h0.9M345.3 112.5h0.9M352.7 118.1h0.9M342.9 111.0h0.9M338.5 108.0h0.9M374.1 110.6h0.9M368.3 111.1h0.9M343.7 104.8h0.9M343.3 114.1h0.9M360.2 134.0h0.9M378.0 118.0h0.9M345.1 112.4h0.9M346.0 129.5h0.9M348.3 120.5h0.9M340.5 117.4h0.9M342.0 108.0h0.9M359.4 112.6h0.9M356.5 111.0h0.9M346.6 110.7h0.9M356.4 104.4h0.9M364.3 112.9h0.9M347.9 121.5h0.9M350.1 96.9h0.9M372.9 108.6h0.9M375.4 114.9h0.9M346.2 120.1h0.9M363.0 118.6h0.9M357.7 123.5h0.9M368.8 109.0h0.9M338.5 111.2h0.9M358.1 103.9h0.9M354.8 123.0h0.9M351.4 120.2h0.9M345.6 104.1h0.9M368.9 110.2h0.9M359.9 119.4h0.9M377.5 102.0h0.9M364.5 113.3h0.9M359.0 125.3h0.9M354.2 107.0h0.9M363.5 95.9h0.9M361.8 104.7h0.9M361.3 105.8h0.9M363.5 109.6h0.9M348.3 115.7h0.9M366.5 99.2h0.9M341.2 109.5h0.9M352.5 121.7h0.9M376.9 115.2h0.9M370.8 109.0h0.9M340.2 113.8h0.9M335.3 124.1h0.9M360.4 120.5h0.9M349.2 99.1h0.9M354.7 115.3h0.9M354.5 107.6h0.9" stroke="#5a5a5a" stroke-width="0.9" opacity="0.75"/>
<ellipse cx="345" cy="130" rx="8" ry="5.5" fill="#e8300c" opacity="0.4" filter="url(#b2)"/>
<path d="M345.5 129.7h1M353.1 124.7h1M332.4 130.1h1M346.6 123.7h1M344.8 132.5h1M347.0 131.9h1M340.8 124.1h1M350.6 129.0h1M337.2 137.4h1M349.3 118.1h1M359.9 131.2h1M335.8 134.8h1M347.0 136.0h1M345.1 123.2h1M344.1 128.6h1M346.7 129.7h1M348.3 125.1h1M341.9 128.2h1M347.4 123.0h1M345.1 141.1h1M334.7 135.1h1M345.6 134.9h1M345.4 131.7h1M347.2 132.6h1M338.2 129.9h1M355.5 136.8h1M340.2 126.3h1M344.1 135.2h1M350.3 127.9h1M331.4 130.3h1M335.5 135.8h1M353.6 133.5h1M348.5 133.0h1M355.6 135.4h1M353.4 125.4h1M342.1 130.5h1M332.3 129.3h1M344.9 130.2h1M359.6 129.6h1M343.9 130.0h1M343.1 124.2h1M351.5 130.6h1M347.1 130.7h1M340.6 123.4h1M343.4 132.9h1M344.4 133.8h1M340.5 129.2h1M345.9 130.1h1M346.1 136.9h1M342.6 131.1h1M341.3 132.9h1M346.3 127.3h1M339.2 125.2h1M343.4 131.2h1M342.2 130.0h1M345.8 140.9h1M351.8 140.8h1M345.8 131.5h1M356.3 132.2h1M348.8 128.3h1M341.9 134.0h1M341.6 127.6h1M336.5 131.8h1M344.5 132.9h1M340.0 125.0h1M351.4 130.6h1M349.6 125.4h1M337.6 119.3h1M346.8 134.9h1M352.7 138.4h1M334.5 125.7h1M342.0 127.0h1M343.8 127.0h1M336.6 130.3h1M345.7 127.1h1M345.2 124.7h1M343.1 129.0h1M342.4 130.2h1M337.7 124.6h1M340.2 133.8h1M339.5 126.4h1M356.4 129.4h1M342.8 126.6h1M353.5 132.8h1M346.5 137.6h1M338.1 123.0h1M351.4 132.4h1M342.1 134.0h1M344.5 139.2h1M337.7 132.1h1M350.7 134.4h1M342.9 128.7h1M342.5 133.6h1M342.7 129.9h1M350.9 130.0h1M346.4 130.0h1M345.1 120.6h1M339.6 132.1h1M341.3 127.8h1M345.3 140.7h1M340.6 126.3h1M334.7 132.6h1M344.7 126.8h1M342.6 134.9h1M350.9 132.1h1M351.7 135.0h1M342.4 134.0h1M345.9 133.9h1M346.6 140.0h1M337.8 132.1h1M338.8 140.8h1M342.0 128.9h1M344.9 130.3h1M354.9 130.3h1M346.4 135.2h1M353.7 126.2h1M346.8 124.6h1M347.8 136.8h1M342.0 129.3h1M351.9 132.5h1M349.6 128.5h1M343.2 128.9h1M354.0 123.8h1M342.0 137.5h1M344.6 125.6h1M346.4 129.5h1M344.3 132.7h1M349.6 123.8h1M346.2 137.2h1M337.3 130.1h1M338.3 133.5h1M340.1 129.0h1M342.6 132.5h1M337.4 124.3h1M346.1 136.6h1M342.1 132.4h1M346.5 131.0h1M344.9 128.0h1M343.6 135.9h1M347.6 136.2h1M340.8 131.0h1M341.3 124.6h1M350.2 129.2h1M346.4 124.2h1M343.5 130.0h1M342.7 135.1h1M347.6 131.1h1M346.3 128.5h1M340.9 129.2h1M339.1 129.7h1M344.3 135.6h1M342.5 141.4h1M342.0 131.1h1M344.8 127.7h1M344.6 122.6h1M351.4 127.9h1M344.8 122.4h1M348.2 124.7h1M352.8 125.8h1M340.7 133.5h1M352.3 121.6h1M335.2 137.8h1M347.5 123.7h1M342.5 133.6h1M342.7 137.3h1M340.9 131.3h1M351.6 137.2h1M346.3 133.1h1M343.0 130.2h1M341.7 132.2h1M349.8 126.0h1M338.3 130.7h1M356.5 131.5h1M345.7 130.3h1M335.3 127.3h1M353.6 121.0h1M355.3 125.1h1M356.7 142.3h1M353.6 129.9h1M348.4 128.0h1M342.4 131.4h1M343.2 125.6h1M343.4 133.4h1M340.5 132.1h1M337.2 130.9h1M338.3 134.0h1M339.0 133.3h1M333.5 131.3h1M351.3 126.8h1M345.3 126.6h1M347.7 133.9h1M351.6 136.5h1M352.4 127.2h1M345.6 132.9h1M346.0 124.5h1M356.6 142.0h1M345.3 118.7h1M355.4 129.7h1M358.0 125.8h1M348.0 134.1h1M336.7 129.0h1M347.8 133.5h1M347.2 118.6h1M331.2 132.1h1M354.1 123.5h1M347.2 134.7h1M339.3 123.3h1M346.5 128.5h1M344.4 129.6h1M344.3 131.9h1M341.9 130.3h1M341.7 126.5h1M347.0 126.7h1M348.0 130.4h1M351.2 133.2h1M333.4 130.4h1M348.7 131.0h1M345.2 135.4h1M348.8 124.4h1M345.5 135.0h1M345.8 124.7h1M349.4 133.2h1M351.5 131.3h1M345.6 134.4h1M338.6 138.3h1M347.2 131.5h1M349.3 134.1h1M332.3 134.7h1M344.3 126.9h1M350.1 134.8h1M347.1 127.6h1M345.5 126.1h1M359.4 127.5h1M350.0 137.9h1M340.0 128.0h1M332.1 129.4h1M337.3 131.2h1M343.7 130.5h1M345.2 128.3h1M345.6 130.2h1M340.8 129.0h1M341.7 124.6h1M344.8 122.0h1M348.0 130.3h1M345.9 135.8h1M350.4 128.5h1M346.9 135.9h1M344.0 132.2h1M347.3 125.8h1M346.5 128.7h1M343.4 132.5h1M348.7 126.4h1M343.5 129.6h1M339.5 132.2h1M343.8 127.3h1M350.3 130.1h1M338.3 130.1h1M343.9 131.8h1M357.9 133.0h1M353.2 129.7h1M347.6 132.7h1M344.3 131.6h1M342.3 133.6h1M339.7 138.3h1M344.2 132.1h1M345.8 123.1h1M347.4 126.5h1M346.1 128.6h1M343.4 123.5h1M337.4 127.9h1M338.8 131.6h1M336.9 131.5h1M348.1 127.1h1M339.4 128.9h1M349.4 136.8h1M357.3 130.9h1M348.5 131.4h1M344.8 125.6h1M342.9 135.6h1M352.9 127.7h1M335.6 139.1h1M345.1 132.6h1M343.9 122.3h1M346.7 126.1h1M343.3 127.6h1M343.4 141.4h1M353.6 121.6h1M336.1 128.2h1M341.1 134.0h1M353.9 127.1h1M348.2 129.5h1M333.5 135.8h1M354.9 126.7h1M348.5 128.1h1M344.4 128.4h1M344.1 130.7h1M341.4 131.7h1M337.5 134.2h1M339.4 122.0h1M349.7 128.9h1M341.9 134.6h1M344.7 139.4h1M347.4 124.0h1M342.0 127.4h1M343.2 138.2h1M360.5 138.3h1M347.5 133.0h1M345.9 120.4h1M352.9 139.5h1M341.9 130.4h1M340.8 129.5h1M339.9 125.3h1M351.9 121.6h1M350.8 125.3h1M343.4 121.3h1M348.7 125.9h1M359.3 126.2h1M346.3 133.5h1M339.3 126.7h1M338.8 133.0h1M346.6 135.1h1M336.6 126.2h1M344.2 128.4h1M346.7 135.6h1M345.7 126.8h1M344.7 127.2h1M341.2 139.0h1M348.8 138.8h1M343.7 130.2h1M337.6 131.6h1M349.1 133.6h1M338.2 131.0h1M350.2 128.3h1M349.0 128.2h1M344.9 127.8h1M336.4 126.7h1M345.9 129.2h1M344.9 127.8h1M350.0 129.7h1M347.2 128.3h1M352.4 130.0h1M347.4 140.5h1M347.4 123.4h1M341.1 132.0h1M337.4 123.7h1M344.2 123.3h1M351.2 132.5h1M343.1 136.0h1M341.0 125.1h1M350.1 130.6h1M343.6 135.2h1M344.1 133.4h1M346.2 135.8h1M348.1 128.3h1M353.6 128.9h1M354.9 124.7h1M345.2 120.3h1M347.9 136.6h1M342.7 132.6h1M343.7 137.1h1M346.9 132.1h1M351.3 123.5h1M348.9 131.1h1M352.4 130.6h1M348.4 130.2h1M339.3 128.2h1M343.9 124.4h1M344.7 128.3h1M355.4 129.4h1M345.7 130.9h1M348.9 123.1h1M334.9 137.7h1M340.2 126.4h1M351.7 131.8h1M340.3 133.9h1M338.5 137.9h1M343.2 132.0h1M344.9 139.3h1M339.5 130.0h1M357.3 121.2h1M342.2 131.8h1M343.7 132.5h1M351.6 125.3h1M341.2 136.5h1M356.2 118.3h1M348.1 135.0h1M341.1 126.5h1M338.5 129.6h1M338.4 133.7h1M341.0 132.9h1M336.0 134.5h1M348.8 134.8h1M346.5 141.0h1M350.5 130.7h1M354.2 128.9h1M345.9 138.0h1M342.3 130.5h1M346.4 131.3h1M343.6 135.1h1M357.4 128.7h1M336.5 128.4h1M337.0 124.7h1M339.0 135.3h1M345.9 133.7h1M344.4 135.2h1M342.7 136.4h1M350.1 131.5h1M336.6 125.5h1M346.5 125.8h1M344.0 129.8h1M352.9 127.4h1M345.8 128.4h1M340.7 132.5h1M350.6 124.0h1M353.6 140.7h1M345.9 132.9h1M339.0 128.7h1M346.8 130.1h1M352.9 126.5h1M343.6 132.9h1M344.6 129.4h1M344.3 132.3h1M334.0 142.3h1M349.3 125.7h1M339.8 125.4h1M347.5 122.0h1M359.1 128.0h1M336.9 139.9h1M345.0 132.8h1M343.9 129.3h1M356.8 121.5h1M346.5 127.1h1M343.0 130.2h1M334.5 133.3h1M346.2 133.0h1M341.6 133.9h1M342.3 134.0h1M352.8 133.3h1M336.8 130.8h1M339.1 139.4h1M346.2 124.7h1M336.3 136.5h1M339.3 132.4h1M343.1 129.9h1M342.5 130.5h1M354.3 126.5h1M348.0 132.7h1M341.2 125.5h1M339.9 133.1h1M345.9 135.2h1M347.1 131.0h1M345.1 131.6h1M345.3 133.6h1M340.1 135.4h1M354.4 130.1h1M348.3 125.2h1M345.6 124.0h1M350.7 130.7h1M351.2 135.6h1M340.8 134.2h1M353.9 140.6h1M344.4 133.0h1M341.4 133.4h1M348.5 137.1h1M344.2 130.8h1M347.9 129.8h1M356.9 120.5h1M335.2 128.2h1M349.0 130.6h1M347.4 123.7h1M348.5 133.0h1M354.4 134.2h1M341.5 127.2h1M338.5 128.3h1M344.5 136.2h1M354.5 130.9h1M348.5 129.8h1M337.6 132.9h1" stroke="#e8300c" stroke-width="1" opacity="0.85"/>
<line x1="360.6" y1="92.9" x2="360.6" y2="147" stroke="#000" stroke-width="1.7"/>
<line x1="332.8" y1="118.8" x2="386.9" y2="118.8" stroke="#000" stroke-width="1.7"/>
<rect x="327.5" y="75.5" width="72.0" height="72.0" fill="none" stroke="#4a4a4a" stroke-width="1"/>
<g stroke="#777" stroke-width="0.7"><line x1="326.0" y1="145.5" x2="327.5" y2="145.5"/><line x1="331.5" y1="147.5" x2="331.5" y2="148.7"/><line x1="326.0" y1="131.9" x2="327.5" y2="131.9"/><line x1="344.3" y1="147.5" x2="344.3" y2="148.7"/><line x1="326.0" y1="118.3" x2="327.5" y2="118.3"/><line x1="357.1" y1="147.5" x2="357.1" y2="148.7"/><line x1="326.0" y1="104.7" x2="327.5" y2="104.7"/><line x1="369.9" y1="147.5" x2="369.9" y2="148.7"/><line x1="326.0" y1="91.1" x2="327.5" y2="91.1"/><line x1="382.7" y1="147.5" x2="382.7" y2="148.7"/><line x1="326.0" y1="77.5" x2="327.5" y2="77.5"/><line x1="395.5" y1="147.5" x2="395.5" y2="148.7"/></g>
<text x="29.2" y="10.6" font-size="10.8" font-weight="bold" text-anchor="start" fill="#000">CD4<tspan dy="-4" font-size="7">+</tspan></text>
<text x="28.5" y="143.6" font-size="10.8" font-weight="bold" text-anchor="start" fill="#000">CD8<tspan dy="-4" font-size="7">+</tspan></text>
<text x="54.8" y="73.2" font-size="10.8" font-weight="bold" text-anchor="middle" fill="#000" transform="rotate(-90 54.8 73.2)">CD95</text>
<text x="145.3" y="74" font-size="10.8" font-weight="bold" text-anchor="middle" fill="#000" transform="rotate(-90 145.3 74)">CCR7</text>
<text x="235.2" y="74.3" font-size="10.8" font-weight="bold" text-anchor="middle" fill="#000" transform="rotate(-90 235.2 74.3)">CD27</text>
<text x="324.4" y="74.5" font-size="10.8" font-weight="bold" text-anchor="middle" fill="#000" transform="rotate(-90 324.4 74.5)">HLA-DR</text>
<text x="94.5" y="161" font-size="10.8" font-weight="bold" text-anchor="middle" fill="#000">CD45RA</text>
<text x="184" y="161" font-size="10.8" font-weight="bold" text-anchor="middle" fill="#000">CD45RO</text>
<text x="274.5" y="161" font-size="10.8" font-weight="bold" text-anchor="middle" fill="#000">Ki-67</text>
<text x="362.5" y="161" font-size="10.8" font-weight="bold" text-anchor="middle" fill="#000">CD57</text>
<rect x="423.5" y="50.8" width="7" height="7" fill="#e8300c"/>
<rect x="423.5" y="74.6" width="7" height="7" fill="#555"/>
<text x="436.4" y="57.9" font-size="10.2" font-weight="bold" text-anchor="start" fill="#000">Donor</text>
<text x="436.4" y="81.6" font-size="10.2" font-weight="bold" text-anchor="start" fill="#000">Recipient</text>
<line x1="53.7" y1="187.2" x2="53.7" y2="279.7" stroke="#444" stroke-width="1"/>
<line x1="52.5" y1="279.7" x2="240.4" y2="279.7" stroke="#444" stroke-width="1"/>
<line x1="52" y1="279.7" x2="54" y2="279.7" stroke="#555" stroke-width="1"/>
<text x="45.9" y="283.5" font-size="10.8" font-weight="bold" text-anchor="end" fill="#000">0</text>
<line x1="52" y1="257.86" x2="54" y2="257.86" stroke="#555" stroke-width="1"/>
<text x="45.9" y="261.66" font-size="10.8" font-weight="bold" text-anchor="end" fill="#000">20</text>
<line x1="52" y1="236.01999999999998" x2="54" y2="236.01999999999998" stroke="#555" stroke-width="1"/>
<text x="45.9" y="239.82" font-size="10.8" font-weight="bold" text-anchor="end" fill="#000">40</text>
<line x1="52" y1="214.17999999999998" x2="54" y2="214.17999999999998" stroke="#555" stroke-width="1"/>
<text x="45.9" y="217.98" font-size="10.8" font-weight="bold" text-anchor="end" fill="#000">60</text>
<line x1="52" y1="192.33999999999997" x2="54" y2="192.33999999999997" stroke="#555" stroke-width="1"/>
<text x="45.9" y="196.14" font-size="10.8" font-weight="bold" text-anchor="end" fill="#000">80</text>
<line x1="97.1" y1="278.2" x2="97.1" y2="281.2" stroke="#555" stroke-width="1"/>
<line x1="130.95000000000002" y1="278.2" x2="130.95000000000002" y2="281.2" stroke="#555" stroke-width="1"/>
<line x1="164.8" y1="278.2" x2="164.8" y2="281.2" stroke="#555" stroke-width="1"/>
<line x1="198.65" y1="278.2" x2="198.65" y2="281.2" stroke="#555" stroke-width="1"/>
<line x1="232.50000000000003" y1="278.2" x2="232.50000000000003" y2="281.2" stroke="#555" stroke-width="1"/>
<rect x="71.60" y="249.12" width="4.8" height="30.58" fill="#c4c4c4"/>
<line x1="74.00" y1="249.12" x2="74.00" y2="254.58" stroke="#333" stroke-width="1"/>
<rect x="71.40" y="248.22" width="5.2" height="1.8" fill="#111"/>
<rect x="77.80" y="279.15" width="4.8" height="0.55" fill="#7c7c7c"/>
<rect x="77.60" y="278.25" width="5.2" height="1.8" fill="#111"/>
<rect x="84.00" y="278.61" width="4.8" height="1.09" fill="#e02c10"/>
<rect x="83.80" y="277.71" width="5.2" height="1.8" fill="#111"/>
<polygon points="74.00,187.10 74.68,188.47 76.19,188.69 75.09,189.76 75.35,191.26 74.00,190.55 72.65,191.26 72.91,189.76 71.81,188.69 73.32,188.47" fill="#b0b0b0"/>
<rect x="105.45" y="278.06" width="4.8" height="1.64" fill="#c4c4c4"/>
<rect x="105.25" y="277.16" width="5.2" height="1.8" fill="#111"/>
<rect x="111.65" y="275.33" width="4.8" height="4.37" fill="#7c7c7c"/>
<line x1="114.05" y1="273.69" x2="114.05" y2="276.97" stroke="#333" stroke-width="1"/>
<rect x="111.45" y="274.43" width="5.2" height="1.8" fill="#111"/>
<rect x="117.85" y="214.18" width="4.8" height="65.52" fill="#e02c10"/>
<line x1="120.25" y1="214.18" x2="120.25" y2="227.28" stroke="#333" stroke-width="1"/>
<rect x="117.65" y="213.28" width="5.2" height="1.8" fill="#111"/>
<polygon points="107.85,187.10 108.53,188.47 110.04,188.69 108.94,189.76 109.20,191.26 107.85,190.55 106.50,191.26 106.76,189.76 105.66,188.69 107.17,188.47" fill="#b0b0b0"/>
<polygon points="114.05,187.10 114.73,188.47 116.24,188.69 115.14,189.76 115.40,191.26 114.05,190.55 112.70,191.26 112.96,189.76 111.86,188.69 113.37,188.47" fill="#6a6a6a"/>
<rect x="139.30" y="262.23" width="4.8" height="17.47" fill="#c4c4c4"/>
<line x1="141.70" y1="257.31" x2="141.70" y2="266.60" stroke="#333" stroke-width="1"/>
<rect x="139.10" y="261.33" width="5.2" height="1.8" fill="#111"/>
<rect x="145.50" y="226.19" width="4.8" height="53.51" fill="#7c7c7c"/>
<line x1="147.90" y1="225.10" x2="147.90" y2="231.65" stroke="#333" stroke-width="1"/>
<rect x="145.30" y="225.29" width="5.2" height="1.8" fill="#111"/>
<rect x="151.70" y="258.95" width="4.8" height="20.75" fill="#e02c10"/>
<line x1="154.10" y1="251.31" x2="154.10" y2="264.41" stroke="#333" stroke-width="1"/>
<rect x="151.50" y="258.05" width="5.2" height="1.8" fill="#111"/>
<polygon points="147.90,187.10 148.58,188.47 150.09,188.69 148.99,189.76 149.25,191.26 147.90,190.55 146.55,191.26 146.81,189.76 145.71,188.69 147.22,188.47" fill="#6a6a6a"/>
<rect x="173.15" y="237.66" width="4.8" height="42.04" fill="#c4c4c4"/>
<line x1="175.55" y1="237.11" x2="175.55" y2="243.12" stroke="#333" stroke-width="1"/>
<rect x="172.95" y="236.76" width="5.2" height="1.8" fill="#111"/>
<rect x="179.35" y="237.66" width="4.8" height="42.04" fill="#7c7c7c"/>
<line x1="181.75" y1="237.11" x2="181.75" y2="244.21" stroke="#333" stroke-width="1"/>
<rect x="179.15" y="236.76" width="5.2" height="1.8" fill="#111"/>
<rect x="185.55" y="272.60" width="4.8" height="7.10" fill="#e02c10"/>
<line x1="187.95" y1="268.23" x2="187.95" y2="275.88" stroke="#333" stroke-width="1"/>
<rect x="185.35" y="271.70" width="5.2" height="1.8" fill="#111"/>
<polygon points="175.55,187.10 176.23,188.47 177.74,188.69 176.64,189.76 176.90,191.26 175.55,190.55 174.20,191.26 174.46,189.76 173.36,188.69 174.87,188.47" fill="#b0b0b0"/>
<polygon points="181.75,187.10 182.43,188.47 183.94,188.69 182.84,189.76 183.10,191.26 181.75,190.55 180.40,191.26 180.66,189.76 179.56,188.69 181.07,188.47" fill="#6a6a6a"/>
<rect x="207.00" y="269.33" width="4.8" height="10.37" fill="#c4c4c4"/>
<rect x="206.80" y="268.43" width="5.2" height="1.8" fill="#111"/>
<rect x="213.20" y="274.24" width="4.8" height="5.46" fill="#7c7c7c"/>
<rect x="213.00" y="273.34" width="5.2" height="1.8" fill="#111"/>
<rect x="219.40" y="276.97" width="4.8" height="2.73" fill="#e02c10"/>
<line x1="221.80" y1="275.55" x2="221.80" y2="276.97" stroke="#333" stroke-width="1"/>
<rect x="219.20" y="276.07" width="5.2" height="1.8" fill="#111"/>
<polygon points="209.40,187.10 210.08,188.47 211.59,188.69 210.49,189.76 210.75,191.26 209.40,190.55 208.05,191.26 208.31,189.76 207.21,188.69 208.72,188.47" fill="#b0b0b0"/>
<text x="31.2" y="233.29999999999998" font-size="11.5" font-weight="bold" text-anchor="middle" fill="#000" transform="rotate(-90 31.2 233.29999999999998)">% of CD4<tspan dy="-4.3" font-size="7.5">+</tspan></text>
<line x1="53.7" y1="291.6" x2="53.7" y2="384.1" stroke="#444" stroke-width="1"/>
<line x1="52.5" y1="384.1" x2="240.4" y2="384.1" stroke="#444" stroke-width="1"/>
<line x1="52" y1="384.1" x2="54" y2="384.1" stroke="#555" stroke-width="1"/>
<text x="45.9" y="387.90000000000003" font-size="10.8" font-weight="bold" text-anchor="end" fill="#000">0</text>
<line x1="52" y1="362.26" x2="54" y2="362.26" stroke="#555" stroke-width="1"/>
<text x="45.9" y="366.06" font-size="10.8" font-weight="bold" text-anchor="end" fill="#000">20</text>
<line x1="52" y1="340.42" x2="54" y2="340.42" stroke="#555" stroke-width="1"/>
<text x="45.9" y="344.22" font-size="10.8" font-weight="bold" text-anchor="end" fill="#000">40</text>
<line x1="52" y1="318.58000000000004" x2="54" y2="318.58000000000004" stroke="#555" stroke-width="1"/>
<text x="45.9" y="322.38000000000005" font-size="10.8" font-weight="bold" text-anchor="end" fill="#000">60</text>
<line x1="52" y1="296.74" x2="54" y2="296.74" stroke="#555" stroke-width="1"/>
<text x="45.9" y="300.54" font-size="10.8" font-weight="bold" text-anchor="end" fill="#000">80</text>
<line x1="97.1" y1="382.6" x2="97.1" y2="385.6" stroke="#555" stroke-width="1"/>
<line x1="130.95000000000002" y1="382.6" x2="130.95000000000002" y2="385.6" stroke="#555" stroke-width="1"/>
<line x1="164.8" y1="382.6" x2="164.8" y2="385.6" stroke="#555" stroke-width="1"/>
<line x1="198.65" y1="382.6" x2="198.65" y2="385.6" stroke="#555" stroke-width="1"/>
<line x1="232.50000000000003" y1="382.6" x2="232.50000000000003" y2="385.6" stroke="#555" stroke-width="1"/>
<rect x="71.60" y="362.81" width="4.8" height="21.29" fill="#c4c4c4"/>
<line x1="74.00" y1="357.89" x2="74.00" y2="366.08" stroke="#333" stroke-width="1"/>
<rect x="71.40" y="361.91" width="5.2" height="1.8" fill="#111"/>
<rect x="77.80" y="383.55" width="4.8" height="0.55" fill="#7c7c7c"/>
<rect x="77.60" y="382.65" width="5.2" height="1.8" fill="#111"/>
<rect x="84.00" y="383.55" width="4.8" height="0.55" fill="#e02c10"/>
<rect x="83.80" y="382.65" width="5.2" height="1.8" fill="#111"/>
<polygon points="74.00,291.50 74.68,292.87 76.19,293.09 75.09,294.16 75.35,295.66 74.00,294.95 72.65,295.66 72.91,294.16 71.81,293.09 73.32,292.87" fill="#b0b0b0"/>
<rect x="105.45" y="381.92" width="4.8" height="2.18" fill="#c4c4c4"/>
<rect x="105.25" y="381.02" width="5.2" height="1.8" fill="#111"/>
<rect x="111.65" y="381.92" width="4.8" height="2.18" fill="#7c7c7c"/>
<line x1="114.05" y1="377.55" x2="114.05" y2="381.92" stroke="#333" stroke-width="1"/>
<rect x="111.45" y="381.02" width="5.2" height="1.8" fill="#111"/>
<rect x="117.85" y="328.95" width="4.8" height="55.15" fill="#e02c10"/>
<line x1="120.25" y1="321.86" x2="120.25" y2="337.69" stroke="#333" stroke-width="1"/>
<rect x="117.65" y="328.05" width="5.2" height="1.8" fill="#111"/>
<polygon points="107.85,291.50 108.53,292.87 110.04,293.09 108.94,294.16 109.20,295.66 107.85,294.95 106.50,295.66 106.76,294.16 105.66,293.09 107.17,292.87" fill="#b0b0b0"/>
<polygon points="114.05,291.50 114.73,292.87 116.24,293.09 115.14,294.16 115.40,295.66 114.05,294.95 112.70,295.66 112.96,294.16 111.86,293.09 113.37,292.87" fill="#6a6a6a"/>
<rect x="139.30" y="381.37" width="4.8" height="2.73" fill="#c4c4c4"/>
<rect x="139.10" y="380.47" width="5.2" height="1.8" fill="#111"/>
<rect x="145.50" y="372.09" width="4.8" height="12.01" fill="#7c7c7c"/>
<line x1="147.90" y1="360.08" x2="147.90" y2="377.55" stroke="#333" stroke-width="1"/>
<rect x="145.30" y="371.19" width="5.2" height="1.8" fill="#111"/>
<rect x="151.70" y="377.00" width="4.8" height="7.10" fill="#e02c10"/>
<line x1="154.10" y1="375.91" x2="154.10" y2="377.00" stroke="#333" stroke-width="1"/>
<rect x="151.50" y="376.10" width="5.2" height="1.8" fill="#111"/>
<rect x="173.15" y="348.61" width="4.8" height="35.49" fill="#c4c4c4"/>
<line x1="175.55" y1="344.24" x2="175.55" y2="350.79" stroke="#333" stroke-width="1"/>
<rect x="172.95" y="347.71" width="5.2" height="1.8" fill="#111"/>
<rect x="179.35" y="320.22" width="4.8" height="63.88" fill="#7c7c7c"/>
<line x1="181.75" y1="318.58" x2="181.75" y2="336.60" stroke="#333" stroke-width="1"/>
<rect x="179.15" y="319.32" width="5.2" height="1.8" fill="#111"/>
<rect x="185.55" y="370.45" width="4.8" height="13.65" fill="#e02c10"/>
<line x1="187.95" y1="361.71" x2="187.95" y2="374.82" stroke="#333" stroke-width="1"/>
<rect x="185.35" y="369.55" width="5.2" height="1.8" fill="#111"/>
<polygon points="175.55,291.50 176.23,292.87 177.74,293.09 176.64,294.16 176.90,295.66 175.55,294.95 174.20,295.66 174.46,294.16 173.36,293.09 174.87,292.87" fill="#b0b0b0"/>
<polygon points="181.75,291.50 182.43,292.87 183.94,293.09 182.84,294.16 183.10,295.66 181.75,294.95 180.40,295.66 180.66,294.16 179.56,293.09 181.07,292.87" fill="#6a6a6a"/>
<rect x="207.00" y="339.33" width="4.8" height="44.77" fill="#c4c4c4"/>
<line x1="209.40" y1="337.69" x2="209.40" y2="344.79" stroke="#333" stroke-width="1"/>
<rect x="206.80" y="338.43" width="5.2" height="1.8" fill="#111"/>
<rect x="213.20" y="354.62" width="4.8" height="29.48" fill="#7c7c7c"/>
<line x1="215.60" y1="349.16" x2="215.60" y2="365.54" stroke="#333" stroke-width="1"/>
<rect x="213.00" y="353.72" width="5.2" height="1.8" fill="#111"/>
<rect x="219.40" y="354.07" width="4.8" height="30.03" fill="#e02c10"/>
<line x1="221.80" y1="339.87" x2="221.80" y2="360.62" stroke="#333" stroke-width="1"/>
<rect x="219.20" y="353.17" width="5.2" height="1.8" fill="#111"/>
<text x="31.2" y="337.70000000000005" font-size="11.5" font-weight="bold" text-anchor="middle" fill="#000" transform="rotate(-90 31.2 337.70000000000005)">% of CD8<tspan dy="-4.3" font-size="7.5">+</tspan></text>
<text x="70.7" y="397.5" font-size="10.8" font-weight="normal" stroke="#000" stroke-width="0.3">T<tspan font-size="7.5" font-weight="bold" stroke-width="0" dy="2.5">N</tspan></text>
<text x="100.6" y="397.5" font-size="10.8" font-weight="normal" stroke="#000" stroke-width="0.3">T<tspan font-size="7.5" font-weight="bold" stroke-width="0" dy="2.5">SCM</tspan></text>
<text x="136.25" y="397.5" font-size="10.8" font-weight="normal" stroke="#000" stroke-width="0.3">T<tspan font-size="7.5" font-weight="bold" stroke-width="0" dy="2.5">CM</tspan></text>
<text x="171.5" y="397.5" font-size="10.8" font-weight="normal" stroke="#000" stroke-width="0.3">T<tspan font-size="7.5" font-weight="bold" stroke-width="0" dy="2.5">EM</tspan></text>
<text x="205.4" y="397.5" font-size="10.8" font-weight="normal" stroke="#000" stroke-width="0.3">T<tspan font-size="7.5" font-weight="bold" stroke-width="0" dy="2.5">TE</tspan></text>
<rect x="224" y="204.2" width="6" height="6" fill="#c4c4c4"/>
<text x="236" y="210.39999999999998" font-size="10.8" font-weight="bold" text-anchor="start" fill="#000">BM</text>
<rect x="224" y="218.1" width="6" height="6" fill="#7c7c7c"/>
<text x="236" y="224.29999999999998" font-size="10.8" font-weight="bold" text-anchor="start" fill="#000">day 7 R</text>
<rect x="224" y="232.5" width="6" height="6" fill="#e02c10"/>
<text x="236" y="238.7" font-size="10.8" font-weight="bold" text-anchor="start" fill="#000">day 7 D</text>
<rect x="305" y="178.3" width="149" height="21.6" fill="#fff" stroke="#777" stroke-width="1.2"/>
<text x="312.3" y="193" font-size="10.8" font-weight="normal" text-anchor="start" fill="#000" stroke="#000" stroke-width="0.35">IL-15 (ng/mL):</text>
<line x1="387.7" y1="189.5" x2="394.8" y2="189.5" stroke="#aaa" stroke-width="1.6"/>
<text x="398.8" y="193" font-size="10.8" font-weight="normal" text-anchor="start" fill="#000" stroke="#000" stroke-width="0.35">1</text>
<line x1="420" y1="189.5" x2="427" y2="189.5" stroke="#000" stroke-width="2"/>
<text x="431.5" y="193" font-size="10.8" font-weight="normal" text-anchor="start" fill="#000" stroke="#000" stroke-width="0.35">50</text>
<text x="334.5" y="217.7" font-size="10.8" font-weight="normal" stroke="#000" stroke-width="0.3">T<tspan font-size="7.5" font-weight="bold" stroke-width="0" dy="2.9">N</tspan></text>
<text x="398.5" y="217.7" font-size="10.8" font-weight="normal" stroke="#000" stroke-width="0.3">T<tspan font-size="7.5" font-weight="bold" stroke-width="0" dy="2.9">SCM</tspan></text>
<text x="471.2" y="217.7" font-size="10.8" font-weight="normal" stroke="#000" stroke-width="0.3">T<tspan font-size="7.5" font-weight="bold" stroke-width="0" dy="2.9">MEM</tspan></text>
<text x="284.5" y="257" font-size="10.8" font-weight="bold" text-anchor="start" fill="#000">HD</text>
<text x="284.2" y="331.3" font-size="10.8" font-weight="bold" text-anchor="start" fill="#000">R</text>
<text x="331.8" y="333" font-size="10.8" font-weight="bold" text-anchor="start" fill="#000">N/D</text>
<text x="396.6" y="381.8" font-size="10.8" font-weight="bold" text-anchor="start" fill="#000">CFSE</text>
<rect x="305.8" y="222.4" width="71.1" height="70.5" fill="none" stroke="#777" stroke-width="0.9"/>
<g stroke="#888" stroke-width="0.6"><line x1="305.8" y1="284.1" x2="307.1" y2="284.1"/><line x1="305.8" y1="275.3" x2="307.1" y2="275.3"/><line x1="305.8" y1="266.5" x2="307.1" y2="266.5"/><line x1="305.8" y1="257.6" x2="307.1" y2="257.6"/><line x1="305.8" y1="248.8" x2="307.1" y2="248.8"/><line x1="305.8" y1="240.0" x2="307.1" y2="240.0"/><line x1="305.8" y1="231.2" x2="307.1" y2="231.2"/></g>
<rect x="376.9" y="222.4" width="71.6" height="70.5" fill="none" stroke="#777" stroke-width="0.9"/>
<g stroke="#888" stroke-width="0.6"><line x1="376.9" y1="284.1" x2="378.2" y2="284.1"/><line x1="376.9" y1="275.3" x2="378.2" y2="275.3"/><line x1="376.9" y1="266.5" x2="378.2" y2="266.5"/><line x1="376.9" y1="257.6" x2="378.2" y2="257.6"/><line x1="376.9" y1="248.8" x2="378.2" y2="248.8"/><line x1="376.9" y1="240.0" x2="378.2" y2="240.0"/><line x1="376.9" y1="231.2" x2="378.2" y2="231.2"/></g>
<rect x="448.5" y="222.4" width="75" height="70.5" fill="none" stroke="#777" stroke-width="0.9"/>
<g stroke="#888" stroke-width="0.6"><line x1="448.5" y1="284.1" x2="449.8" y2="284.1"/><line x1="448.5" y1="275.3" x2="449.8" y2="275.3"/><line x1="448.5" y1="266.5" x2="449.8" y2="266.5"/><line x1="448.5" y1="257.6" x2="449.8" y2="257.6"/><line x1="448.5" y1="248.8" x2="449.8" y2="248.8"/><line x1="448.5" y1="240.0" x2="449.8" y2="240.0"/><line x1="448.5" y1="231.2" x2="449.8" y2="231.2"/></g>
<rect x="376.5" y="296.9" width="72" height="71.3" fill="none" stroke="#777" stroke-width="0.9"/>
<g stroke="#888" stroke-width="0.6"><line x1="376.5" y1="359.3" x2="377.8" y2="359.3"/><line x1="376.5" y1="350.4" x2="377.8" y2="350.4"/><line x1="376.5" y1="341.5" x2="377.8" y2="341.5"/><line x1="376.5" y1="332.6" x2="377.8" y2="332.6"/><line x1="376.5" y1="323.6" x2="377.8" y2="323.6"/><line x1="376.5" y1="314.7" x2="377.8" y2="314.7"/><line x1="376.5" y1="305.8" x2="377.8" y2="305.8"/></g>
<rect x="448.5" y="296.9" width="75" height="71.3" fill="none" stroke="#777" stroke-width="0.9"/>
<g stroke="#888" stroke-width="0.6"><line x1="448.5" y1="359.3" x2="449.8" y2="359.3"/><line x1="448.5" y1="350.4" x2="449.8" y2="350.4"/><line x1="448.5" y1="341.5" x2="449.8" y2="341.5"/><line x1="448.5" y1="332.6" x2="449.8" y2="332.6"/><line x1="448.5" y1="323.6" x2="449.8" y2="323.6"/><line x1="448.5" y1="314.7" x2="449.8" y2="314.7"/><line x1="448.5" y1="305.8" x2="449.8" y2="305.8"/></g>
<text x="306.6" y="235.8" font-size="10.8" font-weight="bold" text-anchor="start" fill="#000">11</text>
<text x="379.6" y="235.8" font-size="10.8" font-weight="bold" text-anchor="start" fill="#000">70</text>
<text x="451.5" y="235.8" font-size="10.8" font-weight="bold" text-anchor="start" fill="#000">69</text>
<text x="379.2" y="310.8" font-size="10.8" font-weight="bold" text-anchor="start" fill="#000">97</text>
<text x="451.8" y="310.8" font-size="10.8" font-weight="bold" text-anchor="start" fill="#000">99</text>
<line x1="308.5" y1="243.8" x2="347.4" y2="243.8" stroke="#555" stroke-width="1.5"/>
<line x1="379.2" y1="243.8" x2="419.2" y2="243.8" stroke="#555" stroke-width="1.5"/>
<line x1="451.5" y1="243.8" x2="490" y2="243.8" stroke="#555" stroke-width="1.5"/>
<line x1="379.2" y1="317.2" x2="418" y2="317.2" stroke="#555" stroke-width="1.5"/>
<line x1="451.5" y1="317.2" x2="490" y2="317.2" stroke="#555" stroke-width="1.5"/>
<polyline points="306.0,292.3 338.0,292.3 342.0,291.3 345.0,289.3 348.0,285.3 350.0,267.3 351.5,237.3 352.3,226.5 353.2,237.3 354.3,277.3 355.5,290.3 357.0,292.3 377.0,292.3" fill="none" stroke="#000" stroke-width="1.55" stroke-linejoin="round"/>
<polyline points="340.0,292.3 345.0,290.3 349.0,282.3 351.0,252.3 352.0,242.3 353.0,257.3 355.0,289.3 357.0,292.3" fill="none" stroke="#a8a8a8" stroke-width="1.0" stroke-linejoin="round"/>
<polyline points="393.0,291.3 400.0,290.3 408.0,289.3 414.0,285.0 418.0,282.0 421.0,278.0 422.5,265.0 423.5,240.0 424.2,225.0 425.0,240.0 426.0,270.0 427.5,292.3 430.0,292.3" fill="none" stroke="#a8a8a8" stroke-width="1.0" stroke-linejoin="round"/>
<polyline points="377.0,292.3 380.0,291.1 381.0,289.8 383.0,290.8 386.0,290.3 390.0,289.8 394.0,289.3 398.0,288.8 401.0,288.3 404.0,287.3 406.9,284.8 408.5,282.0 410.3,280.4 412.0,272.0 413.8,263.5 415.8,274.2 416.8,262.0 417.7,240.0 418.5,226.5 419.5,245.0 421.1,270.4 422.2,250.0 423.1,229.6 424.2,245.0 425.5,275.0 427.2,292.3 447.0,292.3" fill="none" stroke="#000" stroke-width="1.55" stroke-linejoin="round"/>
<polyline points="470.0,291.8 484.0,291.3 488.0,289.3 490.5,282.3 492.5,272.3 494.0,252.3 495.0,242.3 496.5,257.3 498.0,284.3 500.0,292.3" fill="none" stroke="#a8a8a8" stroke-width="1.0" stroke-linejoin="round"/>
<polyline points="449.0,292.3 451.5,292.3 451.8,285.8 455.0,286.0 458.0,284.0 463.0,281.2 466.0,279.0 468.0,280.0 470.0,277.0 472.0,276.0 473.8,274.2 475.0,272.0 476.0,275.0 477.0,271.2 479.0,272.0 480.5,266.0 481.5,264.2 482.5,270.0 484.6,274.2 486.0,272.0 488.0,275.0 490.0,273.0 492.3,274.2 493.5,265.0 494.5,240.0 495.7,225.0 496.8,235.0 498.0,260.0 499.5,282.0 500.8,292.3 520.0,292.3" fill="none" stroke="#000" stroke-width="1.55" stroke-linejoin="round"/>
<polyline points="395.0,367.8 410.0,366.8 416.0,364.8 419.0,361.8 420.5,342.8 421.5,312.8 422.3,301.5 423.2,312.8 424.0,347.8 425.5,365.8 428.0,367.8" fill="none" stroke="#a8a8a8" stroke-width="1.0" stroke-linejoin="round"/>
<polyline points="377.0,367.8 379.0,366.9 383.0,365.0 388.5,362.3 391.0,360.0 393.0,356.9 395.0,352.0 397.7,340.8 399.0,334.0 400.8,325.4 401.5,330.0 402.3,318.0 403.0,313.0 404.0,309.0 405.4,305.4 406.2,312.0 407.0,320.8 407.7,305.0 408.5,301.5 409.5,315.0 410.5,330.0 411.5,343.8 412.2,336.0 413.0,334.6 414.0,340.0 415.4,360.8 416.5,357.0 417.7,359.2 419.0,362.0 420.8,363.8 422.0,361.0 423.0,361.5 424.5,365.0 426.2,367.8 449.0,367.8" fill="none" stroke="#000" stroke-width="1.55" stroke-linejoin="round"/>
<polyline points="475.0,367.8 480.0,366.3 485.0,363.8 489.0,360.8 491.0,352.8 492.5,322.8 493.5,301.5 494.5,327.8 495.5,359.8 497.0,367.8 520.0,367.8" fill="none" stroke="#a8a8a8" stroke-width="1.0" stroke-linejoin="round"/>
<polyline points="449.0,367.8 451.5,367.8 451.8,339.2 452.6,360.8 456.0,353.0 460.0,343.0 464.0,331.0 468.5,318.5 470.8,311.5 472.5,313.0 474.0,309.0 475.5,311.0 477.0,307.0 478.5,309.0 479.5,303.0 480.8,300.5 481.8,312.0 482.8,322.3 483.8,315.0 484.6,311.5 485.3,322.0 486.2,336.2 487.5,342.0 488.5,345.4 489.5,350.0 490.8,357.7 492.0,360.0 493.0,363.0 494.2,365.5 495.4,367.8 520.0,367.8" fill="none" stroke="#000" stroke-width="1.55" stroke-linejoin="round"/>
<line x1="58.6" y1="430.4" x2="58.6" y2="547.8" stroke="#222" stroke-width="1"/>
<line x1="58.6" y1="547.8" x2="181.8" y2="547.8" stroke="#222" stroke-width="1"/>
<line x1="56.5" y1="547.80" x2="58.6" y2="547.80" stroke="#222" stroke-width="1"/>
<text x="50.8" y="551.5999999999999" font-size="10.8" font-weight="bold" text-anchor="end" fill="#000">0</text>
<line x1="56.5" y1="526.56" x2="58.6" y2="526.56" stroke="#222" stroke-width="1"/>
<text x="50.8" y="530.3599999999999" font-size="10.8" font-weight="bold" text-anchor="end" fill="#000">20</text>
<line x1="56.5" y1="505.32" x2="58.6" y2="505.32" stroke="#222" stroke-width="1"/>
<text x="50.8" y="509.11999999999995" font-size="10.8" font-weight="bold" text-anchor="end" fill="#000">40</text>
<line x1="56.5" y1="484.08" x2="58.6" y2="484.08" stroke="#222" stroke-width="1"/>
<text x="50.8" y="487.87999999999994" font-size="10.8" font-weight="bold" text-anchor="end" fill="#000">60</text>
<line x1="56.5" y1="462.84" x2="58.6" y2="462.84" stroke="#222" stroke-width="1"/>
<text x="50.8" y="466.63999999999993" font-size="10.8" font-weight="bold" text-anchor="end" fill="#000">80</text>
<line x1="56.5" y1="441.60" x2="58.6" y2="441.60" stroke="#222" stroke-width="1"/>
<text x="50.8" y="445.4" font-size="10.8" font-weight="bold" text-anchor="end" fill="#000">100</text>
<rect x="67.6" y="539.30" width="5.6" height="8.50" fill="#909090"/>
<line x1="70.39999999999999" y1="538.24" x2="70.39999999999999" y2="539.30" stroke="#555" stroke-width="1"/>
<rect x="88" y="483.44" width="5.6" height="64.36" fill="#909090"/>
<line x1="90.8" y1="480.26" x2="90.8" y2="483.44" stroke="#555" stroke-width="1"/>
<rect x="108" y="457.11" width="5.6" height="90.69" fill="#909090"/>
<line x1="110.8" y1="452.86" x2="110.8" y2="457.11" stroke="#555" stroke-width="1"/>
<rect x="148" y="468.15" width="5.6" height="79.65" fill="#909090"/>
<line x1="150.8" y1="457.53" x2="150.8" y2="468.15" stroke="#555" stroke-width="1"/>
<rect x="168" y="454.66" width="5.6" height="93.14" fill="#909090"/>
<line x1="170.8" y1="447.23" x2="170.8" y2="454.66" stroke="#555" stroke-width="1"/>
<text x="124" y="544.7" font-size="10.8" font-weight="bold" text-anchor="start" fill="#000">N/D</text>
<g stroke="#1a1a1a" stroke-width="1.3"><line x1="72" y1="439.3" x2="88.7" y2="439.3"/><line x1="92" y1="439.3" x2="108.7" y2="439.3"/><line x1="72" y1="447.4" x2="151.3" y2="447.4"/></g>
<polygon points="80.00,432.00 80.76,433.55 82.47,433.80 81.24,435.00 81.53,436.70 80.00,435.90 78.47,436.70 78.76,435.00 77.53,433.80 79.24,433.55" fill="#111"/>
<polygon points="100.00,432.00 100.76,433.55 102.47,433.80 101.24,435.00 101.53,436.70 100.00,435.90 98.47,436.70 98.76,435.00 97.53,433.80 99.24,433.55" fill="#111"/>
<polygon points="111.30,441.00 112.06,442.55 113.77,442.80 112.54,444.00 112.83,445.70 111.30,444.90 109.77,445.70 110.06,444.00 108.83,442.80 110.54,442.55" fill="#111"/>
<text x="29.4" y="491.5" font-size="10.8" font-weight="bold" text-anchor="middle" fill="#000" transform="rotate(-90 29.4 491.5)">% CFSE<tspan dy="-4" font-size="7">lo</tspan></text>
<text x="64" y="557.5" font-size="10.8" font-weight="normal" stroke="#000" stroke-width="0.3" transform="rotate(35 64 557.5)">T<tspan font-size="7.5" font-weight="bold" stroke-width="0" dy="2.6">N</tspan></text>
<text x="82" y="557.5" font-size="10.8" font-weight="normal" stroke="#000" stroke-width="0.3" transform="rotate(35 82 557.5)">T<tspan font-size="7.5" font-weight="bold" stroke-width="0" dy="2.6">SCM</tspan></text>
<text x="102" y="557.5" font-size="10.8" font-weight="normal" stroke="#000" stroke-width="0.3" transform="rotate(35 102 557.5)">T<tspan font-size="7.5" font-weight="bold" stroke-width="0" dy="2.6">MEM</tspan></text>
<text x="126.5" y="557.5" font-size="10.8" font-weight="normal" stroke="#000" stroke-width="0.3" transform="rotate(35 126.5 557.5)">T<tspan font-size="7.5" font-weight="bold" stroke-width="0" dy="2.6">N</tspan></text>
<text x="144" y="557.5" font-size="10.8" font-weight="normal" stroke="#000" stroke-width="0.3" transform="rotate(35 144 557.5)">T<tspan font-size="7.5" font-weight="bold" stroke-width="0" dy="2.6">SCM</tspan></text>
<text x="163.5" y="557.5" font-size="10.8" font-weight="normal" stroke="#000" stroke-width="0.3" transform="rotate(35 163.5 557.5)">T<tspan font-size="7.5" font-weight="bold" stroke-width="0" dy="2.6">MEM</tspan></text>
<line x1="71.5" y1="573.2" x2="110.8" y2="573.2" stroke="#222" stroke-width="1"/>
<line x1="132.8" y1="573.2" x2="171.5" y2="573.2" stroke="#222" stroke-width="1"/>
<text x="91.5" y="585.5" font-size="10.8" font-weight="bold" text-anchor="middle" fill="#000">HD</text>
<text x="153" y="585.5" font-size="10.8" font-weight="bold" text-anchor="middle" fill="#000">R</text>
<path d="M261.7,479.1 L261.70,452.40 A26.7,26.7 0 0 1 263.10,452.44 Z" fill="#0a0a0a" stroke="#fff" stroke-width="0.35" stroke-opacity="0.5"/>
<path d="M261.7,479.1 L263.10,452.44 A26.7,26.7 0 0 1 283.30,494.79 Z" fill="#1c28aa" stroke="#fff" stroke-width="0.35" stroke-opacity="0.5"/>
<path d="M261.7,479.1 L283.30,494.79 A26.7,26.7 0 0 1 267.71,505.12 Z" fill="#8a1c02" stroke="#fff" stroke-width="0.35" stroke-opacity="0.5"/>
<path d="M261.7,479.1 L267.71,505.12 A26.7,26.7 0 0 1 262.63,505.78 Z" fill="#9a9a9a" stroke="#fff" stroke-width="0.35" stroke-opacity="0.5"/>
<path d="M261.7,479.1 L262.63,505.78 A26.7,26.7 0 0 1 257.98,505.54 Z" fill="#c8c8c8" stroke="#fff" stroke-width="0.35" stroke-opacity="0.5"/>
<path d="M261.7,479.1 L257.98,505.54 A26.7,26.7 0 0 1 261.70,452.40 Z" fill="#e6e6e6" stroke="#fff" stroke-width="0.35" stroke-opacity="0.5"/>
<circle cx="261.7" cy="479.1" r="26.7" fill="none" stroke="#a0a0a0" stroke-width="0.8"/>
<path d="M318.5,479.0 L318.50,452.30 A26.7,26.7 0 0 1 319.20,452.31 Z" fill="#0a0a0a" stroke="#fff" stroke-width="0.35" stroke-opacity="0.5"/>
<path d="M318.5,479.0 L319.20,452.31 A26.7,26.7 0 0 1 345.10,476.67 Z" fill="#1c28aa" stroke="#fff" stroke-width="0.35" stroke-opacity="0.5"/>
<path d="M318.5,479.0 L345.10,476.67 A26.7,26.7 0 0 1 292.83,486.36 Z" fill="#8a1c02" stroke="#fff" stroke-width="0.35" stroke-opacity="0.5"/>
<path d="M318.5,479.0 L292.83,486.36 A26.7,26.7 0 0 1 292.59,485.46 Z" fill="#c8c8c8" stroke="#fff" stroke-width="0.35" stroke-opacity="0.5"/>
<path d="M318.5,479.0 L292.59,485.46 A26.7,26.7 0 0 1 318.50,452.30 Z" fill="#e6e6e6" stroke="#fff" stroke-width="0.35" stroke-opacity="0.5"/>
<circle cx="318.5" cy="479.0" r="26.7" fill="none" stroke="#a0a0a0" stroke-width="0.8"/>
<path d="M376.1,479.1 L376.10,452.40 A26.7,26.7 0 0 1 379.35,452.60 Z" fill="#0a0a0a" stroke="#fff" stroke-width="0.35" stroke-opacity="0.5"/>
<path d="M376.1,479.1 L379.35,452.60 A26.7,26.7 0 0 1 380.74,452.81 Z" fill="#5e5e5e" stroke="#fff" stroke-width="0.35" stroke-opacity="0.5"/>
<path d="M376.1,479.1 L380.74,452.81 A26.7,26.7 0 0 1 400.68,489.53 Z" fill="#1c28aa" stroke="#fff" stroke-width="0.35" stroke-opacity="0.5"/>
<path d="M376.1,479.1 L400.68,489.53 A26.7,26.7 0 0 1 366.10,503.86 Z" fill="#8a1c02" stroke="#fff" stroke-width="0.35" stroke-opacity="0.5"/>
<path d="M376.1,479.1 L366.10,503.86 A26.7,26.7 0 0 1 358.94,499.55 Z" fill="#9a9a9a" stroke="#fff" stroke-width="0.35" stroke-opacity="0.5"/>
<path d="M376.1,479.1 L358.94,499.55 A26.7,26.7 0 0 1 356.57,497.31 Z" fill="#c8c8c8" stroke="#fff" stroke-width="0.35" stroke-opacity="0.5"/>
<path d="M376.1,479.1 L356.57,497.31 A26.7,26.7 0 0 1 376.10,452.40 Z" fill="#e6e6e6" stroke="#fff" stroke-width="0.35" stroke-opacity="0.5"/>
<circle cx="376.1" cy="479.1" r="26.7" fill="none" stroke="#a0a0a0" stroke-width="0.8"/>
<path d="M432.8,479.1 L432.80,452.40 A26.7,26.7 0 0 1 446.95,456.46 Z" fill="#0a0a0a" stroke="#fff" stroke-width="0.35" stroke-opacity="0.5"/>
<path d="M432.8,479.1 L446.95,456.46 A26.7,26.7 0 0 1 431.87,505.78 Z" fill="#1c28aa" stroke="#fff" stroke-width="0.35" stroke-opacity="0.5"/>
<path d="M432.8,479.1 L431.87,505.78 A26.7,26.7 0 0 1 427.71,505.31 Z" fill="#8a1c02" stroke="#fff" stroke-width="0.35" stroke-opacity="0.5"/>
<path d="M432.8,479.1 L427.71,505.31 A26.7,26.7 0 0 1 412.35,496.26 Z" fill="#9a9a9a" stroke="#fff" stroke-width="0.35" stroke-opacity="0.5"/>
<path d="M432.8,479.1 L412.35,496.26 A26.7,26.7 0 0 1 432.80,452.40 Z" fill="#e6e6e6" stroke="#fff" stroke-width="0.35" stroke-opacity="0.5"/>
<circle cx="432.8" cy="479.1" r="26.7" fill="none" stroke="#a0a0a0" stroke-width="0.8"/>
<path d="M261.6,557.0 L261.60,530.30 A26.7,26.7 0 0 1 268.96,531.33 Z" fill="#0a0a0a" stroke="#fff" stroke-width="0.35" stroke-opacity="0.5"/>
<path d="M261.6,557.0 L268.96,531.33 A26.7,26.7 0 0 1 274.95,533.88 Z" fill="#5e5e5e" stroke="#fff" stroke-width="0.35" stroke-opacity="0.5"/>
<path d="M261.6,557.0 L274.95,533.88 A26.7,26.7 0 0 1 282.64,540.56 Z" fill="#1c28aa" stroke="#fff" stroke-width="0.35" stroke-opacity="0.5"/>
<path d="M261.6,557.0 L282.64,540.56 A26.7,26.7 0 0 1 280.97,575.38 Z" fill="#8a1c02" stroke="#fff" stroke-width="0.35" stroke-opacity="0.5"/>
<path d="M261.6,557.0 L280.97,575.38 A26.7,26.7 0 0 1 256.96,583.29 Z" fill="#9a9a9a" stroke="#fff" stroke-width="0.35" stroke-opacity="0.5"/>
<path d="M261.6,557.0 L256.96,583.29 A26.7,26.7 0 0 1 238.25,544.06 Z" fill="#c8c8c8" stroke="#fff" stroke-width="0.35" stroke-opacity="0.5"/>
<path d="M261.6,557.0 L238.25,544.06 A26.7,26.7 0 0 1 261.60,530.30 Z" fill="#e6e6e6" stroke="#fff" stroke-width="0.35" stroke-opacity="0.5"/>
<circle cx="261.6" cy="557.0" r="26.7" fill="none" stroke="#a0a0a0" stroke-width="0.8"/>
<path d="M318.5,557.2 L318.50,530.50 A26.7,26.7 0 0 1 320.13,530.55 Z" fill="#0a0a0a" stroke="#fff" stroke-width="0.35" stroke-opacity="0.5"/>
<path d="M318.5,557.2 L320.13,530.55 A26.7,26.7 0 0 1 320.83,530.60 Z" fill="#5e5e5e" stroke="#fff" stroke-width="0.35" stroke-opacity="0.5"/>
<path d="M318.5,557.2 L320.83,530.60 A26.7,26.7 0 0 1 331.44,533.85 Z" fill="#1c28aa" stroke="#fff" stroke-width="0.35" stroke-opacity="0.5"/>
<path d="M318.5,557.2 L331.44,533.85 A26.7,26.7 0 1 1 292.34,562.52 Z" fill="#8a1c02" stroke="#fff" stroke-width="0.35" stroke-opacity="0.5"/>
<path d="M318.5,557.2 L292.34,562.52 A26.7,26.7 0 0 1 291.90,554.87 Z" fill="#9a9a9a" stroke="#fff" stroke-width="0.35" stroke-opacity="0.5"/>
<path d="M318.5,557.2 L291.90,554.87 A26.7,26.7 0 0 1 293.33,548.29 Z" fill="#c8c8c8" stroke="#fff" stroke-width="0.35" stroke-opacity="0.5"/>
<path d="M318.5,557.2 L293.33,548.29 A26.7,26.7 0 0 1 318.50,530.50 Z" fill="#e6e6e6" stroke="#fff" stroke-width="0.35" stroke-opacity="0.5"/>
<circle cx="318.5" cy="557.2" r="26.7" fill="none" stroke="#a0a0a0" stroke-width="0.8"/>
<path d="M376.2,557.4 L376.20,530.70 A26.7,26.7 0 0 1 392.64,536.36 Z" fill="#0a0a0a" stroke="#fff" stroke-width="0.35" stroke-opacity="0.5"/>
<path d="M376.2,557.4 L392.64,536.36 A26.7,26.7 0 0 1 401.45,548.71 Z" fill="#5e5e5e" stroke="#fff" stroke-width="0.35" stroke-opacity="0.5"/>
<path d="M376.2,557.4 L401.45,548.71 A26.7,26.7 0 0 1 402.41,562.49 Z" fill="#1c28aa" stroke="#fff" stroke-width="0.35" stroke-opacity="0.5"/>
<path d="M376.2,557.4 L402.41,562.49 A26.7,26.7 0 0 1 390.35,580.04 Z" fill="#8a1c02" stroke="#fff" stroke-width="0.35" stroke-opacity="0.5"/>
<path d="M376.2,557.4 L390.35,580.04 A26.7,26.7 0 0 1 350.53,564.76 Z" fill="#9a9a9a" stroke="#fff" stroke-width="0.35" stroke-opacity="0.5"/>
<path d="M376.2,557.4 L350.53,564.76 A26.7,26.7 0 0 1 355.75,540.24 Z" fill="#c8c8c8" stroke="#fff" stroke-width="0.35" stroke-opacity="0.5"/>
<path d="M376.2,557.4 L355.75,540.24 A26.7,26.7 0 0 1 376.20,530.70 Z" fill="#e6e6e6" stroke="#fff" stroke-width="0.35" stroke-opacity="0.5"/>
<circle cx="376.2" cy="557.4" r="26.7" fill="none" stroke="#a0a0a0" stroke-width="0.8"/>
<path d="M432.7,557.4 L432.70,530.70 A26.7,26.7 0 0 1 447.09,534.91 Z" fill="#0a0a0a" stroke="#fff" stroke-width="0.35" stroke-opacity="0.5"/>
<path d="M432.7,557.4 L447.09,534.91 A26.7,26.7 0 0 1 448.01,535.53 Z" fill="#5e5e5e" stroke="#fff" stroke-width="0.35" stroke-opacity="0.5"/>
<path d="M432.7,557.4 L448.01,535.53 A26.7,26.7 0 0 1 459.36,555.86 Z" fill="#1c28aa" stroke="#fff" stroke-width="0.35" stroke-opacity="0.5"/>
<path d="M432.7,557.4 L459.36,555.86 A26.7,26.7 0 0 1 459.35,559.03 Z" fill="#8a1c02" stroke="#fff" stroke-width="0.35" stroke-opacity="0.5"/>
<path d="M432.7,557.4 L459.35,559.03 A26.7,26.7 0 0 1 406.00,557.40 Z" fill="#9a9a9a" stroke="#fff" stroke-width="0.35" stroke-opacity="0.5"/>
<path d="M432.7,557.4 L406.00,557.40 A26.7,26.7 0 0 1 407.55,548.44 Z" fill="#c8c8c8" stroke="#fff" stroke-width="0.35" stroke-opacity="0.5"/>
<path d="M432.7,557.4 L407.55,548.44 A26.7,26.7 0 0 1 432.70,530.70 Z" fill="#e6e6e6" stroke="#fff" stroke-width="0.35" stroke-opacity="0.5"/>
<circle cx="432.7" cy="557.4" r="26.7" fill="none" stroke="#a0a0a0" stroke-width="0.8"/>
<text x="245.2" y="438.4" font-size="10.8" font-weight="bold" text-anchor="start" fill="#000">R</text>
<text x="255.5" y="438.3" font-size="10.8" font-weight="normal" stroke="#000" stroke-width="0.3">T<tspan font-size="7.5" font-weight="bold" stroke-width="0" dy="2.7">SCM</tspan></text>
<text x="313.3" y="438.3" font-size="10.8" font-weight="normal" stroke="#000" stroke-width="0.3">T<tspan font-size="7.5" font-weight="bold" stroke-width="0" dy="2.7">N</tspan></text>
<text x="366.3" y="438.3" font-size="10.8" font-weight="normal" stroke="#000" stroke-width="0.3">T<tspan font-size="7.5" font-weight="bold" stroke-width="0" dy="2.7">SCM</tspan></text>
<text x="424.5" y="438.3" font-size="10.8" font-weight="normal" stroke="#000" stroke-width="0.3">T<tspan font-size="7.5" font-weight="bold" stroke-width="0" dy="2.7">MEM</tspan></text>
<text x="376.4" y="421.9" font-size="10.8" font-weight="bold" text-anchor="middle" fill="#000">HD</text>
<line x1="318.6" y1="424" x2="433.1" y2="424" stroke="#111" stroke-width="1.2"/>
<text x="202.2" y="483.5" font-size="10.8" font-weight="bold" text-anchor="start" fill="#000">CD4<tspan dy="-4" font-size="7">+</tspan></text>
<text x="202.2" y="560.6" font-size="10.8" font-weight="bold" text-anchor="start" fill="#000">CD8<tspan dy="-4" font-size="7">+</tspan></text>
<g stroke="#0a0a0a" stroke-width="1.45"><line x1="260.5" y1="446.9" x2="284.2" y2="446.9"/><line x1="293.7" y1="446.9" x2="319.2" y2="446.9"/><line x1="261.7" y1="513.1" x2="282.9" y2="513.1"/><line x1="294.4" y1="513.1" x2="318.5" y2="513.1"/><line x1="261.7" y1="519.4" x2="313.7" y2="519.4"/><line x1="323.3" y1="519.4" x2="377.3" y2="519.4"/><line x1="261.7" y1="524.9" x2="340.6" y2="524.9"/><line x1="350.2" y1="524.9" x2="431.5" y2="524.9"/></g>
<polygon points="289.00,444.60 289.76,446.15 291.47,446.40 290.24,447.60 290.53,449.30 289.00,448.50 287.47,449.30 287.76,447.60 286.53,446.40 288.24,446.15" fill="#111"/>
<polygon points="288.70,510.70 289.46,512.25 291.17,512.50 289.94,513.70 290.23,515.40 288.70,514.60 287.17,515.40 287.46,513.70 286.23,512.50 287.94,512.25" fill="#111"/>
<polygon points="318.10,517.00 318.86,518.55 320.57,518.80 319.34,520.00 319.63,521.70 318.10,520.90 316.57,521.70 316.86,520.00 315.63,518.80 317.34,518.55" fill="#111"/>
<polygon points="345.20,523.70 345.96,525.25 347.67,525.50 346.44,526.70 346.73,528.40 345.20,527.60 343.67,528.40 343.96,526.70 342.73,525.50 344.44,525.25" fill="#111"/>
<rect x="464.4" y="453.6" width="6.4" height="6.4" fill="#111" stroke="#111" stroke-width="1.4"/>
<circle cx="476.8" cy="456.9" r="1.8" fill="#000"/>
<circle cx="492.1" cy="456.9" r="1.8" fill="#000"/>
<circle cx="507.2" cy="456.9" r="1.8" fill="#000"/>
<rect x="464.4" y="463.7" width="6.4" height="6.4" fill="#666" stroke="#111" stroke-width="1.4"/>
<circle cx="476.8" cy="467.0" r="1.8" fill="#000"/>
<circle cx="492.1" cy="467.0" r="1.8" fill="#000"/>
<rect x="464.4" y="473.8" width="6.4" height="6.4" fill="#2233a0" stroke="#111" stroke-width="1.4"/>
<circle cx="476.8" cy="477.1" r="1.8" fill="#000"/>
<circle cx="507.2" cy="477.1" r="1.8" fill="#000"/>
<rect x="464.4" y="483.9" width="6.4" height="6.4" fill="#7a1a1a" stroke="#111" stroke-width="1.4"/>
<circle cx="476.8" cy="487.2" r="1.8" fill="#000"/>
<rect x="464.4" y="494.0" width="6.4" height="6.4" fill="#999" stroke="#111" stroke-width="1.4"/>
<circle cx="492.1" cy="497.3" r="1.8" fill="#000"/>
<circle cx="507.2" cy="497.3" r="1.8" fill="#000"/>
<rect x="464.4" y="504.1" width="6.4" height="6.4" fill="#ccc" stroke="#111" stroke-width="1.4"/>
<circle cx="492.1" cy="507.4" r="1.8" fill="#000"/>
<rect x="464.4" y="514.2" width="6.4" height="6.4" fill="#fff" stroke="#111" stroke-width="1.4"/>
<circle cx="507.2" cy="517.5" r="1.8" fill="#000"/>
<text x="466.6" y="438.8" font-size="10" font-weight="bold" transform="rotate(45 466.6 438.8)">IL-2</text>
<text x="481.0" y="438.4" font-size="10" font-weight="bold" transform="rotate(45 481.0 438.4)">IFN-γ</text>
<text x="497.4" y="438.2" font-size="10" font-weight="bold" transform="rotate(45 497.4 438.2)">TNF</text>
</svg>
</body></html>
